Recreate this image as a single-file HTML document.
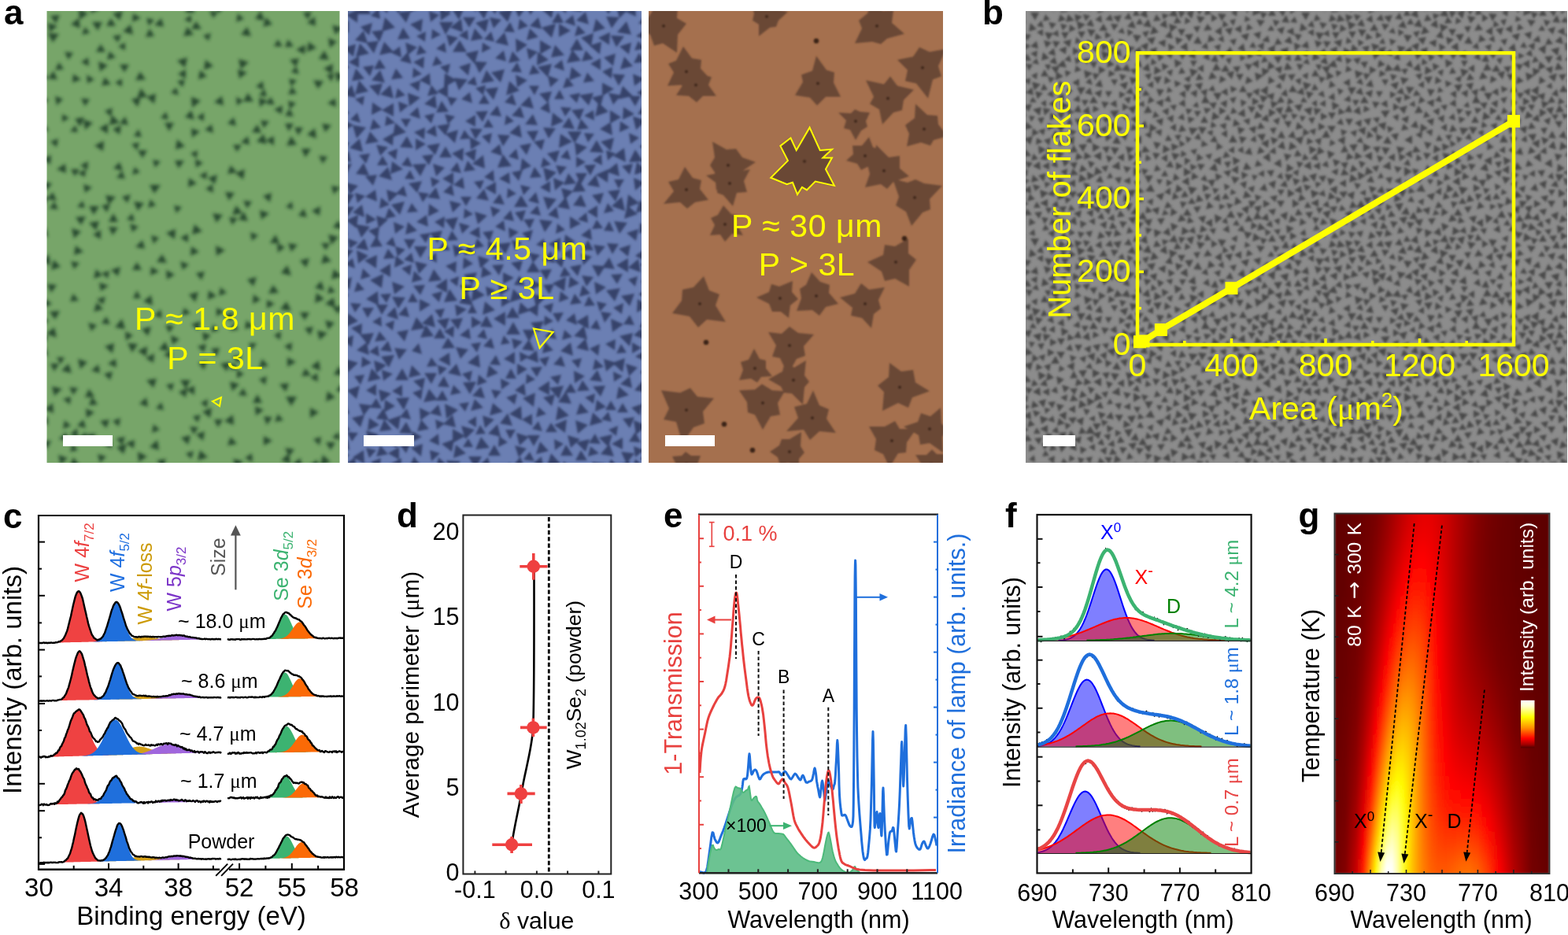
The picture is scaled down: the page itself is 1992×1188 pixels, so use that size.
<!DOCTYPE html>
<html><head><meta charset="utf-8"><title>Figure</title>
<style>html,body{margin:0;padding:0;background:#fff;overflow:hidden}svg{display:block}text{font-family:'Liberation Sans', Arial, Helvetica, sans-serif}</style>
</head><body>
<svg width="1992" height="1188" viewBox="0 0 1992 1188">
<defs><filter id="bl1" x="-5%" y="-5%" width="110%" height="110%"><feGaussianBlur stdDeviation="2.2"/></filter><filter id="bl2" x="-5%" y="-5%" width="110%" height="110%"><feGaussianBlur stdDeviation="1.2"/></filter><filter id="bl4" x="-5%" y="-5%" width="110%" height="110%"><feGaussianBlur stdDeviation="1.7"/></filter><filter id="bl3" x="-5%" y="-5%" width="110%" height="110%"><feGaussianBlur stdDeviation="1.0"/></filter><clipPath id="cg"><rect x="59.5" y="14" width="372.0" height="574"/></clipPath><clipPath id="cb"><rect x="442" y="14" width="373" height="574"/></clipPath><clipPath id="co"><rect x="824" y="14" width="374" height="574"/></clipPath><clipPath id="cy"><rect x="1303" y="14" width="688" height="574"/></clipPath><pattern id="gpat" patternUnits="userSpaceOnUse" x="1303" y="14" width="344" height="287"><path d="M182 123l-1 10l-8 -6zM243 167l8 6l-9 4zM226 78l-8 -5l8 -5zM327 122l-3 10l-7 -8zM143 119l7 -5l1 8zM120 157l10 -2l-3 10zM93 257l-8 -7l11 -3zM294 119l9 0l-4 8zM186 178l-1 -10l10 4zM312 18l4 7l-9 0zM42 172l1 -9l7 5zM115 146l9 3l-7 6zM346 132l-6 6l-3 -8zM2 132l-6 6l-3 -8zM147 158l0 11l-10 -5zM250 263l-9 7l-1 -12zM189 88l9 4l-8 5zM24 74l5 9l-10 0zM201 199l10 6l-10 5zM265 76l-3 11l-7 -8zM232 87l4 -10l7 8zM203 101l0 10l-8 -6zM211 260l-11 0l5 -9zM312 266l2 9l-9 -3zM237 181l-3 8l-6 -6zM129 140l-7 -6l8 -3zM328 90l-8 -7l11 -4zM255 127l-9 5l0 -10zM206 134l9 3l-8 6zM50 75l8 3l-7 6zM40 264l-7 -8l11 -3zM313 -3l5 9l-10 0zM313 284l5 9l-10 0zM276 172l1 9l-8 -4zM261 104l-1 -9l9 4zM240 26l9 -6l0 11zM137 106l-10 -2l7 -7zM98 159l-9 3l2 -10zM170 134l-9 2l3 -9zM161 255l-9 2l2 -9zM61 128l6 -9l4 10zM273 190l-9 6l-1 -11zM303 57l5 7l-9 2zM324 250l-5 -9l10 0zM162 166l10 2l-6 8zM225 59l7 -6l2 10zM28 54l8 -7l2 10zM150 266l11 -2l-4 10zM206 223l12 2l-8 9zM169 27l-11 3l4 -11zM96 51l11 3l-8 8zM203 1l-6 8l-3 -9zM203 288l-6 8l-3 -9zM49 114l-9 -4l8 -6zM42 222l-3 -10l10 2zM279 135l-10 -4l9 -7zM6 85l-1 9l-7 -6zM350 85l-1 9l-7 -6zM141 40l-5 -10l11 1zM281 38l-8 -7l11 -3zM324 235l-4 -8l9 0zM311 160l10 3l-7 7zM37 147l-9 5l0 -10zM-3 185l4 -9l6 8zM341 185l4 -9l6 8zM179 214l8 4l-8 5zM193 23l10 0l-5 9zM169 64l-2 -10l9 4zM250 61l-5 -7l9 0zM202 17l1 -9l7 5zM85 237l11 0l-6 9zM160 55l-7 7l-3 -9zM294 157l11 -1l-4 10zM255 4l-6 9l-5 -10zM255 291l-6 9l-5 -10zM247 242l-9 -3l8 -7zM81 117l5 -9l6 9zM166 99l10 1l-6 9zM241 193l3 11l-11 -3zM298 20l-5 -9l11 1zM294 44l9 -4l-1 10zM19 202l-10 -5l9 -6zM72 61l10 -2l-4 9zM272 89l-5 -9l10 0zM241 102l-9 -1l6 -7zM98 205l-11 4l2 -11zM269 48l8 -7l2 11zM134 199l-6 7l-4 -9zM330 176l-10 -3l7 -8zM290 57l-8 4l0 -8zM217 6l11 2l-7 8zM188 132l-1 10l-8 -6zM60 145l-9 -2l6 -7zM196 213l-9 3l2 -10zM226 241l-10 2l3 -10zM23 92l5 8l-9 1zM131 122l-8 5l0 -10zM261 139l-9 -1l5 -7zM235 149l1 -9l7 6zM321 285l-6 -7l9 -1zM213 20l9 -1l-4 9zM196 242l9 1l-6 8zM236 4l8 5l-8 5zM2 242l3 -10l7 7zM346 242l3 -10l7 7zM141 242l5 -7l4 8zM225 91l-3 10l-7 -8zM278 268l5 -9l6 8zM57 246l6 7l-9 1zM2 38l-5 -9l10 1zM346 38l-5 -9l10 1zM85 262l-8 -6l9 -4zM64 69l7 6l-9 3zM16 171l10 5l-9 6zM177 83l8 6l-9 4zM184 269l10 4l-8 7zM113 95l-5 -8l9 0zM110 102l-5 8l-4 -8zM336 166l9 7l-11 4zM-8 166l9 7l-11 4zM289 231l-7 -6l9 -3zM145 147l7 -8l3 10zM78 169l-5 10l-6 -9zM200 227l-10 4l2 -11zM17 2l-5 10l-6 -10zM17 289l-5 10l-6 -10zM94 280l7 7l-10 3zM94 -7l7 7l-10 3zM154 35l11 -2l-4 10zM166 4l6 8l-10 1zM324 188l1 11l-10 -5zM217 110l-8 -6l9 -4zM23 37l10 3l-7 7zM345 103l-11 0l5 -9zM1 103l-11 0l5 -9zM233 117l10 -1l-4 9zM124 216l9 -5l0 9zM43 70l-4 10l-7 -9zM336 14l6 -7l3 8zM-8 14l6 -7l3 8zM17 155l-9 4l1 -10zM45 155l-6 -9l11 0zM127 172l11 2l-8 8zM224 42l-11 -1l6 -9zM80 267l8 -4l0 9zM109 31l-8 4l0 -9zM33 263l7 7l-10 2zM135 11l-10 -1l6 -8zM308 93l1 -10l8 6zM123 21l3 8l-9 -2zM28 239l0 10l-10 -5zM178 11l2 11l-10 -4zM73 218l9 2l-5 7zM295 209l-5 7l-3 -8zM63 190l2 -10l8 6zM146 216l-4 8l-5 -8zM186 249l-10 2l4 -9zM206 51l-10 -5l9 -6zM221 282l2 -10l8 6zM172 187l8 -5l0 10zM177 46l-9 -6l10 -4zM229 260l-3 10l-7 -8zM202 112l1 10l-9 -4zM271 157l-2 -10l10 3zM58 159l-2 -9l9 3zM63 42l1 -9l7 6zM67 251l4 -10l6 8zM102 277l-8 -6l9 -4zM265 220l-4 -10l11 2zM79 45l-1 -9l8 4zM146 45l1 10l-10 -4zM56 56l2 9l-9 -3zM187 53l-2 8l-7 -6zM323 259l10 -4l-2 11zM164 70l9 6l-10 5zM292 158l1 9l-8 -3zM130 32l-1 -9l8 4zM8 259l-10 1l4 -9zM352 259l-10 1l4 -9zM253 228l-1 -9l8 4zM172 202l-9 2l3 -9zM324 106l7 -7l2 10zM40 241l2 9l-9 -3zM164 288l-1 -11l10 4zM164 1l-1 -11l10 4zM265 247l2 -11l8 7zM158 77l-10 -3l8 -8zM254 61l8 -2l-3 9zM189 61l10 5l-9 6zM156 10l4 11l-11 -2zM56 17l8 6l-9 4zM113 54l7 -6l2 10zM71 195l7 7l-10 3zM89 24l-6 9l-5 -10zM267 10l-3 9l-5 -7zM39 16l-6 7l-4 -9zM256 113l-1 10l-8 -6zM65 97l11 0l-6 10zM39 177l10 4l-8 7zM162 98l-8 -4l8 -5zM84 185l-10 4l1 -10zM306 107l10 -3l-2 10zM182 6l7 -9l4 10zM182 293l7 -9l4 10zM223 173l1 -9l8 6zM20 144l-5 -8l9 -1zM205 182l-8 4l1 -9zM211 162l-6 6l-2 -9zM83 138l-1 10l-8 -6zM78 270l-8 6l-1 -10zM316 43l4 -9l6 8zM233 30l8 7l-10 3zM296 108l-8 -6l9 -4zM112 77l4 -10l7 8zM11 256l10 -1l-4 9zM22 52l8 8l-10 3zM328 75l4 -10l7 9zM297 227l7 -8l3 10zM93 70l9 5l-9 5zM301 186l9 -6l1 12zM306 203l10 -1l-4 9zM21 279l4 -8l5 7zM140 -2l5 8l-9 0zM140 285l5 8l-9 0zM164 153l9 -3l-1 9zM34 38l10 1l-6 8zM213 29l-5 10l-6 -9zM119 80l9 2l-6 7zM275 272l4 9l-10 -2zM283 241l10 1l-7 9zM37 85l-6 7l-3 -9zM328 39l8 -7l3 10zM302 82l-9 7l-2 -11zM329 61l7 -6l1 9zM222 214l6 -6l3 9zM95 173l-10 6l0 -11zM263 157l6 10l-11 0zM51 14l3 -10l8 8zM211 158l-4 -10l12 1zM321 67l-6 -9l11 -1zM325 205l2 9l-8 -3zM75 160l-7 -6l9 -3zM248 42l-2 9l-7 -6zM92 222l10 3l-7 7zM289 22l-9 3l2 -9zM198 157l-4 8l-5 -7zM40 129l10 0l-5 9zM265 137l8 7l-10 3zM229 252l3 -10l7 7zM265 23l9 -5l0 10zM281 216l-2 10l-7 -7zM247 82l8 5l-9 5zM319 148l-4 9l-5 -8zM34 101l2 9l-9 -4zM-1 151l2 -10l8 7zM343 151l2 -10l8 7zM147 200l9 2l-6 7zM349 215l-7 7l-3 -10zM5 215l-7 7l-3 -10zM35 227l2 9l-9 -3zM190 46l-8 5l-1 -10zM280 59l-7 5l-1 -8zM176 114l6 -7l3 9zM127 100l-8 -7l11 -3zM218 135l-4 -8l9 0zM22 32l-8 -5l8 -4zM198 71l5 8l-9 1zM4 76l-4 -9l9 1zM348 76l-4 -9l9 1zM261 2l8 -4l-1 9zM261 289l8 -4l-1 9zM67 146l-5 -9l10 0zM7 63l-10 0l5 -9zM351 63l-10 0l5 -9zM154 284l-2 -9l9 2zM177 33l7 -8l3 10zM214 274l2 9l-9 -3zM341 116l-9 3l2 -9zM202 186l8 4l-8 6zM257 177l8 -5l0 9zM112 258l1 9l-9 -3zM287 67l9 -5l0 11zM63 282l-8 4l1 -9zM63 -5l-8 4l1 -9zM187 74l-2 9l-6 -6zM290 -5l9 7l-11 4zM290 282l9 7l-11 4zM313 124l-2 -10l10 3zM63 214l0 10l-9 -5zM258 211l-7 -7l10 -2zM45 27l10 0l-5 9zM176 230l8 -6l0 10zM106 135l-3 8l-6 -7zM281 161l-7 8l-3 -10zM66 179l-10 1l5 -10zM161 180l10 1l-6 8zM85 79l-9 7l-2 -11zM323 135l-2 10l-7 -6zM9 125l11 -3l-2 11zM119 220l-6 -8l9 -1zM302 250l0 -10l9 5zM60 101l-6 6l-2 -9zM249 268l6 -6l2 9zM339 239l9 6l-9 5zM-5 239l9 6l-9 5zM135 94l-3 -10l11 2zM58 239l-7 6l-1 -9zM76 26l-5 9l-5 -9zM65 13l11 4l-9 7zM260 45l4 9l-10 -1zM276 202l4 -10l7 9zM218 194l10 1l-6 8zM116 123l-9 -5l8 -5zM326 30l-7 -7l10 -3zM175 170l9 6l-10 5zM129 228l11 -1l-5 10zM108 173l11 1l-6 9zM118 17l-6 8l-4 -9zM14 60l3 8l-9 -2zM241 206l9 4l-8 6zM43 88l7 7l-9 3zM6 45l8 -7l2 10zM335 15l-10 -1l6 -9zM309 64l8 7l-10 4zM13 269l-9 4l1 -10zM85 129l1 -9l8 5zM164 114l-9 4l2 -10zM126 261l-10 1l4 -9zM305 277l-11 2l3 -10zM160 188l-8 3l1 -9zM99 16l5 9l-11 0zM65 272l-10 -4l8 -7zM231 16l6 8l-11 1zM51 11l-10 3l3 -10zM207 211l1 11l-10 -5zM224 157l-5 -10l11 1zM182 70l-8 6l-1 -10zM151 81l9 -2l-3 9zM68 96l-9 -5l9 -5zM177 165l4 -8l5 8zM297 115l-9 5l0 -10zM123 276l-4 -9l10 1zM148 72l-9 -3l6 -7zM201 86l9 -4l-2 9zM101 11l7 -7l3 9zM139 46l-8 8l-3 -10zM51 233l-9 -7l10 -4zM49 198l-3 -10l10 3zM101 156l9 4l-8 6zM239 284l-6 -7l9 -1zM218 115l2 8l-8 -2zM17 215l-10 3l2 -10zM11 277l1 9l-8 -3zM11 -10l1 9l-8 -3zM56 209l4 -9l7 8zM88 95l7 -8l3 10zM336 281l9 5l-9 5zM336 -6l9 5l-9 5zM-8 281l9 5l-9 5zM-8 -6l9 5l-9 5zM255 262l6 -9l5 10zM260 185l-10 2l4 -9zM162 209l-6 10l-5 -10zM276 139l9 -3l-1 9zM333 226l9 6l-9 5zM6 15l8 8l-10 3zM58 36l-2 10l-9 -7zM36 288l-8 -6l9 -4zM36 1l-8 -6l9 -4zM103 239l9 4l-8 6zM79 190l9 3l-6 7zM293 47l-9 -1l5 -7zM130 263l11 -2l-4 10zM109 222l3 10l-10 -2zM75 104l7 -7l3 10zM331 191l-3 -10l10 2zM150 97l-7 9l-4 -10zM331 205l1 -11l9 6zM254 151l-8 -6l9 -3zM268 109l-4 9l-5 -7zM172 272l-5 -8l10 -1zM105 84l1 -9l8 5zM3 201l-1 9l-7 -5zM347 201l-1 9l-7 -5zM131 255l-6 -10l11 -1zM173 146l-8 -7l10 -3zM88 250l-12 0l6 -10zM298 1l9 2l-6 7zM298 288l9 2l-6 7zM60 113l8 -6l1 9zM24 217l8 2l-7 6zM218 63l-5 8l-4 -8zM244 167l-10 -1l6 -8zM112 287l2 -10l8 7zM112 0l2 -10l8 7zM281 83l8 6l-10 4zM242 66l6 9l-11 1zM293 146l-2 10l-8 -7zM30 171l-7 -7l9 -3zM238 190l10 -5l0 11zM109 198l10 -7l1 11zM96 198l9 -2l-3 9zM184 27l-2 -11l11 4zM130 181l9 4l-8 6zM193 268l4 -10l7 8zM95 209l4 9l-10 -1zM172 210l5 -8l4 8zM263 71l10 -1l-4 9zM-3 40l9 4l-8 7zM341 40l9 4l-8 7zM246 226l-6 7l-3 -8zM244 114l-6 -10l11 0zM21 197l9 -5l0 10zM157 154l1 -11l9 6zM12 102l10 2l-7 8zM28 172l8 7l-10 4zM289 104l-5 8l-4 -8zM137 131l-7 -8l11 -3zM291 198l3 -9l7 7zM106 277l4 -9l6 8zM39 190l2 9l-9 -3zM113 136l-6 -9l12 -1zM211 10l-7 -8l10 -3zM211 297l-7 -8l10 -3zM133 137l10 -4l-2 10zM64 233l10 -4l-2 11zM183 148l8 -5l0 10zM202 139l-9 -3l7 -6zM120 44l-2 -9l9 3zM300 264l-11 1l5 -10zM295 207l8 -5l0 9zM268 35l-3 9l-6 -7zM277 280l11 2l-7 8zM277 -7l11 2l-7 8zM106 116l-6 8l-4 -9zM81 65l10 -1l-4 9zM228 107l6 10l-11 0zM246 245l8 3l-8 5zM216 61l-10 -4l9 -7zM331 272l10 4l-9 7zM123 60l7 -6l2 9zM125 181l0 10l-9 -5zM308 109l-7 8l-4 -10zM94 150l9 -4l-1 10zM119 111l0 -9l8 4zM146 110l-9 4l0 -9zM38 209l-4 9l-6 -8zM22 13l3 -9l6 7zM184 190l4 9l-10 -1zM131 274l6 7l-9 2zM192 119l-3 8l-6 -7zM287 236l-11 2l3 -10zM229 131l-3 -8l10 1zM160 60l7 6l-8 3zM158 179l-11 1l4 -9zM165 234l11 -3l-3 10zM218 175l-3 8l-6 -6zM60 56l0 -10l9 5zM16 152l9 -3l-2 9zM82 288l-6 -7l9 -2zM82 1l-6 -7l9 -2zM4 133l8 1l-5 7zM114 254l0 -9l8 4zM300 236l-7 6l-2 -9zM225 230l0 -10l9 5zM133 74l9 -1l-4 8zM259 239l-10 0l5 -8zM82 6l-6 7l-3 -9zM294 182l3 -10l7 7zM326 70l-2 10l-8 -7zM124 226l-5 9l-6 -9zM61 170l-9 -6l10 -5zM162 238l-1 9l-7 -5zM136 143l7 7l-10 2zM260 234l1 -8l7 5zM232 142l-10 0l5 -9zM93 44l-3 9l-7 -7zM153 -2l2 11l-10 -4zM153 285l2 11l-10 -4zM48 281l6 7l-10 1zM48 -6l6 7l-10 1zM107 172l-4 9l-6 -8zM321 -1l10 -1l-4 9zM321 286l10 -1l-4 9zM195 54l9 0l-5 8zM288 68l-5 8l-5 -9zM0 104l8 -7l2 10zM344 104l8 -7l2 10zM166 214l8 0l-4 7zM277 257l-5 7l-4 -8zM315 260l-7 -7l10 -2zM290 137l3 -10l8 7zM308 95l-1 12l-9 -6zM250 278l8 -6l1 10zM88 235l-8 -4l8 -4zM89 28l8 6l-9 3zM45 274l-3 -11l10 3zM174 122l-9 -6l10 -4zM37 113l0 9l-8 -4zM97 256l3 9l-9 -2zM79 49l-10 3l2 -10zM37 58l3 10l-10 -3zM185 250l8 6l-9 5zM263 21l-3 10l-7 -8zM164 230l-12 -1l7 -9zM88 11l8 -6l1 10zM317 243l-7 -7l10 -2zM214 268l-9 2l2 -9zM151 157l9 -4l-1 9zM216 88l4 -9l6 8zM0 191l9 2l-6 7zM344 191l9 2l-6 7zM133 258l7 -9l4 10zM14 87l-7 -5l8 -4zM273 112l8 4l-7 6zM42 230l8 7l-10 3zM67 218l2 -11l9 7zM282 258l-8 -7l10 -4zM333 224l-10 -2l7 -7zM256 151l0 10l-8 -5zM263 122l6 7l-9 2zM211 84l-3 -11l11 3zM129 67l4 10l-11 -2zM309 141l-10 -3l8 -7zM248 103l8 -5l1 10zM72 128l8 -7l2 11zM297 36l-8 -7l10 -3zM194 154l4 -10l6 8zM333 160l7 -8l3 10zM-11 160l7 -8l3 10zM110 34l3 8l-8 -1zM22 166l-9 4l1 -9zM226 285l-6 7l-3 -8zM226 -2l-6 7l-3 -8zM318 182l-9 -3l8 -6zM142 188l3 9l-9 -2zM200 197l-9 5l0 -10zM316 55l-9 -7l10 -5zM85 79l9 1l-6 8zM9 220l10 3l-7 6zM42 33l-8 -4l7 -5zM278 181l7 -8l3 10zM85 138l10 -2l-3 10zM122 5l-4 10l-7 -8zM338 140l-4 9l-6 -9zM308 219l10 -4l-2 11zM145 9l4 8l-9 0zM150 130l5 -10l6 9zM167 46l-2 10l-8 -7zM32 125l-8 8l-2 -10zM278 14l1 -8l7 5zM111 186l-6 7l-3 -10zM125 233l9 6l-10 4zM95 41l11 3l-8 7zM5 116l4 -7l5 7zM52 45l-1 10l-9 -6zM110 168l6 -9l5 10zM71 113l9 0l-5 8zM52 209l-8 -5l9 -4zM230 -4l6 8l-9 1zM230 283l6 8l-9 1zM78 204l10 5l-9 6zM298 141l6 8l-10 1zM160 252l10 -3l-2 10zM7 190l3 -9l6 7zM271 103l5 -9l5 9zM323 263l-1 9l-7 -6zM331 26l9 -5l1 10zM-13 26l9 -5l1 10zM230 40l2 9l-9 -3zM64 68l-2 -9l9 3zM19 250l-9 0l4 -8zM261 202l9 -6l0 11zM47 25l-3 -9l9 2zM218 257l-5 -8l10 -1zM317 20l-3 -9l9 2zM31 139l0 -10l9 5zM103 213l4 -8l4 7zM174 282l8 -7l2 11zM174 -5l8 -7l2 11zM308 31l2 9l-10 -2zM137 210l0 -12l10 6zM212 205l8 6l-10 4zM6 54l9 -4l-1 9zM77 18l6 -8l4 10zM144 277l-4 -9l10 1zM197 237l5 -9l5 8zM8 118l-4 10l-7 -8zM352 118l-4 10l-7 -8zM252 40l-8 -4l7 -5zM332 57l-9 -8l11 -3zM69 289l-3 -9l9 2zM69 2l-3 -9l9 2zM309 135l0 -11l9 5zM283 208l-8 6l-1 -10zM6 170l-8 -8l11 -3zM350 170l-8 -8l11 -3zM188 230l7 7l-9 3zM19 93l-8 8l-3 -11zM295 273l-9 5l1 -10zM29 76l-5 -8l8 0zM34 250l-5 8l-4 -8zM112 152l-9 -8l11 -3zM95 110l-8 -6l10 -4zM96 190l-10 -6l10 -5zM20 12l3 9l-9 -2zM192 43l-2 -10l10 3zM214 162l6 -7l3 9zM217 191l1 -10l8 6zM65 229l-5 9l-6 -8zM26 113l0 9l-7 -5zM24 27l11 1l-6 9zM20 238l-2 -11l11 4zM113 68l-10 4l2 -10zM62 129l-9 3l1 -9zM324 108l5 8l-10 1zM152 100l6 7l-10 1zM99 252l9 -2l-2 9zM338 89l-5 -8l10 -1zM-6 89l-5 -8l10 -1zM24 271l-4 -9l9 1zM-3 228l9 -6l1 10zM341 228l9 -6l1 10zM238 128l9 7l-11 4zM206 103l-6 -9l11 -1zM309 163l-1 11l-9 -6zM46 126l-1 -11l10 5zM209 194l9 4l-8 5zM330 162l-10 -1l5 -9zM324 91l1 8l-8 -3zM168 93l-6 -9l11 -1zM76 91l6 -6l3 9zM300 58l-9 -3l7 -6zM345 266l-11 3l3 -10zM1 266l-11 3l3 -10zM146 44l10 -4l-2 11zM179 104l2 -8l6 6zM245 65l-10 -1l6 -9zM173 3l9 2l-7 6zM173 290l9 2l-7 6zM185 180l11 2l-7 8zM16 209l10 -3l-3 11zM71 253l-2 10l-8 -6zM85 168l-9 -2l6 -6zM272 273l-9 -1l5 -7zM192 7l6 8l-10 1zM296 257l-6 -8l10 -2zM307 257l2 10l-10 -3zM88 147l-1 11l-9 -7zM176 252l6 6l-9 2zM257 200l-5 -8l9 -1zM153 34l-5 -7l9 -2zM103 48l11 -3l-4 11zM300 72l10 4l-9 7zM206 132l-3 -8l9 1zM38 151l5 10l-11 0zM28 190l-10 -2l7 -7zM131 118l-6 -7l9 -2zM237 224l-6 -9l10 -1zM62 4l10 3l-8 7zM38 88l1 -11l9 6zM305 286l-1 -9l8 4zM305 -1l-1 -9l8 4zM230 241l-3 -9l9 1zM198 285l1 -11l9 6zM292 122l-5 8l-5 -9zM259 77l-11 0l6 -9zM149 255l5 10l-11 -1zM48 257l-6 -8l10 -1zM237 159l-7 -5l8 -3zM151 230l-9 2l2 -8zM333 217l-4 -10l11 1zM105 235l-7 6l-2 -9zM66 192l-4 9l-6 -8zM324 132l9 -1l-4 8zM222 102l9 -3l-2 10zM136 12l4 10l-11 -2zM258 252l-3 -8l9 2zM329 129l5 -10l6 9zM203 169l-7 4l-1 -9zM206 245l5 -8l5 8zM110 280l-4 8l-6 -8zM110 -7l-4 8l-6 -8zM147 187l-9 -5l8 -5zM237 275l-9 -6l9 -5zM250 21l1 -9l7 6zM52 72l-12 -2l8 -8z" fill="#404040" opacity="0.9"/></pattern><clipPath id="cgm"><rect x="1695.5" y="652.5" width="272.9" height="457.5"/></clipPath><filter id="vbl" x="0" y="-10%" width="100%" height="120%"><feGaussianBlur stdDeviation="0.8 9"/></filter><linearGradient id="gr0"><stop offset="0.000" stop-color="#5f0000"/><stop offset="0.050" stop-color="#620000"/><stop offset="0.100" stop-color="#670000"/><stop offset="0.133" stop-color="#6c0000"/><stop offset="0.167" stop-color="#720000"/><stop offset="0.192" stop-color="#780000"/><stop offset="0.217" stop-color="#840000"/><stop offset="0.242" stop-color="#920000"/><stop offset="0.267" stop-color="#a10000"/><stop offset="0.292" stop-color="#b10000"/><stop offset="0.317" stop-color="#c00000"/><stop offset="0.342" stop-color="#cd0000"/><stop offset="0.367" stop-color="#d90000"/><stop offset="0.392" stop-color="#e00000"/><stop offset="0.417" stop-color="#e40000"/><stop offset="0.450" stop-color="#e30000"/><stop offset="0.483" stop-color="#db0000"/><stop offset="0.517" stop-color="#ce0000"/><stop offset="0.550" stop-color="#be0000"/><stop offset="0.583" stop-color="#ad0000"/><stop offset="0.625" stop-color="#980000"/><stop offset="0.667" stop-color="#850000"/><stop offset="0.717" stop-color="#750000"/><stop offset="0.767" stop-color="#6d0000"/><stop offset="0.833" stop-color="#650000"/><stop offset="0.917" stop-color="#600000"/><stop offset="1.000" stop-color="#5d0000"/></linearGradient><linearGradient id="gr1"><stop offset="0.000" stop-color="#5f0000"/><stop offset="0.050" stop-color="#620000"/><stop offset="0.100" stop-color="#670000"/><stop offset="0.133" stop-color="#6c0000"/><stop offset="0.167" stop-color="#730000"/><stop offset="0.192" stop-color="#790000"/><stop offset="0.217" stop-color="#860000"/><stop offset="0.242" stop-color="#940000"/><stop offset="0.267" stop-color="#a40000"/><stop offset="0.292" stop-color="#b40000"/><stop offset="0.317" stop-color="#c30000"/><stop offset="0.342" stop-color="#d10000"/><stop offset="0.367" stop-color="#dc0000"/><stop offset="0.392" stop-color="#e30000"/><stop offset="0.417" stop-color="#e70000"/><stop offset="0.450" stop-color="#e50000"/><stop offset="0.483" stop-color="#dc0000"/><stop offset="0.517" stop-color="#ce0000"/><stop offset="0.550" stop-color="#be0000"/><stop offset="0.583" stop-color="#ac0000"/><stop offset="0.625" stop-color="#970000"/><stop offset="0.667" stop-color="#840000"/><stop offset="0.717" stop-color="#750000"/><stop offset="0.767" stop-color="#6d0000"/><stop offset="0.833" stop-color="#650000"/><stop offset="0.917" stop-color="#5f0000"/><stop offset="1.000" stop-color="#5c0000"/></linearGradient><linearGradient id="gr2"><stop offset="0.000" stop-color="#600000"/><stop offset="0.050" stop-color="#630000"/><stop offset="0.100" stop-color="#680000"/><stop offset="0.133" stop-color="#6d0000"/><stop offset="0.167" stop-color="#740000"/><stop offset="0.192" stop-color="#7d0000"/><stop offset="0.217" stop-color="#8b0000"/><stop offset="0.242" stop-color="#9a0000"/><stop offset="0.267" stop-color="#ab0000"/><stop offset="0.292" stop-color="#bc0000"/><stop offset="0.317" stop-color="#cc0000"/><stop offset="0.342" stop-color="#da0000"/><stop offset="0.367" stop-color="#e40000"/><stop offset="0.392" stop-color="#eb0000"/><stop offset="0.417" stop-color="#ed0000"/><stop offset="0.450" stop-color="#ea0000"/><stop offset="0.483" stop-color="#df0000"/><stop offset="0.517" stop-color="#cf0000"/><stop offset="0.550" stop-color="#bd0000"/><stop offset="0.583" stop-color="#ab0000"/><stop offset="0.625" stop-color="#950000"/><stop offset="0.667" stop-color="#820000"/><stop offset="0.717" stop-color="#740000"/><stop offset="0.767" stop-color="#6c0000"/><stop offset="0.833" stop-color="#650000"/><stop offset="0.917" stop-color="#5f0000"/><stop offset="1.000" stop-color="#5c0000"/></linearGradient><linearGradient id="gr3"><stop offset="0.000" stop-color="#600000"/><stop offset="0.050" stop-color="#630000"/><stop offset="0.100" stop-color="#690000"/><stop offset="0.133" stop-color="#6f0000"/><stop offset="0.167" stop-color="#760000"/><stop offset="0.192" stop-color="#820000"/><stop offset="0.217" stop-color="#910000"/><stop offset="0.242" stop-color="#a10000"/><stop offset="0.267" stop-color="#b30000"/><stop offset="0.292" stop-color="#c50000"/><stop offset="0.317" stop-color="#d60000"/><stop offset="0.342" stop-color="#e40000"/><stop offset="0.367" stop-color="#ef0000"/><stop offset="0.392" stop-color="#f50000"/><stop offset="0.417" stop-color="#f60000"/><stop offset="0.450" stop-color="#f00000"/><stop offset="0.483" stop-color="#e30000"/><stop offset="0.517" stop-color="#d10000"/><stop offset="0.550" stop-color="#be0000"/><stop offset="0.583" stop-color="#aa0000"/><stop offset="0.625" stop-color="#940000"/><stop offset="0.667" stop-color="#810000"/><stop offset="0.717" stop-color="#730000"/><stop offset="0.767" stop-color="#6c0000"/><stop offset="0.833" stop-color="#650000"/><stop offset="0.917" stop-color="#5f0000"/><stop offset="1.000" stop-color="#5c0000"/></linearGradient><linearGradient id="gr4"><stop offset="0.000" stop-color="#600000"/><stop offset="0.050" stop-color="#640000"/><stop offset="0.100" stop-color="#6a0000"/><stop offset="0.133" stop-color="#700000"/><stop offset="0.167" stop-color="#790000"/><stop offset="0.192" stop-color="#870000"/><stop offset="0.217" stop-color="#970000"/><stop offset="0.242" stop-color="#aa0000"/><stop offset="0.267" stop-color="#bd0000"/><stop offset="0.292" stop-color="#d00000"/><stop offset="0.317" stop-color="#e20000"/><stop offset="0.342" stop-color="#f00000"/><stop offset="0.367" stop-color="#fa0000"/><stop offset="0.392" stop-color="#ff0000"/><stop offset="0.417" stop-color="#ff0000"/><stop offset="0.450" stop-color="#f60000"/><stop offset="0.483" stop-color="#e70000"/><stop offset="0.517" stop-color="#d30000"/><stop offset="0.550" stop-color="#be0000"/><stop offset="0.583" stop-color="#aa0000"/><stop offset="0.625" stop-color="#930000"/><stop offset="0.667" stop-color="#810000"/><stop offset="0.717" stop-color="#730000"/><stop offset="0.767" stop-color="#6c0000"/><stop offset="0.833" stop-color="#650000"/><stop offset="0.917" stop-color="#5f0000"/><stop offset="1.000" stop-color="#5c0000"/></linearGradient><linearGradient id="gr5"><stop offset="0.000" stop-color="#610000"/><stop offset="0.050" stop-color="#650000"/><stop offset="0.100" stop-color="#6b0000"/><stop offset="0.133" stop-color="#720000"/><stop offset="0.167" stop-color="#7d0000"/><stop offset="0.192" stop-color="#8d0000"/><stop offset="0.217" stop-color="#9f0000"/><stop offset="0.242" stop-color="#b30000"/><stop offset="0.267" stop-color="#c70000"/><stop offset="0.292" stop-color="#dc0000"/><stop offset="0.317" stop-color="#ee0000"/><stop offset="0.342" stop-color="#fd0000"/><stop offset="0.367" stop-color="#ff0800"/><stop offset="0.392" stop-color="#ff0c00"/><stop offset="0.417" stop-color="#ff0a00"/><stop offset="0.450" stop-color="#fd0000"/><stop offset="0.483" stop-color="#eb0000"/><stop offset="0.517" stop-color="#d60000"/><stop offset="0.550" stop-color="#bf0000"/><stop offset="0.583" stop-color="#aa0000"/><stop offset="0.625" stop-color="#940000"/><stop offset="0.667" stop-color="#810000"/><stop offset="0.717" stop-color="#740000"/><stop offset="0.767" stop-color="#6c0000"/><stop offset="0.833" stop-color="#650000"/><stop offset="0.917" stop-color="#600000"/><stop offset="1.000" stop-color="#5d0000"/></linearGradient><linearGradient id="gr6"><stop offset="0.000" stop-color="#610000"/><stop offset="0.050" stop-color="#650000"/><stop offset="0.100" stop-color="#6d0000"/><stop offset="0.133" stop-color="#740000"/><stop offset="0.167" stop-color="#820000"/><stop offset="0.192" stop-color="#930000"/><stop offset="0.217" stop-color="#a70000"/><stop offset="0.242" stop-color="#bc0000"/><stop offset="0.267" stop-color="#d30000"/><stop offset="0.292" stop-color="#e90000"/><stop offset="0.317" stop-color="#fc0000"/><stop offset="0.342" stop-color="#ff0d00"/><stop offset="0.367" stop-color="#ff1700"/><stop offset="0.392" stop-color="#ff1900"/><stop offset="0.417" stop-color="#ff1500"/><stop offset="0.450" stop-color="#ff0500"/><stop offset="0.483" stop-color="#ef0000"/><stop offset="0.517" stop-color="#d80000"/><stop offset="0.550" stop-color="#c00000"/><stop offset="0.583" stop-color="#ab0000"/><stop offset="0.625" stop-color="#940000"/><stop offset="0.667" stop-color="#820000"/><stop offset="0.717" stop-color="#740000"/><stop offset="0.767" stop-color="#6d0000"/><stop offset="0.833" stop-color="#660000"/><stop offset="0.917" stop-color="#600000"/><stop offset="1.000" stop-color="#5d0000"/></linearGradient><linearGradient id="gr7"><stop offset="0.000" stop-color="#620000"/><stop offset="0.050" stop-color="#660000"/><stop offset="0.100" stop-color="#6e0000"/><stop offset="0.133" stop-color="#760000"/><stop offset="0.167" stop-color="#880000"/><stop offset="0.192" stop-color="#9a0000"/><stop offset="0.217" stop-color="#b00000"/><stop offset="0.242" stop-color="#c70000"/><stop offset="0.267" stop-color="#e00000"/><stop offset="0.292" stop-color="#f70000"/><stop offset="0.317" stop-color="#ff0d00"/><stop offset="0.342" stop-color="#ff1d00"/><stop offset="0.367" stop-color="#ff2600"/><stop offset="0.392" stop-color="#ff2600"/><stop offset="0.417" stop-color="#ff1f00"/><stop offset="0.450" stop-color="#ff0c00"/><stop offset="0.483" stop-color="#f30000"/><stop offset="0.517" stop-color="#da0000"/><stop offset="0.550" stop-color="#c20000"/><stop offset="0.583" stop-color="#ac0000"/><stop offset="0.625" stop-color="#950000"/><stop offset="0.667" stop-color="#840000"/><stop offset="0.717" stop-color="#750000"/><stop offset="0.767" stop-color="#6e0000"/><stop offset="0.833" stop-color="#670000"/><stop offset="0.917" stop-color="#600000"/><stop offset="1.000" stop-color="#5d0000"/></linearGradient><linearGradient id="gr8"><stop offset="0.000" stop-color="#620000"/><stop offset="0.050" stop-color="#670000"/><stop offset="0.100" stop-color="#6f0000"/><stop offset="0.133" stop-color="#780000"/><stop offset="0.167" stop-color="#8d0000"/><stop offset="0.192" stop-color="#a20000"/><stop offset="0.217" stop-color="#b90000"/><stop offset="0.242" stop-color="#d30000"/><stop offset="0.267" stop-color="#ed0000"/><stop offset="0.292" stop-color="#ff0800"/><stop offset="0.317" stop-color="#ff1e00"/><stop offset="0.342" stop-color="#ff2e00"/><stop offset="0.367" stop-color="#ff3500"/><stop offset="0.392" stop-color="#ff3300"/><stop offset="0.417" stop-color="#ff2a00"/><stop offset="0.450" stop-color="#ff1300"/><stop offset="0.483" stop-color="#f70000"/><stop offset="0.517" stop-color="#dc0000"/><stop offset="0.550" stop-color="#c30000"/><stop offset="0.583" stop-color="#ae0000"/><stop offset="0.625" stop-color="#970000"/><stop offset="0.667" stop-color="#860000"/><stop offset="0.717" stop-color="#770000"/><stop offset="0.767" stop-color="#700000"/><stop offset="0.833" stop-color="#680000"/><stop offset="0.917" stop-color="#610000"/><stop offset="1.000" stop-color="#5d0000"/></linearGradient><linearGradient id="gr9"><stop offset="0.000" stop-color="#630000"/><stop offset="0.050" stop-color="#680000"/><stop offset="0.100" stop-color="#710000"/><stop offset="0.133" stop-color="#7c0000"/><stop offset="0.167" stop-color="#930000"/><stop offset="0.192" stop-color="#aa0000"/><stop offset="0.217" stop-color="#c40000"/><stop offset="0.242" stop-color="#e00000"/><stop offset="0.267" stop-color="#fc0000"/><stop offset="0.292" stop-color="#ff1a00"/><stop offset="0.317" stop-color="#ff3000"/><stop offset="0.342" stop-color="#ff3f00"/><stop offset="0.367" stop-color="#ff4400"/><stop offset="0.392" stop-color="#ff4000"/><stop offset="0.417" stop-color="#ff3400"/><stop offset="0.450" stop-color="#ff1a00"/><stop offset="0.483" stop-color="#fa0000"/><stop offset="0.517" stop-color="#df0000"/><stop offset="0.550" stop-color="#c50000"/><stop offset="0.583" stop-color="#b00000"/><stop offset="0.625" stop-color="#9a0000"/><stop offset="0.667" stop-color="#890000"/><stop offset="0.717" stop-color="#7a0000"/><stop offset="0.767" stop-color="#720000"/><stop offset="0.833" stop-color="#690000"/><stop offset="0.917" stop-color="#610000"/><stop offset="1.000" stop-color="#5d0000"/></linearGradient><linearGradient id="gr10"><stop offset="0.000" stop-color="#630000"/><stop offset="0.050" stop-color="#690000"/><stop offset="0.100" stop-color="#720000"/><stop offset="0.133" stop-color="#800000"/><stop offset="0.167" stop-color="#9a0000"/><stop offset="0.192" stop-color="#b30000"/><stop offset="0.217" stop-color="#cf0000"/><stop offset="0.242" stop-color="#ee0000"/><stop offset="0.267" stop-color="#ff0f00"/><stop offset="0.292" stop-color="#ff2d00"/><stop offset="0.317" stop-color="#ff4300"/><stop offset="0.342" stop-color="#ff5100"/><stop offset="0.367" stop-color="#ff5400"/><stop offset="0.392" stop-color="#ff4d00"/><stop offset="0.417" stop-color="#ff3d00"/><stop offset="0.450" stop-color="#ff2000"/><stop offset="0.483" stop-color="#fe0000"/><stop offset="0.517" stop-color="#e10000"/><stop offset="0.550" stop-color="#c70000"/><stop offset="0.583" stop-color="#b20000"/><stop offset="0.625" stop-color="#9d0000"/><stop offset="0.667" stop-color="#8d0000"/><stop offset="0.717" stop-color="#7e0000"/><stop offset="0.767" stop-color="#740000"/><stop offset="0.833" stop-color="#6b0000"/><stop offset="0.917" stop-color="#620000"/><stop offset="1.000" stop-color="#5d0000"/></linearGradient><linearGradient id="gr11"><stop offset="0.000" stop-color="#640000"/><stop offset="0.050" stop-color="#6a0000"/><stop offset="0.100" stop-color="#740000"/><stop offset="0.133" stop-color="#850000"/><stop offset="0.167" stop-color="#a20000"/><stop offset="0.192" stop-color="#bd0000"/><stop offset="0.217" stop-color="#dc0000"/><stop offset="0.242" stop-color="#fd0000"/><stop offset="0.267" stop-color="#ff2100"/><stop offset="0.292" stop-color="#ff4000"/><stop offset="0.317" stop-color="#ff5700"/><stop offset="0.342" stop-color="#ff6300"/><stop offset="0.367" stop-color="#ff6300"/><stop offset="0.392" stop-color="#ff5800"/><stop offset="0.417" stop-color="#ff4600"/><stop offset="0.450" stop-color="#ff2500"/><stop offset="0.483" stop-color="#ff0200"/><stop offset="0.517" stop-color="#e30000"/><stop offset="0.550" stop-color="#ca0000"/><stop offset="0.583" stop-color="#b60000"/><stop offset="0.625" stop-color="#a20000"/><stop offset="0.667" stop-color="#920000"/><stop offset="0.717" stop-color="#830000"/><stop offset="0.767" stop-color="#760000"/><stop offset="0.833" stop-color="#6d0000"/><stop offset="0.917" stop-color="#630000"/><stop offset="1.000" stop-color="#5e0000"/></linearGradient><linearGradient id="gr12"><stop offset="0.000" stop-color="#640000"/><stop offset="0.050" stop-color="#6a0000"/><stop offset="0.100" stop-color="#760000"/><stop offset="0.133" stop-color="#8a0000"/><stop offset="0.167" stop-color="#aa0000"/><stop offset="0.192" stop-color="#c70000"/><stop offset="0.217" stop-color="#e90000"/><stop offset="0.242" stop-color="#ff1000"/><stop offset="0.267" stop-color="#ff3500"/><stop offset="0.292" stop-color="#ff5500"/><stop offset="0.317" stop-color="#ff6b00"/><stop offset="0.342" stop-color="#ff7400"/><stop offset="0.367" stop-color="#ff7100"/><stop offset="0.392" stop-color="#ff6300"/><stop offset="0.417" stop-color="#ff4d00"/><stop offset="0.450" stop-color="#ff2a00"/><stop offset="0.483" stop-color="#ff0500"/><stop offset="0.517" stop-color="#e60000"/><stop offset="0.550" stop-color="#cd0000"/><stop offset="0.583" stop-color="#b90000"/><stop offset="0.625" stop-color="#a70000"/><stop offset="0.667" stop-color="#980000"/><stop offset="0.717" stop-color="#890000"/><stop offset="0.767" stop-color="#7a0000"/><stop offset="0.833" stop-color="#6f0000"/><stop offset="0.917" stop-color="#640000"/><stop offset="1.000" stop-color="#5e0000"/></linearGradient><linearGradient id="gr13"><stop offset="0.000" stop-color="#650000"/><stop offset="0.050" stop-color="#6b0000"/><stop offset="0.100" stop-color="#780000"/><stop offset="0.133" stop-color="#900000"/><stop offset="0.167" stop-color="#b20000"/><stop offset="0.192" stop-color="#d30000"/><stop offset="0.217" stop-color="#f80000"/><stop offset="0.242" stop-color="#ff2300"/><stop offset="0.267" stop-color="#ff4b00"/><stop offset="0.292" stop-color="#ff6b00"/><stop offset="0.317" stop-color="#ff7f00"/><stop offset="0.342" stop-color="#ff8500"/><stop offset="0.367" stop-color="#ff7f00"/><stop offset="0.392" stop-color="#ff6d00"/><stop offset="0.417" stop-color="#ff5400"/><stop offset="0.450" stop-color="#ff2e00"/><stop offset="0.483" stop-color="#ff0800"/><stop offset="0.517" stop-color="#e90000"/><stop offset="0.550" stop-color="#d10000"/><stop offset="0.583" stop-color="#be0000"/><stop offset="0.625" stop-color="#ad0000"/><stop offset="0.667" stop-color="#9f0000"/><stop offset="0.717" stop-color="#8f0000"/><stop offset="0.767" stop-color="#800000"/><stop offset="0.833" stop-color="#710000"/><stop offset="0.917" stop-color="#650000"/><stop offset="1.000" stop-color="#5e0000"/></linearGradient><linearGradient id="gr14"><stop offset="0.000" stop-color="#660000"/><stop offset="0.050" stop-color="#6d0000"/><stop offset="0.100" stop-color="#7b0000"/><stop offset="0.133" stop-color="#960000"/><stop offset="0.167" stop-color="#bc0000"/><stop offset="0.192" stop-color="#e00000"/><stop offset="0.217" stop-color="#ff0a00"/><stop offset="0.242" stop-color="#ff3700"/><stop offset="0.267" stop-color="#ff6100"/><stop offset="0.292" stop-color="#ff8000"/><stop offset="0.317" stop-color="#ff9300"/><stop offset="0.342" stop-color="#ff9600"/><stop offset="0.367" stop-color="#ff8b00"/><stop offset="0.392" stop-color="#ff7600"/><stop offset="0.417" stop-color="#ff5a00"/><stop offset="0.450" stop-color="#ff3100"/><stop offset="0.483" stop-color="#ff0b00"/><stop offset="0.517" stop-color="#ec0000"/><stop offset="0.550" stop-color="#d50000"/><stop offset="0.583" stop-color="#c40000"/><stop offset="0.625" stop-color="#b30000"/><stop offset="0.667" stop-color="#a60000"/><stop offset="0.717" stop-color="#970000"/><stop offset="0.767" stop-color="#860000"/><stop offset="0.833" stop-color="#730000"/><stop offset="0.917" stop-color="#660000"/><stop offset="1.000" stop-color="#5f0000"/></linearGradient><linearGradient id="gr15"><stop offset="0.000" stop-color="#660000"/><stop offset="0.050" stop-color="#6e0000"/><stop offset="0.100" stop-color="#7f0000"/><stop offset="0.133" stop-color="#9c0000"/><stop offset="0.167" stop-color="#c60000"/><stop offset="0.192" stop-color="#ed0000"/><stop offset="0.217" stop-color="#ff1d00"/><stop offset="0.242" stop-color="#ff4d00"/><stop offset="0.267" stop-color="#ff7800"/><stop offset="0.292" stop-color="#ff9700"/><stop offset="0.317" stop-color="#ffa600"/><stop offset="0.342" stop-color="#ffa500"/><stop offset="0.367" stop-color="#ff9700"/><stop offset="0.392" stop-color="#ff7e00"/><stop offset="0.417" stop-color="#ff5f00"/><stop offset="0.450" stop-color="#ff3400"/><stop offset="0.483" stop-color="#ff0e00"/><stop offset="0.517" stop-color="#ef0000"/><stop offset="0.550" stop-color="#da0000"/><stop offset="0.583" stop-color="#ca0000"/><stop offset="0.625" stop-color="#bb0000"/><stop offset="0.667" stop-color="#af0000"/><stop offset="0.717" stop-color="#9f0000"/><stop offset="0.767" stop-color="#8d0000"/><stop offset="0.833" stop-color="#760000"/><stop offset="0.917" stop-color="#670000"/><stop offset="1.000" stop-color="#5f0000"/></linearGradient><linearGradient id="gr16"><stop offset="0.000" stop-color="#670000"/><stop offset="0.050" stop-color="#6f0000"/><stop offset="0.100" stop-color="#830000"/><stop offset="0.133" stop-color="#a30000"/><stop offset="0.167" stop-color="#d10000"/><stop offset="0.192" stop-color="#fc0000"/><stop offset="0.217" stop-color="#ff3100"/><stop offset="0.242" stop-color="#ff6400"/><stop offset="0.267" stop-color="#ff9000"/><stop offset="0.292" stop-color="#ffad00"/><stop offset="0.317" stop-color="#ffb900"/><stop offset="0.342" stop-color="#ffb400"/><stop offset="0.367" stop-color="#ffa100"/><stop offset="0.392" stop-color="#ff8400"/><stop offset="0.417" stop-color="#ff6300"/><stop offset="0.450" stop-color="#ff3700"/><stop offset="0.483" stop-color="#ff1100"/><stop offset="0.517" stop-color="#f40000"/><stop offset="0.550" stop-color="#e00000"/><stop offset="0.583" stop-color="#d10000"/><stop offset="0.625" stop-color="#c40000"/><stop offset="0.667" stop-color="#b80000"/><stop offset="0.717" stop-color="#a80000"/><stop offset="0.767" stop-color="#950000"/><stop offset="0.833" stop-color="#780000"/><stop offset="0.917" stop-color="#680000"/><stop offset="1.000" stop-color="#5f0000"/></linearGradient><linearGradient id="gr17"><stop offset="0.000" stop-color="#680000"/><stop offset="0.050" stop-color="#700000"/><stop offset="0.100" stop-color="#880000"/><stop offset="0.133" stop-color="#ab0000"/><stop offset="0.167" stop-color="#dd0000"/><stop offset="0.192" stop-color="#ff0f00"/><stop offset="0.217" stop-color="#ff4700"/><stop offset="0.242" stop-color="#ff7d00"/><stop offset="0.267" stop-color="#ffa800"/><stop offset="0.292" stop-color="#ffc300"/><stop offset="0.317" stop-color="#ffcb00"/><stop offset="0.342" stop-color="#ffc100"/><stop offset="0.367" stop-color="#ffa900"/><stop offset="0.392" stop-color="#ff8900"/><stop offset="0.417" stop-color="#ff6600"/><stop offset="0.450" stop-color="#ff3900"/><stop offset="0.483" stop-color="#ff1400"/><stop offset="0.517" stop-color="#f80000"/><stop offset="0.550" stop-color="#e60000"/><stop offset="0.583" stop-color="#da0000"/><stop offset="0.625" stop-color="#ce0000"/><stop offset="0.667" stop-color="#c30000"/><stop offset="0.717" stop-color="#b20000"/><stop offset="0.767" stop-color="#9d0000"/><stop offset="0.833" stop-color="#7e0000"/><stop offset="0.917" stop-color="#690000"/><stop offset="1.000" stop-color="#600000"/></linearGradient><linearGradient id="gr18"><stop offset="0.000" stop-color="#680000"/><stop offset="0.050" stop-color="#710000"/><stop offset="0.100" stop-color="#8c0000"/><stop offset="0.133" stop-color="#b30000"/><stop offset="0.167" stop-color="#eb0000"/><stop offset="0.192" stop-color="#ff2200"/><stop offset="0.217" stop-color="#ff5e00"/><stop offset="0.242" stop-color="#ff9600"/><stop offset="0.267" stop-color="#ffc000"/><stop offset="0.292" stop-color="#ffd800"/><stop offset="0.317" stop-color="#ffdb00"/><stop offset="0.342" stop-color="#ffcc00"/><stop offset="0.367" stop-color="#ffb000"/><stop offset="0.392" stop-color="#ff8d00"/><stop offset="0.417" stop-color="#ff6800"/><stop offset="0.450" stop-color="#ff3c00"/><stop offset="0.483" stop-color="#ff1900"/><stop offset="0.517" stop-color="#fe0000"/><stop offset="0.550" stop-color="#ee0000"/><stop offset="0.583" stop-color="#e30000"/><stop offset="0.625" stop-color="#d90000"/><stop offset="0.667" stop-color="#cf0000"/><stop offset="0.717" stop-color="#bd0000"/><stop offset="0.767" stop-color="#a60000"/><stop offset="0.833" stop-color="#830000"/><stop offset="0.917" stop-color="#6a0000"/><stop offset="1.000" stop-color="#600000"/></linearGradient><linearGradient id="gr19"><stop offset="0.000" stop-color="#690000"/><stop offset="0.050" stop-color="#730000"/><stop offset="0.100" stop-color="#920000"/><stop offset="0.133" stop-color="#bc0000"/><stop offset="0.167" stop-color="#f90000"/><stop offset="0.192" stop-color="#ff3700"/><stop offset="0.217" stop-color="#ff7700"/><stop offset="0.242" stop-color="#ffb000"/><stop offset="0.267" stop-color="#ffd900"/><stop offset="0.292" stop-color="#ffed00"/><stop offset="0.317" stop-color="#ffea00"/><stop offset="0.342" stop-color="#ffd600"/><stop offset="0.367" stop-color="#ffb500"/><stop offset="0.392" stop-color="#ff8f00"/><stop offset="0.417" stop-color="#ff6a00"/><stop offset="0.450" stop-color="#ff3e00"/><stop offset="0.483" stop-color="#ff1d00"/><stop offset="0.517" stop-color="#ff0600"/><stop offset="0.550" stop-color="#f60000"/><stop offset="0.583" stop-color="#ed0000"/><stop offset="0.625" stop-color="#e50000"/><stop offset="0.667" stop-color="#db0000"/><stop offset="0.717" stop-color="#c90000"/><stop offset="0.767" stop-color="#af0000"/><stop offset="0.833" stop-color="#880000"/><stop offset="0.917" stop-color="#6c0000"/><stop offset="1.000" stop-color="#600000"/></linearGradient><linearGradient id="gr20"><stop offset="0.000" stop-color="#6a0000"/><stop offset="0.050" stop-color="#740000"/><stop offset="0.100" stop-color="#970000"/><stop offset="0.133" stop-color="#c60000"/><stop offset="0.167" stop-color="#ff0b00"/><stop offset="0.192" stop-color="#ff4e00"/><stop offset="0.217" stop-color="#ff9100"/><stop offset="0.242" stop-color="#ffca00"/><stop offset="0.267" stop-color="#fff100"/><stop offset="0.292" stop-color="#ffff03"/><stop offset="0.317" stop-color="#fff800"/><stop offset="0.342" stop-color="#ffdd00"/><stop offset="0.367" stop-color="#ffb900"/><stop offset="0.392" stop-color="#ff9100"/><stop offset="0.417" stop-color="#ff6b00"/><stop offset="0.450" stop-color="#ff4100"/><stop offset="0.483" stop-color="#ff2200"/><stop offset="0.517" stop-color="#ff0d00"/><stop offset="0.550" stop-color="#ff0100"/><stop offset="0.583" stop-color="#f90000"/><stop offset="0.625" stop-color="#f30000"/><stop offset="0.667" stop-color="#e90000"/><stop offset="0.717" stop-color="#d50000"/><stop offset="0.767" stop-color="#b90000"/><stop offset="0.833" stop-color="#8e0000"/><stop offset="0.917" stop-color="#6d0000"/><stop offset="1.000" stop-color="#610000"/></linearGradient><linearGradient id="gr21"><stop offset="0.000" stop-color="#6b0000"/><stop offset="0.050" stop-color="#750000"/><stop offset="0.100" stop-color="#9d0000"/><stop offset="0.133" stop-color="#d10000"/><stop offset="0.167" stop-color="#ff1e00"/><stop offset="0.192" stop-color="#ff6600"/><stop offset="0.217" stop-color="#ffac00"/><stop offset="0.242" stop-color="#ffe500"/><stop offset="0.267" stop-color="#ffff18"/><stop offset="0.292" stop-color="#ffff2e"/><stop offset="0.317" stop-color="#ffff0a"/><stop offset="0.342" stop-color="#ffe300"/><stop offset="0.367" stop-color="#ffbb00"/><stop offset="0.392" stop-color="#ff9200"/><stop offset="0.417" stop-color="#ff6d00"/><stop offset="0.450" stop-color="#ff4500"/><stop offset="0.483" stop-color="#ff2900"/><stop offset="0.517" stop-color="#ff1600"/><stop offset="0.550" stop-color="#ff0c00"/><stop offset="0.583" stop-color="#ff0700"/><stop offset="0.625" stop-color="#ff0200"/><stop offset="0.667" stop-color="#f80000"/><stop offset="0.717" stop-color="#e20000"/><stop offset="0.767" stop-color="#c30000"/><stop offset="0.833" stop-color="#940000"/><stop offset="0.917" stop-color="#6e0000"/><stop offset="1.000" stop-color="#610000"/></linearGradient><linearGradient id="gr22"><stop offset="0.000" stop-color="#6c0000"/><stop offset="0.050" stop-color="#770000"/><stop offset="0.100" stop-color="#a40000"/><stop offset="0.133" stop-color="#dc0000"/><stop offset="0.167" stop-color="#ff3300"/><stop offset="0.192" stop-color="#ff8000"/><stop offset="0.217" stop-color="#ffc800"/><stop offset="0.242" stop-color="#ffff04"/><stop offset="0.267" stop-color="#ffff50"/><stop offset="0.292" stop-color="#ffff55"/><stop offset="0.317" stop-color="#ffff1f"/><stop offset="0.342" stop-color="#ffe600"/><stop offset="0.367" stop-color="#ffbc00"/><stop offset="0.392" stop-color="#ff9300"/><stop offset="0.417" stop-color="#ff6f00"/><stop offset="0.450" stop-color="#ff4900"/><stop offset="0.483" stop-color="#ff2f00"/><stop offset="0.517" stop-color="#ff2000"/><stop offset="0.550" stop-color="#ff1900"/><stop offset="0.583" stop-color="#ff1700"/><stop offset="0.625" stop-color="#ff1400"/><stop offset="0.667" stop-color="#ff0a00"/><stop offset="0.717" stop-color="#f00000"/><stop offset="0.767" stop-color="#cd0000"/><stop offset="0.833" stop-color="#9a0000"/><stop offset="0.917" stop-color="#6f0000"/><stop offset="1.000" stop-color="#610000"/></linearGradient><linearGradient id="gr23"><stop offset="0.000" stop-color="#6d0000"/><stop offset="0.050" stop-color="#790000"/><stop offset="0.100" stop-color="#ab0000"/><stop offset="0.133" stop-color="#e90000"/><stop offset="0.167" stop-color="#ff4900"/><stop offset="0.192" stop-color="#ff9b00"/><stop offset="0.217" stop-color="#ffe600"/><stop offset="0.242" stop-color="#ffff47"/><stop offset="0.267" stop-color="#ffff84"/><stop offset="0.292" stop-color="#ffff76"/><stop offset="0.317" stop-color="#ffff2e"/><stop offset="0.342" stop-color="#ffe800"/><stop offset="0.367" stop-color="#ffbc00"/><stop offset="0.392" stop-color="#ff9300"/><stop offset="0.417" stop-color="#ff7000"/><stop offset="0.450" stop-color="#ff4e00"/><stop offset="0.483" stop-color="#ff3700"/><stop offset="0.517" stop-color="#ff2b00"/><stop offset="0.550" stop-color="#ff2800"/><stop offset="0.583" stop-color="#ff2900"/><stop offset="0.625" stop-color="#ff2700"/><stop offset="0.667" stop-color="#ff1d00"/><stop offset="0.717" stop-color="#fe0000"/><stop offset="0.767" stop-color="#d80000"/><stop offset="0.833" stop-color="#a00000"/><stop offset="0.917" stop-color="#710000"/><stop offset="1.000" stop-color="#620000"/></linearGradient><linearGradient id="gr24"><stop offset="0.000" stop-color="#6e0000"/><stop offset="0.050" stop-color="#7c0000"/><stop offset="0.100" stop-color="#b20000"/><stop offset="0.133" stop-color="#f70000"/><stop offset="0.167" stop-color="#ff6200"/><stop offset="0.192" stop-color="#ffb800"/><stop offset="0.217" stop-color="#ffff0b"/><stop offset="0.242" stop-color="#ffff87"/><stop offset="0.267" stop-color="#ffffb2"/><stop offset="0.292" stop-color="#ffff90"/><stop offset="0.317" stop-color="#ffff38"/><stop offset="0.342" stop-color="#ffe800"/><stop offset="0.367" stop-color="#ffbb00"/><stop offset="0.392" stop-color="#ff9300"/><stop offset="0.417" stop-color="#ff7300"/><stop offset="0.450" stop-color="#ff5300"/><stop offset="0.483" stop-color="#ff4000"/><stop offset="0.517" stop-color="#ff3800"/><stop offset="0.550" stop-color="#ff3800"/><stop offset="0.583" stop-color="#ff3b00"/><stop offset="0.625" stop-color="#ff3c00"/><stop offset="0.667" stop-color="#ff3100"/><stop offset="0.717" stop-color="#ff1000"/><stop offset="0.767" stop-color="#e30000"/><stop offset="0.833" stop-color="#a70000"/><stop offset="0.917" stop-color="#720000"/><stop offset="1.000" stop-color="#620000"/></linearGradient><linearGradient id="gr25"><stop offset="0.000" stop-color="#6f0000"/><stop offset="0.050" stop-color="#7f0000"/><stop offset="0.100" stop-color="#bb0000"/><stop offset="0.133" stop-color="#ff0800"/><stop offset="0.167" stop-color="#ff7c00"/><stop offset="0.192" stop-color="#ffd600"/><stop offset="0.217" stop-color="#ffff55"/><stop offset="0.242" stop-color="#ffffc5"/><stop offset="0.267" stop-color="#ffffda"/><stop offset="0.292" stop-color="#ffffa2"/><stop offset="0.317" stop-color="#ffff3b"/><stop offset="0.342" stop-color="#ffe700"/><stop offset="0.367" stop-color="#ffba00"/><stop offset="0.392" stop-color="#ff9400"/><stop offset="0.417" stop-color="#ff7600"/><stop offset="0.450" stop-color="#ff5900"/><stop offset="0.483" stop-color="#ff4900"/><stop offset="0.517" stop-color="#ff4500"/><stop offset="0.550" stop-color="#ff4900"/><stop offset="0.583" stop-color="#ff5000"/><stop offset="0.625" stop-color="#ff5200"/><stop offset="0.667" stop-color="#ff4600"/><stop offset="0.717" stop-color="#ff2200"/><stop offset="0.767" stop-color="#ef0000"/><stop offset="0.833" stop-color="#ad0000"/><stop offset="0.917" stop-color="#730000"/><stop offset="1.000" stop-color="#620000"/></linearGradient><linearGradient id="gr26"><stop offset="0.000" stop-color="#700000"/><stop offset="0.050" stop-color="#820000"/><stop offset="0.100" stop-color="#c40000"/><stop offset="0.133" stop-color="#ff1b00"/><stop offset="0.167" stop-color="#ff9800"/><stop offset="0.192" stop-color="#fff600"/><stop offset="0.217" stop-color="#ffffa0"/><stop offset="0.242" stop-color="#fffffe"/><stop offset="0.267" stop-color="#fffffb"/><stop offset="0.292" stop-color="#ffffad"/><stop offset="0.317" stop-color="#ffff38"/><stop offset="0.342" stop-color="#ffe400"/><stop offset="0.367" stop-color="#ffb900"/><stop offset="0.392" stop-color="#ff9500"/><stop offset="0.417" stop-color="#ff7a00"/><stop offset="0.450" stop-color="#ff6000"/><stop offset="0.483" stop-color="#ff5400"/><stop offset="0.517" stop-color="#ff5400"/><stop offset="0.550" stop-color="#ff5c00"/><stop offset="0.583" stop-color="#ff6600"/><stop offset="0.625" stop-color="#ff6a00"/><stop offset="0.667" stop-color="#ff5c00"/><stop offset="0.717" stop-color="#ff3400"/><stop offset="0.767" stop-color="#fb0000"/><stop offset="0.833" stop-color="#b30000"/><stop offset="0.917" stop-color="#740000"/><stop offset="1.000" stop-color="#630000"/></linearGradient><linearGradient id="gr27"><stop offset="0.000" stop-color="#700000"/><stop offset="0.050" stop-color="#840000"/><stop offset="0.100" stop-color="#c90000"/><stop offset="0.133" stop-color="#ff2600"/><stop offset="0.167" stop-color="#ffa700"/><stop offset="0.192" stop-color="#ffff13"/><stop offset="0.217" stop-color="#ffffc4"/><stop offset="0.242" stop-color="#ffffff"/><stop offset="0.267" stop-color="#ffffff"/><stop offset="0.292" stop-color="#ffffaf"/><stop offset="0.317" stop-color="#ffff35"/><stop offset="0.342" stop-color="#ffe300"/><stop offset="0.367" stop-color="#ffb900"/><stop offset="0.392" stop-color="#ff9600"/><stop offset="0.417" stop-color="#ff7c00"/><stop offset="0.450" stop-color="#ff6400"/><stop offset="0.483" stop-color="#ff5900"/><stop offset="0.517" stop-color="#ff5c00"/><stop offset="0.550" stop-color="#ff6700"/><stop offset="0.583" stop-color="#ff7200"/><stop offset="0.625" stop-color="#ff7600"/><stop offset="0.667" stop-color="#ff6800"/><stop offset="0.717" stop-color="#ff3e00"/><stop offset="0.767" stop-color="#ff0200"/><stop offset="0.833" stop-color="#b70000"/><stop offset="0.917" stop-color="#750000"/><stop offset="1.000" stop-color="#630000"/></linearGradient><linearGradient id="cbar" x1="0" y1="0" x2="0" y2="1"><stop offset="0" stop-color="#ffffff"/><stop offset="0.12" stop-color="#ffffd0"/><stop offset="0.35" stop-color="#ffff00"/><stop offset="0.58" stop-color="#ff9000"/><stop offset="0.8" stop-color="#ff0000"/><stop offset="0.93" stop-color="#a00000"/><stop offset="1" stop-color="#500000"/></linearGradient></defs>
<text x="5" y="30.5" font-size="44" fill="#000" text-anchor="start" font-weight="bold">a</text>
<text x="1248" y="31" font-size="44" fill="#000" text-anchor="start" font-weight="bold">b</text>
<text x="4" y="670.5" font-size="44" fill="#000" text-anchor="start" font-weight="bold">c</text>
<text x="504" y="670.4" font-size="44" fill="#000" text-anchor="start" font-weight="bold">d</text>
<text x="843" y="670.4" font-size="44" fill="#000" text-anchor="start" font-weight="bold">e</text>
<text x="1277" y="670.4" font-size="44" fill="#000" text-anchor="start" font-weight="bold">f</text>
<text x="1649.5" y="670.4" font-size="44" fill="#000" text-anchor="start" font-weight="bold">g</text>
<rect x="59.5" y="14" width="372" height="574" fill="#77a569" stroke="none" stroke-width="0"/>
<g clip-path="url(#cg)" filter="url(#bl1)"><path d="M185 101l-13 1l6 -11zM253 223l10 -5l-1 10zM74 266l-11 -1l6 -9zM218 497l-7 -8l10 -2zM289 566l4 -11l8 9zM426 44l-4 -12l13 3zM112 73l1 11l-10 -5zM119 354l3 -12l8 8zM265 52l-7 -7l10 -3zM309 255l11 1l-6 9zM225 177l10 9l-12 4zM153 339l-3 12l-9 -8zM339 183l-13 -3l9 -10zM208 451l9 -6l1 11zM63 396l13 -1l-6 11zM383 189l12 0l-7 11zM283 273l-8 10l-5 -12zM234 391l8 7l-11 3zM300 595l-4 -12l13 3zM196 401l8 -8l2 11zM77 463l-5 -9l10 0zM198 519l7 -8l3 10zM269 518l-2 13l-10 -8zM166 247l-4 11l-7 -8zM421 104l-6 -9l10 -1zM143 299l-5 -11l12 1zM50 251l11 -1l-4 10zM413 407l12 3l-8 9zM314 34l5 12l-13 -2zM383 478l5 -10l7 9zM100 382l-11 1l4 -10zM141 107l-12 2l4 -11zM51 103l2 -11l8 7zM68 525l-11 -5l10 -8zM156 217l-12 -3l8 -8zM372 589l10 -7l1 12zM87 76l-5 -10l11 1zM377 102l-7 8l-3 -10zM263 97l-11 4l2 -12zM254 572l10 9l-13 4zM155 217l4 10l-11 -1zM259 470l-7 -9l11 -2zM367 576l2 13l-12 -4zM361 440l10 -5l-1 11zM189 33l-3 -10l10 2zM146 416l9 -11l4 13zM407 591l3 -13l10 9zM141 148l-8 -7l10 -4zM285 535l11 -8l1 13zM301 470l9 5l-9 6zM395 466l10 -8l2 13zM125 463l2 11l-11 -3zM432 238l-8 9l-3 -11zM335 114l-10 -4l9 -7zM403 474l1 11l-10 -5zM423 391l11 -3l-4 11zM100 12l12 5l-11 8zM260 548l-2 12l-9 -8zM368 139l-2 -11l10 3zM98 541l8 -8l3 11zM283 533l-6 10l-5 -10zM253 320l-11 5l1 -12zM224 111l3 10l-10 -3zM113 283l13 -2l-4 12zM181 305l3 11l-12 -2zM94 342l-4 -10l11 2zM350 298l5 11l-12 0zM396 268l11 -6l-1 12zM243 412l12 -4l-3 12zM242 553l-3 12l-9 -9zM421 159l-8 9l-4 -11zM370 92l6 -8l4 10zM79 145l9 5l-9 5zM353 526l7 8l-11 2zM314 92l-10 8l-2 -12zM132 565l9 -7l1 12zM427 497l6 -9l5 10zM249 213l-1 -11l10 5zM324 24l7 -10l5 12zM54 202l11 -5l-1 12zM86 582l-9 8l-3 -12zM96 159l3 9l-10 -1zM164 82l-6 10l-6 -10zM373 157l-6 10l-5 -10zM278 420l-10 2l3 -10zM84 549l3 12l-12 -3zM90 504l-1 10l-9 -7zM234 204l-7 10l-5 -10zM259 154l-9 -5l9 -6zM72 134l-2 -12l10 4zM348 185l-10 -7l10 -5zM143 17l13 -3l-4 12zM405 75l7 -11l6 12zM237 495l10 -5l0 12zM320 576l1 11l-10 -5zM321 386l1 -12l9 7zM75 79l6 9l-11 1zM155 100l0 10l-9 -5zM387 407l-6 -10l12 0zM161 279l7 -8l3 10zM148 568l13 -4l-4 13zM168 222l3 -10l7 7zM229 302l10 -5l0 11zM51 167l5 -9l6 8zM71 30l-7 -10l12 -1zM274 312l12 6l-11 7zM325 528l-1 -12l11 5zM426 91l12 5l-10 8zM66 491l13 3l-10 9zM329 482l10 -4l-2 11zM367 487l-4 11l-8 -10zM322 415l-11 3l2 -11zM109 215l-1 10l-9 -5zM265 369l10 7l-11 5zM241 4l7 12l-13 0zM335 163l-4 -10l11 1zM340 128l-10 8l-1 -12zM240 226l10 7l-11 5zM354 372l-13 1l6 -11zM108 165l-2 -13l12 4zM271 23l-5 -9l11 1zM306 181l9 -8l2 11zM235 86l-10 -9l13 -4zM422 556l8 -7l2 10zM367 580l-5 -11l12 2zM129 347l10 -3l-2 10zM411 87l12 -6l-1 13zM398 415l-4 11l-7 -9zM234 25l9 -6l0 10zM112 205l-1 11l-9 -6zM61 452l-13 -3l9 -9zM406 432l-3 -12l13 3zM190 235l14 0l-8 11zM198 261l-10 3l3 -11zM99 493l-6 9l-5 -10zM152 171l-9 -7l11 -5zM200 559l2 13l-12 -4zM421 332l-13 3l4 -12zM330 267l12 4l-10 8zM169 44l-13 -4l10 -9zM168 448l-6 -12l13 1zM271 245l-10 -5l9 -6zM135 544l-8 -9l12 -2zM405 595l-11 -4l9 -7zM134 66l-12 0l6 -10zM334 249l11 -4l-2 12zM197 213l-3 -10l10 2zM248 384l-8 -10l12 -3zM152 157l7 -9l4 11zM426 505l-12 5l2 -13zM59 424l10 -8l3 13zM285 7l-7 10l-5 -11zM370 516l-7 -12l14 0zM93 94l10 7l-11 4zM295 453l12 -2l-4 11zM75 462l-6 10l-5 -10zM301 193l-5 -9l11 0zM303 419l-11 1l5 -10zM256 356l-7 -9l11 -2zM413 386l11 -8l2 13zM142 146l10 10l-13 3zM169 17l10 6l-11 5zM221 156l-6 11l-6 -11zM135 33l6 -10l6 10zM315 118l7 11l-13 0zM244 137l-1 -14l12 5zM368 138l5 10l-11 -1zM170 570l-10 -7l11 -4zM147 250l-9 10l-4 -12zM117 238l-9 7l-2 -11zM104 44l4 -10l6 8zM405 524l-11 7l0 -13zM416 199l-6 9l-5 -10zM334 34l4 -12l8 9zM115 17l2 -11l9 6zM426 125l1 11l-11 -5zM363 263l8 -7l1 10zM193 550l2 -11l8 7zM400 21l1 12l-11 -4zM67 54l-6 -12l14 1zM339 540l-4 -11l11 1zM419 363l7 8l-10 2zM176 164l4 10l-10 -1zM412 380l-12 5l2 -13zM420 572l-6 -10l12 0zM222 304l-11 -8l12 -5zM365 466l0 -12l11 6zM353 50l6 9l-11 0zM143 46l11 -2l-4 10zM187 580l-11 7l-1 -13zM150 59l9 -5l0 10zM296 396l-1 13l-11 -7zM306 88l-3 -13l13 4zM273 234l-9 -8l12 -4zM110 531l-1 -12l11 5zM207 594l-8 -9l12 -2zM370 395l-14 -2l8 -10zM242 483l-6 11l-7 -11zM72 187l-8 -7l10 -4zM421 355l3 -13l10 9zM386 265l4 11l-11 -2zM278 376l2 -11l8 7zM103 125l11 1l-6 9zM301 134l-1 -11l9 5zM167 126l12 -3l-4 13zM212 334l-13 -1l7 -10zM116 421l-4 -11l11 3zM168 343l6 -10l6 10zM196 132l-10 -9l12 -4zM60 529l1 11l-11 -5zM225 103l10 -2l-3 10zM195 310l-3 -11l10 3zM103 294l-9 9l-3 -13zM137 83l-10 8l-2 -13zM233 46l5 -12l8 10zM359 134l-1 11l-10 -6zM366 120l5 -10l6 9zM107 149l-5 12l-7 -10zM77 339l-12 4l3 -13zM368 76l12 -2l-4 11zM211 343l11 6l-10 6zM221 261l10 2l-7 8zM243 140l4 12l-12 -3zM98 263l7 -8l3 9zM256 37l-13 0l6 -10zM341 465l-12 2l4 -11zM135 580l-8 8l-3 -11zM411 103l-7 10l-6 -11zM84 220l-12 -5l11 -7zM402 176l-12 -5l10 -8zM246 552l-5 -10l11 1zM250 201l-8 -6l9 -4zM122 551l-5 11l-8 -10zM94 324l2 -12l10 8zM393 328l-4 12l-8 -9zM89 592l4 -11l8 10zM195 461l-10 -6l11 -6zM285 396l-10 6l0 -11zM61 100l7 -10l5 11zM251 537l-6 -8l10 -2zM300 28l2 -11l8 7zM90 215l11 0l-6 9zM272 130l10 -8l2 12zM110 560l-10 -4l9 -7zM55 391l1 -12l10 7zM300 261l8 10l-13 2zM143 535l10 -4l-2 11zM211 142l3 10l-10 -2zM64 337l-12 -5l10 -9zM126 359l12 4l-10 7zM177 181l-3 10l-7 -8zM357 421l-1 11l-8 -6zM147 73l-11 3l3 -11zM187 440l-1 13l-11 -7zM320 168l7 -10l5 11zM352 309l10 5l-9 7zM391 25l-6 -9l11 -1zM335 566l0 -12l11 6zM238 493l-2 12l-9 -7zM219 438l-2 -12l11 5zM90 541l-10 4l2 -11zM99 556l-10 -4l9 -8zM61 29l12 4l-10 8zM316 436l10 0l-6 9zM199 481l-4 12l-9 -10zM406 566l-8 -8l10 -3zM100 23l2 13l-12 -5zM295 497l-3 -12l12 3zM338 132l6 -9l5 10zM160 433l-1 -12l10 5zM417 298l13 3l-9 10zM67 244l5 11l-12 -2zM188 427l-8 -9l12 -3zM387 69l-11 -6l12 -6zM62 127l-10 7l-2 -12zM58 289l3 12l-12 -4zM128 292l0 12l-10 -6zM155 566l-7 -9l11 -2zM318 295l10 4l-8 7zM87 462l4 12l-13 -3zM289 221l4 -11l8 9zM402 61l-12 5l2 -13zM126 163l11 -6l0 13zM144 271l6 11l-12 0zM339 392l0 -11l10 5zM113 494l7 10l-12 1zM113 262l13 0l-7 11zM103 286l-7 -10l13 -1zM132 179l-1 13l-11 -7zM111 106l-1 -11l10 6zM179 112l8 11l-13 2zM89 574l3 -10l7 8zM424 476l7 -11l5 12zM131 387l-8 -7l11 -3zM205 23l3 11l-12 -2zM291 276l11 1l-7 9zM202 444l8 -10l5 12zM275 453l-7 -10l11 -1zM169 379l5 -10l5 10zM289 157l8 -8l3 11zM298 245l-7 10l-5 -11zM119 396l4 -12l8 9zM236 576l10 -3l-3 10zM408 309l11 0l-5 9zM257 422l11 4l-9 8zM378 311l-8 9l-4 -11zM135 402l5 10l-11 -1zM185 47l5 -11l6 10zM215 423l-5 -10l11 1zM133 440l12 -4l-2 13zM140 483l-8 -8l11 -3zM99 456l12 4l-9 9zM240 336l-8 7l-3 -11zM192 375l2 13l-12 -5zM259 89l2 -13l10 8zM379 172l-5 -10l11 0zM56 437l-6 -10l11 0zM165 284l11 4l-8 7zM311 215l-2 13l-10 -8zM59 571l-6 -11l12 0zM148 467l-11 -5l10 -6zM293 460l-5 12l-8 -10zM262 437l-3 11l-8 -8zM271 169l-11 -4l9 -7zM226 94l10 -6l0 12zM264 507l-1 11l-8 -6zM303 502l6 -9l5 10zM417 48l11 5l-9 8zM72 362l-7 10l-5 -11zM257 294l-13 4l3 -13zM177 513l9 -8l2 12zM129 261l11 -2l-4 11zM364 185l6 -12l7 11zM254 167l-10 8l-1 -12zM175 191l12 0l-6 10zM296 460l7 9l-11 1zM408 357l4 12l-12 -3zM322 364l-8 -9l12 -3zM315 281l-12 -2l7 -10zM130 28l-6 11l-7 -11zM183 258l-8 10l-5 -12zM357 347l8 -10l5 13zM66 233l-7 9l-5 -11zM435 291l-12 -2l7 -9zM62 407l-8 7l-2 -11zM336 113l3 10l-10 -2zM333 512l-12 0l6 -11zM366 50l7 9l-11 1zM124 514l-11 1l4 -11zM192 339l10 6l-11 5z" fill="#24452a" opacity="0.95"/></g>
<rect x="442" y="14" width="373" height="574" fill="#6b7fb3" stroke="none" stroke-width="0"/>
<g clip-path="url(#cb)" filter="url(#bl4)"><path d="M485 470l14 5l-12 9zM681 244l4 15l-14 -4zM799 478l-4 -16l15 5zM462 572l1 17l-15 -8zM568 354l0 18l-15 -8zM675 182l-6 15l-9 -12zM588 404l-6 15l-10 -13zM747 181l-5 -12l13 1zM606 346l-6 16l-11 -13zM457 490l-4 17l-12 -11zM660 158l3 17l-16 -6zM708 549l-15 0l7 -12zM649 468l7 13l-14 0zM792 136l14 9l-15 7zM615 120l7 12l-14 0zM745 270l2 13l-13 -4zM742 138l-6 15l-10 -13zM771 309l15 1l-8 13zM505 112l10 9l-13 4zM566 338l14 -6l-1 15zM485 40l4 -18l13 13zM481 388l-16 -8l15 -10zM675 211l-14 6l2 -16zM437 591l14 -10l2 18zM738 247l7 16l-17 -2zM761 576l-14 4l3 -13zM473 29l-4 16l-11 -11zM622 569l-18 2l7 -16zM674 238l-9 10l-4 -13zM543 336l-11 12l-5 -16zM699 245l-13 -7l13 -8zM818 593l-14 4l3 -14zM542 208l-8 16l-10 -15zM757 24l12 12l-16 5zM690 593l-12 -5l10 -8zM725 569l-4 -16l16 5zM661 460l-1 -13l12 6zM538 87l-13 -8l14 -7zM701 23l-13 -11l16 -6zM455 550l-8 11l-6 -12zM764 533l9 -10l4 13zM465 547l16 5l-12 12zM600 208l14 -11l2 17zM686 93l-14 2l5 -13zM717 327l-3 13l-10 -9zM537 257l-6 -13l14 2zM753 204l11 -8l1 14zM565 538l-10 8l-2 -13zM458 543l-11 -12l16 -4zM622 183l-10 -10l13 -4zM585 586l-10 15l-8 -16zM481 180l-17 3l6 -16zM727 180l-17 8l2 -18zM479 5l16 -6l-3 18zM508 273l-11 -13l17 -4zM657 79l6 13l-14 -1zM717 126l-13 0l7 -12zM673 306l-10 -10l14 -4zM664 419l17 0l-9 15zM505 50l7 -15l9 14zM710 47l0 -17l15 9zM770 517l-14 6l2 -15zM787 297l-7 -16l17 2zM511 504l-13 -7l13 -8zM571 356l12 -5l-2 13zM606 303l9 10l-13 3zM559 417l7 13l-15 0zM796 296l15 -5l-3 15zM645 28l-12 -13l18 -3zM508 59l2 14l-13 -6zM449 72l-13 -11l16 -5zM432 358l15 -6l-3 16zM705 57l12 13l-17 3zM443 79l13 -8l0 15zM598 80l-3 16l-12 -11zM496 352l-14 -8l14 -9zM748 563l8 -12l7 13zM769 313l-10 12l-5 -14zM732 213l0 -14l12 7zM612 580l-8 15l-9 -15zM743 505l13 -5l-2 13zM799 561l8 -12l7 13zM688 225l-15 1l6 -14zM806 373l-6 16l-11 -13zM777 36l-7 -15l17 1zM706 163l-9 13l-7 -14zM667 158l10 -13l6 14zM799 169l13 6l-11 8zM470 356l17 -8l-2 18zM544 288l-15 -6l13 -9zM475 88l7 -13l8 12zM539 147l13 -3l-4 13zM755 358l15 7l-13 9zM504 422l15 -3l-5 15zM673 291l-8 -12l14 -1zM513 304l15 0l-8 13zM439 224l-9 -14l17 -2zM659 295l-12 8l-1 -14zM556 465l-14 1l6 -12zM767 271l5 -13l8 10zM606 448l-8 -11l13 -2zM803 449l0 -14l12 7zM664 506l16 -7l-2 18zM712 446l13 -11l3 17zM746 431l-17 -4l13 -13zM764 4l17 0l-8 14zM620 579l8 -14l8 14zM732 527l5 -15l11 12zM607 285l-4 -16l16 5zM589 188l-1 17l-14 -10zM626 276l-3 -14l13 5zM656 67l-1 -18l15 8zM814 122l-7 13l-8 -13zM429 34l14 -8l0 16zM634 594l15 -6l-2 15zM561 564l16 -6l-3 16zM464 224l15 -2l-5 14zM647 526l15 -10l1 18zM599 383l2 -18l15 10zM637 495l-1 -14l12 6zM822 499l-16 -3l10 -12zM792 412l-14 10l-2 -17zM486 177l14 -8l-1 16zM688 362l-13 7l0 -14zM684 22l4 15l-15 -4zM427 180l17 1l-9 15zM685 119l16 -3l-5 15zM547 387l-14 9l0 -16zM489 105l-17 -3l11 -13zM680 482l-12 6l1 -13zM711 223l-5 -13l14 2zM467 547l2 -16l13 9zM615 229l-5 12l-8 -10zM654 566l15 4l-10 11zM537 24l-2 17l-14 -10zM530 245l-11 -12l17 -3zM557 514l4 15l-15 -4zM532 116l-12 -9l14 -5zM646 80l5 -15l10 12zM594 38l1 13l-12 -6zM569 158l-4 -13l13 3zM690 200l10 9l-13 4zM763 74l0 15l-13 -8zM746 92l9 11l-14 2zM516 576l-9 -12l15 -3zM609 93l-7 -15l17 1zM784 361l-8 -12l15 -1zM678 138l-17 -4l12 -12zM635 318l5 13l-14 -2zM580 402l-2 -15l15 6zM552 394l13 -2l-5 13zM582 305l-14 1l6 -13zM476 434l6 -13l9 11zM794 455l-3 18l-13 -12zM440 415l2 -17l13 10zM700 161l2 -18l14 11zM685 109l-6 12l-7 -12zM727 428l-13 4l3 -13zM549 238l-2 -13l12 5zM760 352l-8 -15l17 1zM612 410l-13 7l0 -15zM767 466l-14 4l3 -14zM454 143l4 13l-13 -4zM524 551l-17 -1l9 -14zM732 499l-15 0l8 -12zM798 247l14 11l-16 6zM446 417l14 -6l-1 15zM804 84l-16 4l5 -16zM699 479l14 -3l-4 13zM641 159l2 -13l10 8zM600 131l-14 -5l11 -9zM709 410l-7 -12l14 -1zM804 208l-4 14l-10 -11zM564 478l7 14l-15 -1zM491 401l11 -11l4 16zM573 135l-5 -12l13 2zM564 290l-12 -8l13 -7zM462 2l9 16l-18 0zM457 425l18 -2l-7 16zM480 303l-12 -10l14 -5zM678 567l-8 -14l16 0zM442 473l-4 -17l17 5zM515 378l-9 14l-8 -15zM760 452l-11 -9l13 -6zM586 499l-14 3l4 -13zM652 367l12 12l-16 5zM777 564l14 -8l0 15zM710 101l-11 10l-3 -15zM721 0l-2 17l-14 -11zM626 258l9 -12l6 14zM698 502l-15 -8l15 -10zM544 275l1 -16l13 9zM822 541l-14 11l-3 -18zM690 362l14 -1l-6 13zM692 177l-4 14l-10 -11zM436 121l11 -13l5 16zM460 391l15 0l-8 13zM589 324l6 -14l9 12zM469 109l17 -3l-5 16zM485 519l-15 -1l8 -12zM486 313l-16 1l8 -14zM603 507l11 11l-16 4zM727 63l11 14l-18 3zM478 503l-13 -7l13 -8zM814 346l-16 -6l13 -11zM730 46l4 -14l10 10zM508 187l9 -14l8 15zM770 369l18 -3l-7 17zM791 512l7 12l-14 0zM571 448l1 17l-15 -8zM481 11l2 13l-12 -4zM503 325l11 9l-13 6zM808 21l-13 -6l12 -9zM639 523l-17 5l4 -16zM611 106l7 -17l10 14zM470 195l-5 13l-9 -11zM658 38l2 -14l11 9zM611 353l2 -15l12 10zM573 17l-13 9l-1 -15zM533 298l14 -2l-6 13zM821 17l6 15l-16 -2zM767 456l16 5l-13 11zM582 165l-4 17l-12 -12zM800 400l6 13l-14 -1zM716 314l2 -16l13 9zM644 252l1 -13l11 7zM554 596l3 -15l11 10zM534 151l-14 -5l11 -10zM428 523l10 -12l6 15zM542 185l17 -3l-6 15zM661 580l5 14l-14 -2zM459 302l-7 -17l18 3zM728 579l-16 0l7 -14zM559 85l13 -4l-3 13zM451 245l13 4l-10 9zM605 10l17 -2l-7 16zM567 67l-13 -5l11 -8zM724 64l9 -15l8 15zM639 346l14 7l-14 8zM723 149l7 15l-16 -2zM746 187l-14 11l-2 -17zM645 562l-12 6l1 -14zM613 400l3 -17l13 11zM827 146l-17 -1l9 -14zM643 121l4 -18l13 12zM583 513l13 -2l-5 12zM586 541l17 5l-12 12zM518 118l16 6l-14 11zM523 336l-2 14l-11 -9zM776 155l2 17l-16 -8zM551 196l-6 14l-9 -12zM517 519l5 14l-14 -3zM780 113l-15 9l0 -17zM558 19l-11 9l-2 -14zM437 536l8 11l-14 1zM723 528l-17 6l3 -18zM535 476l-16 4l4 -16zM637 148l-15 -2l10 -12zM484 251l11 9l-13 5zM498 447l-15 -2l10 -12zM781 445l-12 -8l13 -6zM529 46l12 -6l-1 13zM601 335l-13 7l1 -15zM700 576l12 13l-17 3zM590 240l-14 -5l12 -10zM831 5l-9 13l-7 -14zM534 375l-9 -12l15 -1zM695 195l16 -4l-5 16zM424 446l16 -8l-1 17zM716 235l6 -15l10 13zM635 376l-2 -16l15 7zM672 321l14 3l-9 10zM535 533l10 12l-15 3zM642 294l-13 -6l11 -8zM786 316l15 -5l-3 15zM754 140l1 13l-13 -6zM766 536l-17 5l4 -17zM489 160l2 -13l11 9zM754 318l-15 0l8 -13zM707 263l3 15l-14 -5zM723 102l3 -17l13 11zM575 13l14 -1l-6 13zM764 53l-2 16l-13 -11zM750 373l-14 4l4 -15zM742 210l15 -1l-7 14zM791 109l13 13l-18 4zM767 245l-5 15l-10 -12zM609 288l1 15l-14 -7zM703 445l-14 4l3 -15zM735 468l-9 -10l13 -3zM465 54l16 -2l-6 16zM708 284l10 8l-12 5zM765 91l13 -6l-1 15zM457 176l4 17l-17 -5zM634 227l13 -8l1 15zM736 121l18 -3l-6 16zM656 189l3 14l-13 -4zM754 352l-9 12l-6 -14zM774 57l-14 -9l15 -7zM783 337l15 -9l0 18zM555 138l-16 -6l14 -11zM795 206l-16 -8l14 -10zM513 330l10 -9l3 13zM724 266l-16 -3l11 -13zM783 592l17 -6l-3 17zM802 54l-3 15l-12 -10zM475 83l-5 14l-9 -12zM773 142l-17 6l4 -18zM532 436l4 14l-13 -4zM442 303l13 5l-11 8zM576 235l-14 -8l14 -8zM505 554l-1 15l-12 -8zM780 294l-13 -1l7 -12zM767 73l15 -5l-3 16zM517 250l-14 -4l10 -10zM621 464l12 10l-15 6zM444 247l-4 -15l15 4zM661 135l5 15l-16 -3zM519 134l-11 9l-2 -14zM813 473l13 -8l1 16zM731 534l16 6l-13 11zM565 93l15 9l-16 9zM749 483l10 -13l6 15zM763 180l17 -5l-4 17zM535 508l-11 -9l13 -5zM620 141l-7 14l-9 -13zM702 417l5 14l-15 -3zM747 400l1 18l-16 -9zM442 299l-13 -2l8 -10zM484 402l1 13l-12 -6zM499 174l3 -18l14 12zM663 533l13 -7l0 15zM824 126l-15 -8l14 -9zM606 490l2 -14l11 9zM463 331l16 -7l-1 17zM575 545l16 9l-16 9zM627 405l15 -9l0 18zM731 33l-14 -5l11 -9zM585 456l-6 -15l16 3zM810 380l14 9l-15 8zM579 565l13 11l-16 6zM546 93l1 16l-14 -7zM729 109l-14 3l5 -14zM807 581l-2 -14l13 5zM470 165l4 -14l10 11zM611 491l5 15l-16 -3zM724 275l14 9l-14 7zM639 186l-7 -15l16 1zM730 398l3 15l-14 -6zM735 228l9 15l-17 1zM649 308l-7 15l-10 -13zM479 210l7 -12l7 12zM686 343l15 -1l-7 14zM684 517l10 9l-13 4zM530 60l-12 10l-3 -16zM434 385l-5 -13l14 2zM460 260l3 16l-15 -6zM472 146l1 -16l13 9zM817 205l-18 1l8 -16zM590 165l8 11l-14 1zM652 409l9 16l-18 0zM463 122l-2 12l-10 -8zM710 384l2 -14l11 9zM823 193l-11 -7l12 -6zM563 539l12 -12l4 16zM620 581l4 17l-17 -5zM522 151l-6 11l-7 -11zM808 270l5 -16l12 13zM604 29l17 -5l-4 17zM780 228l13 0l-7 12zM614 49l-16 3l5 -16zM498 546l-16 2l6 -15zM520 593l6 -13l8 11zM740 483l9 13l-16 1zM524 548l12 7l-13 7zM800 162l-13 6l1 -14zM815 417l3 14l-13 -5zM499 301l4 13l-13 -4zM785 541l-2 13l-10 -8zM591 68l17 -4l-5 17zM726 513l-17 -2l10 -14zM739 15l-13 -2l9 -10zM601 362l-9 14l-8 -14zM799 502l-16 5l3 -16zM705 501l-4 15l-11 -11zM528 191l0 -15l13 7zM758 602l-6 -15l17 2zM548 374l14 -4l-4 14zM804 94l15 6l-13 9zM449 159l-14 9l-1 -17zM661 384l12 11l-15 5zM560 44l-12 6l1 -13zM543 251l11 -13l5 15zM778 94l16 1l-8 14zM482 70l6 -17l12 13zM483 566l10 11l-15 3zM640 64l3 14l-14 -4zM619 431l-13 -3l9 -10zM531 269l-14 1l6 -12zM565 279l17 -3l-6 17zM780 580l-17 -3l11 -13zM520 403l-14 -3l10 -11zM825 291l-13 6l1 -14zM681 311l10 -8l2 12zM714 323l12 -7l0 14zM772 232l-15 -10l16 -7zM517 444l-10 13l-6 -15zM431 567l11 -9l2 14zM668 267l-5 15l-9 -12zM802 518l14 -5l-3 15zM453 445l13 -10l3 16zM693 466l-8 -10l13 -3zM585 250l14 0l-7 12zM576 429l-12 -8l13 -7zM693 378l-12 12l-4 -17zM438 331l-6 -15l17 2zM434 134l10 10l-14 3zM557 318l7 -12l8 12zM627 162l-13 0l6 -11zM616 113l17 -2l-6 16zM447 103l5 -16l11 13zM640 426l8 10l-12 2zM691 408l-7 15l-10 -13zM500 131l0 17l-15 -8zM463 368l-13 3l4 -13zM641 88l-5 17l-12 -13zM686 138l11 -9l2 15zM703 463l10 -11l5 14zM669 61l14 5l-11 10zM481 290l-3 -16l15 5zM469 582l-4 -13l13 3zM812 67l7 12l-14 1zM588 486l17 -1l-8 16zM586 220l-14 -3l9 -11zM703 385l-3 13l-10 -9zM649 267l4 14l-14 -3zM524 212l-14 -2l8 -11zM654 496l12 -9l2 16zM771 598l5 -15l10 11zM827 346l-14 -10l16 -7zM522 14l-6 15l-10 -13zM526 168l14 -6l-1 15zM612 67l1 -13l11 7zM784 41l12 -14l6 17zM494 257l-3 -16l15 5zM514 288l-12 9l-2 -15zM502 516l-14 8l1 -16zM564 384l7 -17l10 15zM597 174l14 8l-13 8zM493 212l5 17l-17 -5zM780 485l-1 -13l12 6zM627 293l-5 14l-9 -12zM733 165l5 -14l10 12zM499 420l-10 -8l12 -5zM458 489l-8 -11l13 -2zM655 546l-7 12l-6 -12zM584 51l9 15l-18 0zM514 364l-13 10l-3 -16zM503 87l9 12l-15 2zM426 478l15 -7l-1 17zM664 434l-11 10l-3 -14zM820 403l7 13l-15 0zM671 263l-18 0l9 -15zM688 35l18 -5l-5 18zM654 463l-14 -7l14 -9zM807 242l-2 -16l14 6zM763 396l14 2l-9 12zM559 576l-11 10l-2 -14zM656 134l-15 -4l10 -11zM534 534l-1 -16l14 7zM482 453l-13 -6l11 -8zM826 382l-15 -8l14 -9zM649 334l15 -3l-4 14zM606 109l-13 -3l10 -9zM758 383l13 3l-9 10zM701 60l-15 9l0 -18zM566 172l-11 -12l17 -3zM803 493l-15 -5l12 -10zM754 75l-15 3l5 -14zM567 532l-2 -19l17 8zM614 440l10 -11l4 14zM615 225l12 -9l1 15zM513 521l-10 -15l17 -1zM484 582l-2 14l-11 -9zM537 355l-14 4l3 -15zM478 279l-13 6l0 -14zM575 270l-4 -15l15 4zM712 320l-15 -10l15 -8zM554 509l8 -13l7 13zM638 198l-15 -5l12 -10zM619 377l-2 -13l13 5zM700 319l5 15l-16 -3zM796 589l-7 -15l17 2zM467 55l-16 -4l11 -12zM726 137l-8 11l-6 -12zM561 443l8 -14l9 13zM479 256l-15 -6l13 -9zM637 497l-8 10l-5 -12zM734 351l-10 -12l15 -3zM586 478l-17 -4l11 -12zM594 461l14 -11l2 17zM772 243l16 -2l-6 15zM436 262l14 1l-8 12zM447 441l-12 -9l14 -6zM791 532l15 -2l-6 14zM604 22l-8 13l-8 -13zM561 356l-17 2l7 -16zM537 495l-12 -11l15 -4zM663 308l-9 10l-4 -13zM487 329l6 -13l9 12zM616 239l14 -8l0 16zM659 22l-6 -13l15 1zM669 51l4 -15l11 11zM622 330l-12 11l-3 -16zM705 572l-1 -14l12 6zM744 15l4 16l-16 -5zM775 140l14 9l-14 8zM478 474l-3 -16l16 6zM589 278l1 -13l11 7zM622 463l8 -12l6 13zM519 483l-17 0l9 -15zM452 315l11 -12l5 15zM591 154l13 -8l0 15zM678 180l-9 -13l15 -1zM637 390l0 -14l12 7zM730 373l9 12l-15 2zM717 339l8 11l-14 2zM605 529l0 14l-11 -7zM523 81l-15 -4l10 -11zM494 534l-16 -2l9 -13zM789 121l-10 12l-6 -15zM544 328l10 -7l1 13zM707 253l-11 14l-6 -17zM588 568l7 -11l6 11zM446 206l-14 -4l11 -10zM811 52l8 10l-13 2zM702 281l-10 14l-7 -16zM526 313l17 0l-9 15zM566 44l-8 -16l18 0zM683 402l-13 -9l14 -7zM566 186l8 14l-16 0zM597 287l-10 10l-4 -14zM453 290l-13 -10l15 -7zM507 568l0 16l-14 -8zM468 325l-13 10l-2 -17zM441 262l-9 -16l18 1zM657 500l-3 14l-11 -9zM714 76l3 14l-14 -5zM736 360l-14 6l2 -15zM610 540l7 11l-13 1zM610 415l8 -14l8 15zM561 128l9 14l-16 1zM522 420l7 -17l11 14zM808 46l12 -9l2 14zM428 51l7 -10l6 11zM622 22l15 3l-10 11zM763 504l-10 -13l16 -1zM743 478l-13 9l-1 -16zM554 71l8 10l-13 3zM670 469l-13 8l0 -15zM459 467l1 -14l12 8zM524 99l1 -13l11 8zM632 213l7 -17l11 15zM615 50l9 -10l4 13zM431 90l3 -13l10 9zM770 218l14 -11l3 17zM810 351l-3 13l-9 -9zM822 217l-16 5l3 -16zM763 419l-13 -2l8 -11zM823 367l-9 -10l13 -3zM437 22l-8 -16l18 1zM752 326l-11 11l-3 -15zM472 515l-10 13l-6 -15zM807 325l14 -10l1 18zM792 385l-2 14l-11 -8zM582 48l-11 11l-4 -15zM732 562l17 -4l-5 16zM451 397l-6 -12l14 1zM694 231l-4 -18l17 6zM531 384l-13 0l6 -12zM752 291l6 -12l8 11zM461 341l10 10l-13 4zM621 255l-16 -3l10 -12zM776 509l7 12l-14 0zM515 298l3 -16l12 11zM774 327l7 15l-16 -2zM503 203l-11 -9l13 -5zM535 580l-13 -11l15 -5zM641 41l5 17l-17 -4zM495 590l15 -8l-1 17zM484 481l-17 4l5 -17zM554 224l-4 -16l15 5zM819 431l12 10l-15 5zM594 204l10 12l-15 2zM485 400l-7 -13l15 0zM640 40l8 -12l6 13zM733 131l-10 -10l14 -3zM577 99l17 2l-11 14zM667 363l-14 -1l7 -12zM684 535l5 13l-13 -3zM594 398l6 -12l6 12zM512 215l-16 6l2 -16zM810 272l-17 6l4 -17zM821 153l-13 12l-4 -17zM451 120l5 -18l12 14zM824 80l4 14l-14 -4zM578 327l-3 -16l15 5zM746 269l13 -8l0 16zM453 176l-5 -17l17 3zM713 602l3 -16l12 11zM569 16l-3 -18l17 7zM738 299l12 -9l2 15zM498 4l15 0l-7 13zM782 195l-10 9l-2 -13zM720 533l-2 17l-14 -10zM776 45l17 1l-10 14zM545 560l12 -9l1 15zM682 83l1 -17l14 10zM606 1l-1 14l-11 -8zM814 241l16 1l-9 13zM484 453l17 -2l-7 16zM731 220l15 0l-8 14zM548 108l9 11l-14 3zM452 221l10 -14l7 16zM817 210l3 -15l11 10zM651 541l-16 -3l10 -13zM683 85l18 -4l-5 17zM584 426l12 -9l2 14zM767 194l-18 -1l9 -15zM438 336l10 -8l3 13zM746 585l-15 0l7 -13zM745 12l7 -13l7 12zM663 444l9 -13l7 15zM534 429l7 -16l10 14zM804 423l-4 17l-13 -13zM497 373l-6 12l-8 -11zM790 250l4 18l-17 -6zM748 376l8 12l-14 1zM483 120l13 -12l4 17zM705 242l-2 -16l14 6zM682 479l-8 -12l15 -1zM748 446l-16 -4l12 -12zM754 42l-3 17l-13 -11zM548 488l-9 -14l16 0zM497 500l-13 11l-3 -16zM712 200l9 -10l4 13zM455 12l-1 17l-14 -10zM717 370l-15 -10l17 -8zM789 437l7 11l-13 1zM529 70l4 -13l9 10zM697 573l-16 4l5 -16zM536 411l13 -12l4 17zM820 445l1 15l-14 -7zM505 326l-3 -13l13 4zM613 528l15 5l-12 11zM482 53l-10 -13l16 -2zM506 546l-14 -12l17 -6zM651 390l9 14l-17 0zM674 19l-7 -13l14 1zM684 461l-15 -6l13 -10zM553 159l2 15l-14 -6zM683 261l4 13l-14 -3zM521 216l6 12l-13 -1zM762 238l-16 -3l11 -13zM523 0l12 10l-15 6zM761 556l17 -4l-5 16zM677 332l9 14l-17 0zM698 493l18 -3l-6 17zM546 296l16 -3l-6 16zM587 475l13 -4l-3 14zM783 9l14 4l-10 10zM625 337l15 -1l-6 14zM716 29l-15 0l8 -13zM635 4l-6 14l-10 -12zM493 187l-10 11l-5 -14zM489 278l5 -14l9 11zM614 121l-10 -9l13 -4zM577 249l-14 -5l11 -10zM721 167l18 0l-9 15zM558 477l-2 -13l12 4zM428 572l16 6l-13 11zM659 230l-9 -11l14 -3zM633 313l-13 8l0 -15zM457 55l12 13l-17 4zM670 102l-13 9l-2 -16zM691 414l1 -13l11 7zM825 574l2 16l-14 -7zM672 555l-12 11l-4 -16zM636 555l-16 -4l12 -12zM818 503l14 10l-15 7zM545 494l11 14l-18 3zM717 254l-4 -15l15 4zM588 41l-16 -6l14 -11zM665 584l8 -10l6 12zM767 120l-4 15l-11 -11zM605 189l-2 16l-13 -10zM583 385l11 -14l7 17zM571 404l-5 15l-11 -12zM597 163l16 1l-9 13zM569 124l-14 -8l14 -8z" fill="#313f66" opacity="0.95"/></g>
<rect x="824" y="14" width="374" height="574" fill="#a5704e" stroke="none" stroke-width="0"/>
<g clip-path="url(#co)" filter="url(#bl3)"><path d="M860 67L842 55L831 58L826 44L806 33L823 23L830 12L842 12L862 -3L860 23L872 30L861 44ZM1001 15L989 26L986 34L978 35L964 46L964 31L956 26L958 17L953 1L970 6L980 2L984 11ZM1086 55L1095 36L1091 26L1102 17L1109 0L1121 14L1135 13L1133 29L1149 43L1127 49L1119 56L1108 53ZM848 109L856 92L849 81L859 77L868 59L879 74L891 76L890 87L901 99L885 105L877 114L865 108ZM885 83L891 94L904 98L900 108L910 122L893 122L885 130L875 122L859 121L868 107L867 97L877 95ZM1068 123L1049 123L1038 134L1029 124L1010 121L1020 104L1018 95L1032 90L1037 71L1050 89L1060 92L1059 105ZM1202 62L1192 84L1196 97L1185 101L1179 125L1164 106L1150 103L1153 89L1140 76L1160 72L1168 60L1181 66ZM1121 158L1117 139L1105 132L1110 123L1100 102L1123 107L1131 97L1140 109L1161 114L1148 127L1146 140L1135 143ZM1087 178L1080 165L1072 163L1075 153L1065 143L1081 144L1086 139L1093 142L1105 143L1100 154L1102 161L1094 166ZM1152 186L1155 170L1150 159L1162 150L1163 132L1178 146L1191 147L1192 158L1204 173L1186 178L1182 185L1170 181ZM910 242L908 219L902 210L908 200L905 180L923 190L935 189L943 200L960 206L942 218L939 233L927 229ZM897 223L917 219L924 212L934 219L953 215L945 230L949 244L936 245L931 262L919 248L911 245L912 234ZM900 254L883 257L873 265L864 257L843 259L856 243L849 231L862 228L870 212L880 226L891 229L889 240ZM1099 238L1105 221L1102 209L1110 205L1113 184L1129 200L1143 198L1143 214L1155 224L1135 231L1127 240L1119 234ZM1075 204L1084 196L1083 185L1095 185L1104 174L1109 187L1119 191L1113 202L1118 217L1104 211L1094 216L1089 208ZM1158 287L1151 269L1138 261L1142 250L1134 227L1153 232L1163 228L1174 233L1197 236L1181 253L1182 266L1172 270ZM919 261L929 272L937 274L935 284L944 299L930 297L921 307L915 298L902 299L908 286L903 277L912 273ZM1155 364L1137 354L1124 357L1120 345L1102 333L1122 324L1124 311L1137 313L1154 303L1154 322L1164 330L1155 343ZM922 409L898 406L887 416L876 402L854 398L866 382L867 368L881 365L894 351L901 369L914 374L909 388ZM1002 404L992 396L981 396L977 386L961 378L977 371L980 361L990 364L1007 357L1006 371L1014 380L1004 388ZM1012 395L1018 379L1016 367L1024 362L1031 346L1042 358L1054 362L1053 372L1065 386L1049 390L1041 401L1032 394ZM1107 417L1095 404L1081 401L1083 391L1067 378L1086 373L1094 360L1104 368L1124 365L1116 381L1119 392L1110 399ZM1034 425L1021 440L1023 452L1012 456L1001 476L991 455L981 453L986 439L976 422L993 424L1003 415L1014 423ZM939 483L944 470L941 460L951 457L958 443L965 456L973 458L973 468L981 478L967 479L962 486L954 481ZM1121 522L1123 498L1115 490L1129 479L1130 461L1145 472L1160 470L1163 486L1181 497L1159 505L1154 518L1141 512ZM840 496L864 499L877 493L886 504L907 506L893 523L895 538L881 543L867 563L859 536L843 533L850 519ZM969 546L959 527L950 524L949 511L939 496L959 495L968 488L981 496L997 497L988 512L991 527L979 529ZM1020 514L1006 500L996 499L992 491L976 482L994 472L997 460L1009 467L1024 458L1022 477L1028 485L1022 492ZM1033 496L1041 515L1053 520L1050 532L1062 550L1041 548L1029 559L1021 546L999 548L1014 531L1009 517L1025 513ZM1164 545L1152 562L1151 575L1141 576L1130 594L1122 577L1111 572L1113 558L1104 542L1124 542L1137 535L1143 545ZM1198 575L1181 563L1169 565L1167 553L1148 542L1166 536L1170 525L1182 529L1195 518L1196 538L1204 545L1197 555ZM1018 549L1017 567L1022 575L1015 583L1015 599L1002 588L991 591L988 581L978 574L990 566L993 558L1003 558ZM890 579L886 590L889 598L878 601L873 611L867 601L857 598L859 590L854 580L866 579L871 574L878 579ZM1163 578L1177 578L1184 571L1190 577L1205 577L1197 590L1198 600L1191 602L1181 616L1176 601L1168 598L1170 589ZM1029 162L1042 191L1057 190L1045 200L1057 200L1049 215L1060 236L1036 231L1025 241L1019 238L1013 247L1007 232L1000 234L979 226L1001 204L991 185L1004 175L1012 191Z" fill="#654634" opacity="0.93"/>
<circle cx="1037" cy="52" r="3.2" fill="#3a2216"/>
<circle cx="897" cy="435" r="3.2" fill="#3a2216"/>
<circle cx="920" cy="539" r="3.2" fill="#3a2216"/>
<circle cx="956" cy="572" r="3.2" fill="#3a2216"/>
<circle cx="1149" cy="303" r="3.2" fill="#3a2216"/>
<circle cx="843" cy="33" r="2" fill="#3e2619"/>
<circle cx="974" cy="21" r="2" fill="#3e2619"/>
<circle cx="1114" cy="33" r="2" fill="#3e2619"/>
<circle cx="872" cy="91" r="2" fill="#3e2619"/>
<circle cx="884" cy="108" r="2" fill="#3e2619"/>
<circle cx="1039" cy="106" r="2" fill="#3e2619"/>
<circle cx="1172" cy="86" r="2" fill="#3e2619"/>
<circle cx="1128" cy="125" r="2" fill="#3e2619"/>
<circle cx="1087" cy="154" r="2" fill="#3e2619"/>
<circle cx="1174" cy="164" r="2" fill="#3e2619"/>
<circle cx="1022" cy="205" r="2" fill="#3e2619"/>
<circle cx="925" cy="210" r="2" fill="#3e2619"/>
<circle cx="927" cy="233" r="2" fill="#3e2619"/>
<circle cx="872" cy="241" r="2" fill="#3e2619"/>
<circle cx="1123" cy="217" r="2" fill="#3e2619"/>
<circle cx="1099" cy="198" r="2" fill="#3e2619"/>
<circle cx="1162" cy="251" r="2" fill="#3e2619"/>
<circle cx="921" cy="285" r="2" fill="#3e2619"/>
<circle cx="1138" cy="333" r="2" fill="#3e2619"/>
<circle cx="889" cy="386" r="2" fill="#3e2619"/>
<circle cx="991" cy="379" r="2" fill="#3e2619"/>
<circle cx="1037" cy="376" r="2" fill="#3e2619"/>
<circle cx="1099" cy="386" r="2" fill="#3e2619"/>
<circle cx="1003" cy="439" r="2" fill="#3e2619"/>
<circle cx="959" cy="468" r="2" fill="#3e2619"/>
<circle cx="1143" cy="492" r="2" fill="#3e2619"/>
<circle cx="872" cy="521" r="2" fill="#3e2619"/>
<circle cx="969" cy="512" r="2" fill="#3e2619"/>
<circle cx="1008" cy="483" r="2" fill="#3e2619"/>
<circle cx="1032" cy="531" r="2" fill="#3e2619"/>
<circle cx="1133" cy="560" r="2" fill="#3e2619"/>
<circle cx="1181" cy="545" r="2" fill="#3e2619"/>
<circle cx="1003" cy="574" r="2" fill="#3e2619"/>
<circle cx="872" cy="590" r="2" fill="#3e2619"/>
<circle cx="1183" cy="590" r="2" fill="#3e2619"/>
</g>
<rect x="1303" y="14" width="688" height="574" fill="#8c8c8c" stroke="none" stroke-width="0"/>
<g clip-path="url(#cy)" filter="url(#bl4)"><rect x="1303" y="14" width="688" height="574" fill="url(#gpat)"/></g>
<rect x="80" y="553" width="63" height="14" fill="#fff" stroke="none" stroke-width="0"/>
<rect x="462" y="553" width="64" height="14" fill="#fff" stroke="none" stroke-width="0"/>
<rect x="845" y="553" width="63" height="14" fill="#fff" stroke="none" stroke-width="0"/>
<rect x="1325" y="553" width="41" height="14" fill="#fff" stroke="none" stroke-width="0"/>
<text x="273" y="418.5" font-size="41" fill="#ffff00" text-anchor="middle" letter-spacing="0.6">P ≈ 1.8 μm</text>
<text x="273.5" y="468.5" font-size="41" fill="#ffff00" text-anchor="middle" letter-spacing="0.6">P = 3L</text>
<text x="644.5" y="330" font-size="41" fill="#ffff00" text-anchor="middle" letter-spacing="0.6">P ≈ 4.5 μm</text>
<text x="644" y="380" font-size="41" fill="#ffff00" text-anchor="middle" letter-spacing="0.6">P ≥ 3L</text>
<text x="1025" y="301" font-size="41" fill="#ffff00" text-anchor="middle" letter-spacing="0.6">P ≈ 30 μm</text>
<text x="1025" y="350" font-size="41" fill="#ffff00" text-anchor="middle" letter-spacing="0.6">P &gt; 3L</text>
<path d="M270 510 L281 505 L279 516 Z" fill="none" stroke="#ffff00" stroke-width="2"/>
<path d="M678 417.5 L702.5 422 L685.6 442 Z" fill="none" stroke="#ffff00" stroke-width="2.2"/>
<path d="M1028.6 162 L1041.8 190.9 L1057 189.7 L1045.4 200.5 L1057 200.5 L1049 215 L1059.9 235.9 L1035.8 230.6 L1025 241.4 L1019 237.8 L1013 247 L1006.9 231.8 L999.7 234.2 L979.2 225.8 L1000.9 204.1 L991.3 185.4 L1004.5 175.3 L1011.7 190.9 Z" fill="none" stroke="#ffff00" stroke-width="2"/>
<rect x="1445" y="67.3" width="478" height="370.7" fill="none" stroke="#ffff00" stroke-width="4.5"/>
<line x1="1445" y1="438" x2="1445" y2="430" stroke="#ffff00" stroke-width="3.5"/>
<line x1="1504.8" y1="438" x2="1504.8" y2="433" stroke="#ffff00" stroke-width="3.5"/>
<line x1="1564.5" y1="438" x2="1564.5" y2="430" stroke="#ffff00" stroke-width="3.5"/>
<line x1="1624.2" y1="438" x2="1624.2" y2="433" stroke="#ffff00" stroke-width="3.5"/>
<line x1="1684" y1="438" x2="1684" y2="430" stroke="#ffff00" stroke-width="3.5"/>
<line x1="1743.8" y1="438" x2="1743.8" y2="433" stroke="#ffff00" stroke-width="3.5"/>
<line x1="1803.5" y1="438" x2="1803.5" y2="430" stroke="#ffff00" stroke-width="3.5"/>
<line x1="1863.2" y1="438" x2="1863.2" y2="433" stroke="#ffff00" stroke-width="3.5"/>
<line x1="1923" y1="438" x2="1923" y2="430" stroke="#ffff00" stroke-width="3.5"/>
<line x1="1445" y1="438" x2="1453" y2="438" stroke="#ffff00" stroke-width="3.5"/>
<line x1="1445" y1="391.7" x2="1450" y2="391.7" stroke="#ffff00" stroke-width="3.5"/>
<line x1="1445" y1="345.3" x2="1453" y2="345.3" stroke="#ffff00" stroke-width="3.5"/>
<line x1="1445" y1="299" x2="1450" y2="299" stroke="#ffff00" stroke-width="3.5"/>
<line x1="1445" y1="252.7" x2="1453" y2="252.7" stroke="#ffff00" stroke-width="3.5"/>
<line x1="1445" y1="206.3" x2="1450" y2="206.3" stroke="#ffff00" stroke-width="3.5"/>
<line x1="1445" y1="160" x2="1453" y2="160" stroke="#ffff00" stroke-width="3.5"/>
<line x1="1445" y1="113.6" x2="1450" y2="113.6" stroke="#ffff00" stroke-width="3.5"/>
<line x1="1445" y1="67.3" x2="1453" y2="67.3" stroke="#ffff00" stroke-width="3.5"/>
<text x="1436.5" y="450.5" font-size="41" fill="#ffff00" text-anchor="end">0</text>
<text x="1436.5" y="357.8" font-size="41" fill="#ffff00" text-anchor="end">200</text>
<text x="1436.5" y="265.1" font-size="41" fill="#ffff00" text-anchor="end">400</text>
<text x="1436.5" y="172.5" font-size="41" fill="#ffff00" text-anchor="end">600</text>
<text x="1436.5" y="79.8" font-size="41" fill="#ffff00" text-anchor="end">800</text>
<text x="1445" y="477.5" font-size="41" fill="#ffff00" text-anchor="middle">0</text>
<text x="1564.5" y="477.5" font-size="41" fill="#ffff00" text-anchor="middle">400</text>
<text x="1684" y="477.5" font-size="41" fill="#ffff00" text-anchor="middle">800</text>
<text x="1803.5" y="477.5" font-size="41" fill="#ffff00" text-anchor="middle">1200</text>
<text x="1923" y="477.5" font-size="41" fill="#ffff00" text-anchor="middle">1600</text>
<text x="1360" y="253.7" font-size="40" fill="#ffff00" text-anchor="middle" transform="rotate(-90 1360 253.7)">Number of flakes</text>
<text x="1685" y="533" font-size="41" fill="#ffff00" text-anchor="middle">Area (<tspan font-family="Liberation Serif">μ</tspan>m<tspan font-size="26" dy="-16">2</tspan><tspan dy="16">)</tspan></text>
<path d="M1448 434.3 L1452.5 433.4 L1474.9 419 L1564.5 366.2 L1923 154" fill="none" stroke="#ffff00" stroke-width="8" stroke-linejoin="round"/>
<rect x="1440" y="426.3" width="16" height="16" fill="#ffff00" stroke="none" stroke-width="0"/>
<rect x="1444.5" y="425.4" width="16" height="16" fill="#ffff00" stroke="none" stroke-width="0"/>
<rect x="1466.9" y="411" width="16" height="16" fill="#ffff00" stroke="none" stroke-width="0"/>
<rect x="1556.5" y="358.2" width="16" height="16" fill="#ffff00" stroke="none" stroke-width="0"/>
<rect x="1915" y="146" width="16" height="16" fill="#ffff00" stroke="none" stroke-width="0"/>
<path d="M125 815.4 L126 815.3 L127 815.3 L128 815.3 L129 815.3 L130 815.2 L131 815.2 L132 815.2 L133 815.2 L134 815.1 L135 815.1 L136 815.1 L137 815 L138 815 L139 814.9 L140 814.9 L141 814.8 L142 814.8 L143 814.7 L144 814.7 L145 814.6 L146 814.5 L147 814.4 L148 814.4 L149 814.3 L150 814.2 L151 814 L152 813.9 L153 813.8 L154 813.7 L155 813.5 L156 813.4 L157 813.2 L158 813 L159 812.9 L160 812.7 L161 812.5 L162 812.3 L163 812.1 L164 811.9 L165 811.7 L166 811.5 L167 811.2 L168 811 L169 810.8 L170 810.6 L171 810.4 L172 810.2 L173 810.1 L174 809.9 L175 809.8 L176 809.6 L177 809.5 L178 809.4 L179 809.3 L180 809.2 L181 809.2 L182 809.1 L183 809.1 L184 809.1 L185 809.2 L186 809.2 L187 809.3 L188 809.4 L189 809.4 L190 809.6 L191 809.7 L192 809.8 L193 810 L194 810.1 L195 810.3 L196 810.4 L197 810.6 L198 810.8 L199 810.9 L200 811.1 L201 811.3 L202 811.4 L203 811.6 L204 811.7 L205 811.9 L206 812 L207 812.1 L208 812.2 L209 812.4 L210 812.5 L211 812.5 L212 812.6 L213 812.7 L214 812.8 L215 812.8 L216 812.9 L217 812.9 L218 813 L219 813 L220 813 L221 813 L222 813.1 L223 813.1 L224 813.1 L225 813.1 L226 813.1 L227 813.1 L228 813.1 L229 813.1 L230 813 L231 813 L232 813 L233 813 L234 813 L235 813 L236 813 L237 812.9 L238 812.9 L239 812.9 L239 812.9 L238 812.9 L237 813 L236 813 L235 813 L234 813 L233 813 L232 813.1 L231 813.1 L230 813.1 L229 813.1 L228 813.1 L227 813.2 L226 813.2 L225 813.2 L224 813.2 L223 813.3 L222 813.3 L221 813.3 L220 813.3 L219 813.3 L218 813.4 L217 813.4 L216 813.4 L215 813.4 L214 813.5 L213 813.5 L212 813.5 L211 813.5 L210 813.5 L209 813.6 L208 813.6 L207 813.6 L206 813.6 L205 813.6 L204 813.7 L203 813.7 L202 813.7 L201 813.7 L200 813.8 L199 813.8 L198 813.8 L197 813.8 L196 813.8 L195 813.9 L194 813.9 L193 813.9 L192 813.9 L191 813.9 L190 814 L189 814 L188 814 L187 814 L186 814.1 L185 814.1 L184 814.1 L183 814.1 L182 814.1 L181 814.2 L180 814.2 L179 814.2 L178 814.2 L177 814.3 L176 814.3 L175 814.3 L174 814.3 L173 814.3 L172 814.4 L171 814.4 L170 814.4 L169 814.4 L168 814.4 L167 814.5 L166 814.5 L165 814.5 L164 814.5 L163 814.6 L162 814.6 L161 814.6 L160 814.6 L159 814.6 L158 814.7 L157 814.7 L156 814.7 L155 814.7 L154 814.7 L153 814.8 L152 814.8 L151 814.8 L150 814.8 L149 814.9 L148 814.9 L147 814.9 L146 814.9 L145 814.9 L144 815 L143 815 L142 815 L141 815 L140 815.1 L139 815.1 L138 815.1 L137 815.1 L136 815.1 L135 815.2 L134 815.2 L133 815.2 L132 815.2 L131 815.2 L130 815.3 L129 815.3 L128 815.3 L127 815.3 L126 815.4 L125 815.4 Z" fill="#d4a017" stroke="none" stroke-width="0"/>
<path d="M168 814.4 L169 814.4 L170 814.4 L171 814.4 L172 814.3 L173 814.3 L174 814.3 L175 814.2 L176 814.2 L177 814.2 L178 814.1 L179 814.1 L180 814.1 L181 814 L182 814 L183 813.9 L184 813.9 L185 813.8 L186 813.7 L187 813.7 L188 813.6 L189 813.5 L190 813.4 L191 813.3 L192 813.2 L193 813.1 L194 813 L195 812.8 L196 812.7 L197 812.5 L198 812.4 L199 812.2 L200 812 L201 811.8 L202 811.6 L203 811.4 L204 811.1 L205 810.9 L206 810.7 L207 810.4 L208 810.2 L209 809.9 L210 809.7 L211 809.4 L212 809.2 L213 808.9 L214 808.7 L215 808.5 L216 808.3 L217 808.1 L218 807.9 L219 807.7 L220 807.6 L221 807.5 L222 807.4 L223 807.3 L224 807.2 L225 807.2 L226 807.2 L227 807.2 L228 807.3 L229 807.3 L230 807.4 L231 807.5 L232 807.6 L233 807.7 L234 807.9 L235 808.1 L236 808.2 L237 808.4 L238 808.6 L239 808.8 L240 809 L241 809.2 L242 809.4 L243 809.6 L244 809.8 L245 810 L246 810.2 L247 810.4 L248 810.6 L249 810.7 L250 810.9 L251 811 L252 811.2 L253 811.3 L254 811.4 L255 811.5 L256 811.6 L257 811.7 L258 811.8 L259 811.8 L260 811.9 L261 812 L262 812 L263 812 L264 812.1 L265 812.1 L266 812.1 L267 812.1 L268 812.1 L269 812.1 L270 812.1 L271 812.1 L272 812.1 L273 812.1 L274 812.1 L275 812.1 L276 812.1 L277 812.1 L278 812 L279 812 L280 812 L281 812 L281 812 L280 812 L279 812 L278 812.1 L277 812.1 L276 812.1 L275 812.1 L274 812.2 L273 812.2 L272 812.2 L271 812.2 L270 812.2 L269 812.3 L268 812.3 L267 812.3 L266 812.3 L265 812.3 L264 812.4 L263 812.4 L262 812.4 L261 812.4 L260 812.5 L259 812.5 L258 812.5 L257 812.5 L256 812.5 L255 812.6 L254 812.6 L253 812.6 L252 812.6 L251 812.6 L250 812.7 L249 812.7 L248 812.7 L247 812.7 L246 812.8 L245 812.8 L244 812.8 L243 812.8 L242 812.8 L241 812.9 L240 812.9 L239 812.9 L238 812.9 L237 813 L236 813 L235 813 L234 813 L233 813 L232 813.1 L231 813.1 L230 813.1 L229 813.1 L228 813.1 L227 813.2 L226 813.2 L225 813.2 L224 813.2 L223 813.3 L222 813.3 L221 813.3 L220 813.3 L219 813.3 L218 813.4 L217 813.4 L216 813.4 L215 813.4 L214 813.5 L213 813.5 L212 813.5 L211 813.5 L210 813.5 L209 813.6 L208 813.6 L207 813.6 L206 813.6 L205 813.6 L204 813.7 L203 813.7 L202 813.7 L201 813.7 L200 813.8 L199 813.8 L198 813.8 L197 813.8 L196 813.8 L195 813.9 L194 813.9 L193 813.9 L192 813.9 L191 813.9 L190 814 L189 814 L188 814 L187 814 L186 814.1 L185 814.1 L184 814.1 L183 814.1 L182 814.1 L181 814.2 L180 814.2 L179 814.2 L178 814.2 L177 814.3 L176 814.3 L175 814.3 L174 814.3 L173 814.3 L172 814.4 L171 814.4 L170 814.4 L169 814.4 L168 814.4 Z" fill="#a066dd" stroke="none" stroke-width="0"/>
<path d="M69 816.5 L70 816.4 L71 816.3 L72 816.2 L73 816 L74 815.8 L75 815.5 L76 815.1 L77 814.5 L78 813.9 L79 813 L80 811.9 L81 810.5 L82 808.9 L83 806.9 L84 804.5 L85 801.8 L86 798.6 L87 795.1 L88 791.2 L89 787 L90 782.6 L91 778.1 L92 773.5 L93 769 L94 764.7 L95 760.8 L96 757.4 L97 754.6 L98 752.5 L99 751.3 L100 750.9 L101 751.4 L102 752.8 L103 754.9 L104 757.8 L105 761.3 L106 765.2 L107 769.5 L108 774 L109 778.6 L110 783.1 L111 787.4 L112 791.5 L113 795.3 L114 798.7 L115 801.7 L116 804.3 L117 806.5 L118 808.4 L119 810 L120 811.3 L121 812.3 L122 813 L123 813.7 L124 814.1 L125 814.5 L126 814.7 L127 814.9 L128 815 L129 815.1 L130 815.1 L130 815.3 L129 815.3 L128 815.3 L127 815.3 L126 815.4 L125 815.4 L124 815.4 L123 815.4 L122 815.4 L121 815.5 L120 815.5 L119 815.5 L118 815.5 L117 815.5 L116 815.6 L115 815.6 L114 815.6 L113 815.6 L112 815.7 L111 815.7 L110 815.7 L109 815.7 L108 815.7 L107 815.8 L106 815.8 L105 815.8 L104 815.8 L103 815.9 L102 815.9 L101 815.9 L100 815.9 L99 815.9 L98 816 L97 816 L96 816 L95 816 L94 816 L93 816.1 L92 816.1 L91 816.1 L90 816.1 L89 816.2 L88 816.2 L87 816.2 L86 816.2 L85 816.2 L84 816.3 L83 816.3 L82 816.3 L81 816.3 L80 816.4 L79 816.4 L78 816.4 L77 816.4 L76 816.4 L75 816.5 L74 816.5 L73 816.5 L72 816.5 L71 816.5 L70 816.6 L69 816.6 Z" fill="#ef4242" stroke="none" stroke-width="0"/>
<path d="M117 815.5 L118 815.4 L119 815.3 L120 815.2 L121 815.1 L122 814.9 L123 814.6 L124 814.3 L125 813.9 L126 813.4 L127 812.7 L128 811.8 L129 810.8 L130 809.5 L131 807.9 L132 806.1 L133 803.9 L134 801.5 L135 798.8 L136 795.8 L137 792.6 L138 789.2 L139 785.7 L140 782.2 L141 778.8 L142 775.6 L143 772.6 L144 770.1 L145 768 L146 766.5 L147 765.6 L148 765.4 L149 765.8 L150 766.9 L151 768.6 L152 770.9 L153 773.5 L154 776.6 L155 779.9 L156 783.3 L157 786.8 L158 790.2 L159 793.4 L160 796.5 L161 799.4 L162 801.9 L163 804.2 L164 806.1 L165 807.8 L166 809.2 L167 810.4 L168 811.3 L169 812.1 L170 812.6 L171 813.1 L172 813.4 L173 813.7 L174 813.8 L175 814 L176 814 L177 814.1 L178 814.1 L178 814.2 L177 814.3 L176 814.3 L175 814.3 L174 814.3 L173 814.3 L172 814.4 L171 814.4 L170 814.4 L169 814.4 L168 814.4 L167 814.5 L166 814.5 L165 814.5 L164 814.5 L163 814.6 L162 814.6 L161 814.6 L160 814.6 L159 814.6 L158 814.7 L157 814.7 L156 814.7 L155 814.7 L154 814.7 L153 814.8 L152 814.8 L151 814.8 L150 814.8 L149 814.9 L148 814.9 L147 814.9 L146 814.9 L145 814.9 L144 815 L143 815 L142 815 L141 815 L140 815.1 L139 815.1 L138 815.1 L137 815.1 L136 815.1 L135 815.2 L134 815.2 L133 815.2 L132 815.2 L131 815.2 L130 815.3 L129 815.3 L128 815.3 L127 815.3 L126 815.4 L125 815.4 L124 815.4 L123 815.4 L122 815.4 L121 815.5 L120 815.5 L119 815.5 L118 815.5 L117 815.5 Z" fill="#1f6fdc" stroke="none" stroke-width="0"/>
<path d="M50 816.8 L51 817 L52 816.9 L53 817 L54 817 L55 816.5 L56 816.5 L57 817.1 L58 816.6 L59 816.6 L60 817.2 L61 816.7 L62 817 L63 816.7 L64 816.8 L65 816.4 L66 816.7 L67 816.9 L68 816.6 L69 816.7 L70 816.6 L71 816 L72 816.4 L73 816.1 L74 815.6 L75 815.1 L76 815.4 L77 814.5 L78 814 L79 813.3 L80 812.1 L81 810.9 L82 808.8 L83 807.1 L84 804.5 L85 802.1 L86 798.9 L87 794.8 L88 790.9 L89 786.8 L90 783 L91 778 L92 773.6 L93 768.8 L94 764.7 L95 760.7 L96 757.2 L97 754.6 L98 752.6 L99 751.6 L100 751.1 L101 751.8 L102 753.1 L103 755.3 L104 758 L105 761 L106 765.5 L107 769.9 L108 774.4 L109 778.6 L110 783.3 L111 787.2 L112 791.8 L113 795.3 L114 798.5 L115 801.3 L116 804.5 L117 806.9 L118 808 L119 810 L120 810.9 L121 811.6 L122 812.3 L123 813.1 L124 813.3 L125 812.6 L126 812.8 L127 811.8 L128 811.7 L129 810.4 L130 809.6 L131 808.2 L132 806 L133 804.3 L134 801.3 L135 798.4 L136 795.8 L137 792.1 L138 788.9 L139 785.5 L140 782.2 L141 778.4 L142 775 L143 772.7 L144 769.6 L145 768 L146 766.4 L147 765.1 L148 764.8 L149 765.3 L150 766.4 L151 767.9 L152 770 L153 772.7 L154 775.8 L155 778.7 L156 781.9 L157 785.5 L158 788.3 L159 791.5 L160 795 L161 797.3 L162 799.7 L163 801.3 L164 803.4 L165 805 L166 805.8 L167 807.2 L168 808 L169 808.1 L170 808.9 L171 809.1 L172 809.4 L173 809.2 L174 809.6 L175 809.6 L176 808.9 L177 808.9 L178 809.3 L179 809.5 L180 808.9 L181 809 L182 809 L183 808.8 L184 808.8 L185 808.7 L186 808.8 L187 809 L188 808.8 L189 808.9 L190 809.2 L191 808.7 L192 809.2 L193 809.3 L194 809 L195 809 L196 809.5 L197 809.1 L198 809.1 L199 809.3 L200 809.5 L201 809 L202 809.1 L203 809.1 L204 809.5 L205 809.1 L206 809.3 L207 808.7 L208 808.7 L209 808.8 L210 808.9 L211 808.4 L212 808.1 L213 807.9 L214 808.1 L215 807.6 L216 808 L217 807.9 L218 807.3 L219 807.2 L220 807.6 L221 807.3 L222 807.4 L223 807 L224 806.8 L225 806.9 L226 807.3 L227 806.9 L228 807 L229 807.2 L230 807.3 L231 807.4 L232 807.9 L233 807.4 L234 807.5 L235 808.4 L236 808.5 L237 808.8 L238 808.6 L239 809.2 L240 809.4 L241 809 L242 809.6 L243 809.9 L244 810 L245 810 L246 810.1 L247 810.3 L248 810.4 L249 810.4 L250 811 L251 810.9 L252 811.4 L253 810.9 L254 811.7 L255 811.7 L256 812 L257 812 L258 812.1 L259 811.9 L260 811.5 L261 812.2 L262 811.7 L263 811.9 L264 812.2 L265 812.1 L266 812 L267 812.5 L268 812.2 L269 812 L270 811.9 L271 812.4 L272 812.1 L273 812.3 L274 812 L275 811.8 L276 812.1 L277 812.3 L278 811.8 L279 812.3 L280 812.3 L281 812.2" fill="none" stroke="#000" stroke-width="2.4" stroke-linejoin="round"/>
<path d="M333 812 L334 811.9 L335 811.9 L336 811.8 L337 811.7 L338 811.5 L339 811.3 L340 811.1 L341 810.7 L342 810.3 L343 809.7 L344 809 L345 808.1 L346 807.1 L347 805.8 L348 804.4 L349 802.8 L350 801 L351 799 L352 796.8 L353 794.6 L354 792.3 L355 790.1 L356 787.9 L357 785.9 L358 784.2 L359 782.7 L360 781.6 L361 780.9 L362 780.7 L363 780.9 L364 781.6 L365 782.6 L366 784.1 L367 785.8 L368 787.8 L369 789.9 L370 792.1 L371 794.4 L372 796.6 L373 798.7 L374 800.7 L375 802.5 L376 804.1 L377 805.5 L378 806.7 L379 807.7 L380 808.5 L381 809.2 L382 809.8 L383 810.2 L384 810.5 L385 810.8 L386 810.9 L387 811.1 L388 811.2 L389 811.2 L390 811.3 L391 811.3 L391 811.4 L390 811.4 L389 811.4 L388 811.4 L387 811.4 L386 811.4 L385 811.4 L384 811.4 L383 811.4 L382 811.5 L381 811.5 L380 811.5 L379 811.5 L378 811.5 L377 811.5 L376 811.5 L375 811.5 L374 811.6 L373 811.6 L372 811.6 L371 811.6 L370 811.6 L369 811.6 L368 811.6 L367 811.6 L366 811.7 L365 811.7 L364 811.7 L363 811.7 L362 811.7 L361 811.7 L360 811.7 L359 811.7 L358 811.8 L357 811.8 L356 811.8 L355 811.8 L354 811.8 L353 811.8 L352 811.8 L351 811.8 L350 811.9 L349 811.9 L348 811.9 L347 811.9 L346 811.9 L345 811.9 L344 811.9 L343 811.9 L342 812 L341 812 L340 812 L339 812 L338 812 L337 812 L336 812 L335 812 L334 812 L333 812.1 Z" fill="#3cb371" stroke="none" stroke-width="0"/>
<path d="M350 811.8 L351 811.8 L352 811.7 L353 811.7 L354 811.6 L355 811.5 L356 811.4 L357 811.3 L358 811.1 L359 810.8 L360 810.5 L361 810.1 L362 809.6 L363 809 L364 808.3 L365 807.5 L366 806.6 L367 805.5 L368 804.3 L369 803 L370 801.6 L371 800.2 L372 798.7 L373 797.2 L374 795.8 L375 794.4 L376 793.2 L377 792.2 L378 791.4 L379 790.8 L380 790.5 L381 790.5 L382 790.8 L383 791.3 L384 792.1 L385 793.1 L386 794.3 L387 795.6 L388 797 L389 798.5 L390 800 L391 801.4 L392 802.7 L393 804 L394 805.2 L395 806.2 L396 807.2 L397 807.9 L398 808.6 L399 809.2 L400 809.6 L401 810 L402 810.3 L403 810.5 L404 810.7 L405 810.8 L406 810.9 L407 811 L408 811 L409 811 L410 811.1 L411 811.1 L411 811.1 L410 811.1 L409 811.1 L408 811.1 L407 811.2 L406 811.2 L405 811.2 L404 811.2 L403 811.2 L402 811.2 L401 811.2 L400 811.2 L399 811.3 L398 811.3 L397 811.3 L396 811.3 L395 811.3 L394 811.3 L393 811.3 L392 811.3 L391 811.4 L390 811.4 L389 811.4 L388 811.4 L387 811.4 L386 811.4 L385 811.4 L384 811.4 L383 811.4 L382 811.5 L381 811.5 L380 811.5 L379 811.5 L378 811.5 L377 811.5 L376 811.5 L375 811.5 L374 811.6 L373 811.6 L372 811.6 L371 811.6 L370 811.6 L369 811.6 L368 811.6 L367 811.6 L366 811.7 L365 811.7 L364 811.7 L363 811.7 L362 811.7 L361 811.7 L360 811.7 L359 811.7 L358 811.8 L357 811.8 L356 811.8 L355 811.8 L354 811.8 L353 811.8 L352 811.8 L351 811.8 L350 811.9 Z" fill="#fb6a06" stroke="none" stroke-width="0"/>
<path d="M289 812.9 L290 812.2 L291 812.7 L292 812.9 L293 812.2 L294 812.4 L295 812.3 L296 812.5 L297 812.4 L298 812.5 L299 812.7 L300 812.1 L301 812.1 L302 812.1 L303 812.1 L304 812.1 L305 812.8 L306 812.7 L307 812 L308 812.4 L309 812.2 L310 812.2 L311 812.2 L312 812.4 L313 812.4 L314 812.2 L315 812 L316 812.1 L317 812 L318 812.3 L319 812.4 L320 812.1 L321 811.9 L322 811.9 L323 812.1 L324 812.3 L325 812.4 L326 812 L327 812.4 L328 812.2 L329 812 L330 812 L331 812.1 L332 812.2 L333 811.9 L334 812.1 L335 811.8 L336 811.6 L337 811.7 L338 811.7 L339 811 L340 811 L341 810.6 L342 810.6 L343 810 L344 808.9 L345 808.4 L346 807.3 L347 805.6 L348 804.4 L349 802.4 L350 801.2 L351 799 L352 797 L353 794.7 L354 792.3 L355 790 L356 787.6 L357 785.1 L358 783.5 L359 781.4 L360 780.1 L361 779.6 L362 778.3 L363 777.9 L364 777.9 L365 778.8 L366 778.7 L367 779.3 L368 780.7 L369 781 L370 782.4 L371 783.1 L372 784 L373 784.7 L374 784.9 L375 785.6 L376 785.4 L377 786.4 L378 786.6 L379 787.2 L380 787.3 L381 788.5 L382 789.4 L383 789.7 L384 791 L385 792.5 L386 794.1 L387 795.1 L388 796.5 L389 798.1 L390 799.9 L391 801.5 L392 802.6 L393 803.9 L394 805.1 L395 806.1 L396 807.1 L397 807.6 L398 808.6 L399 809.6 L400 809.6 L401 810.2 L402 810 L403 810.7 L404 810.9 L405 811 L406 810.9 L407 811 L408 811.1 L409 811.4 L410 810.8 L411 810.7 L412 811.3 L413 811.4 L414 811.1 L415 811 L416 811.2 L417 810.8 L418 810.8 L419 810.8 L420 811.1 L421 810.8 L422 810.8 L423 811.1 L424 811.3 L425 810.8 L426 811.1 L427 810.8 L428 811.2 L429 811 L430 810.7 L431 810.6 L432 810.5 L433 810.8 L434 810.7 L435 810.6 L436 810.7" fill="none" stroke="#000" stroke-width="2.4" stroke-linejoin="round"/>
<path d="M127 889.1 L128 889.1 L129 889.1 L130 889 L131 889 L132 889 L133 889 L134 888.9 L135 888.9 L136 888.9 L137 888.9 L138 888.8 L139 888.8 L140 888.7 L141 888.7 L142 888.7 L143 888.6 L144 888.6 L145 888.5 L146 888.4 L147 888.4 L148 888.3 L149 888.2 L150 888.1 L151 888 L152 887.9 L153 887.8 L154 887.7 L155 887.6 L156 887.5 L157 887.3 L158 887.2 L159 887 L160 886.9 L161 886.7 L162 886.5 L163 886.3 L164 886.2 L165 886 L166 885.8 L167 885.6 L168 885.4 L169 885.3 L170 885.1 L171 885 L172 884.8 L173 884.7 L174 884.6 L175 884.4 L176 884.3 L177 884.3 L178 884.2 L179 884.2 L180 884.1 L181 884.1 L182 884.1 L183 884.2 L184 884.2 L185 884.3 L186 884.3 L187 884.4 L188 884.5 L189 884.6 L190 884.8 L191 884.9 L192 885 L193 885.2 L194 885.3 L195 885.4 L196 885.6 L197 885.7 L198 885.9 L199 886 L200 886.1 L201 886.3 L202 886.4 L203 886.5 L204 886.6 L205 886.7 L206 886.8 L207 886.9 L208 886.9 L209 887 L210 887 L211 887.1 L212 887.1 L213 887.2 L214 887.2 L215 887.2 L216 887.3 L217 887.3 L218 887.3 L219 887.3 L220 887.3 L221 887.3 L222 887.3 L223 887.3 L224 887.3 L225 887.3 L226 887.3 L227 887.3 L228 887.2 L229 887.2 L230 887.2 L231 887.2 L232 887.2 L233 887.2 L233 887.2 L232 887.2 L231 887.2 L230 887.2 L229 887.2 L228 887.3 L227 887.3 L226 887.3 L225 887.3 L224 887.3 L223 887.4 L222 887.4 L221 887.4 L220 887.4 L219 887.4 L218 887.4 L217 887.5 L216 887.5 L215 887.5 L214 887.5 L213 887.5 L212 887.6 L211 887.6 L210 887.6 L209 887.6 L208 887.6 L207 887.6 L206 887.7 L205 887.7 L204 887.7 L203 887.7 L202 887.7 L201 887.8 L200 887.8 L199 887.8 L198 887.8 L197 887.8 L196 887.8 L195 887.9 L194 887.9 L193 887.9 L192 887.9 L191 887.9 L190 888 L189 888 L188 888 L187 888 L186 888 L185 888 L184 888.1 L183 888.1 L182 888.1 L181 888.1 L180 888.1 L179 888.2 L178 888.2 L177 888.2 L176 888.2 L175 888.2 L174 888.2 L173 888.3 L172 888.3 L171 888.3 L170 888.3 L169 888.3 L168 888.4 L167 888.4 L166 888.4 L165 888.4 L164 888.4 L163 888.4 L162 888.5 L161 888.5 L160 888.5 L159 888.5 L158 888.5 L157 888.6 L156 888.6 L155 888.6 L154 888.6 L153 888.6 L152 888.6 L151 888.7 L150 888.7 L149 888.7 L148 888.7 L147 888.7 L146 888.8 L145 888.8 L144 888.8 L143 888.8 L142 888.8 L141 888.8 L140 888.9 L139 888.9 L138 888.9 L137 888.9 L136 888.9 L135 889 L134 889 L133 889 L132 889 L131 889 L130 889 L129 889.1 L128 889.1 L127 889.1 Z" fill="#d4a017" stroke="none" stroke-width="0"/>
<path d="M178 888.2 L179 888.1 L180 888.1 L181 888.1 L182 888.1 L183 888 L184 888 L185 888 L186 888 L187 887.9 L188 887.9 L189 887.8 L190 887.8 L191 887.8 L192 887.7 L193 887.6 L194 887.6 L195 887.5 L196 887.4 L197 887.3 L198 887.2 L199 887.1 L200 887 L201 886.8 L202 886.7 L203 886.5 L204 886.3 L205 886.1 L206 885.9 L207 885.7 L208 885.5 L209 885.2 L210 885 L211 884.7 L212 884.4 L213 884.2 L214 883.9 L215 883.6 L216 883.3 L217 883.1 L218 882.8 L219 882.5 L220 882.3 L221 882.1 L222 881.9 L223 881.7 L224 881.6 L225 881.5 L226 881.4 L227 881.3 L228 881.3 L229 881.3 L230 881.3 L231 881.3 L232 881.4 L233 881.5 L234 881.7 L235 881.8 L236 882 L237 882.2 L238 882.4 L239 882.7 L240 882.9 L241 883.1 L242 883.4 L243 883.6 L244 883.9 L245 884.1 L246 884.3 L247 884.5 L248 884.7 L249 884.9 L250 885.1 L251 885.3 L252 885.4 L253 885.6 L254 885.7 L255 885.8 L256 885.9 L257 886 L258 886.1 L259 886.2 L260 886.2 L261 886.3 L262 886.3 L263 886.4 L264 886.4 L265 886.4 L266 886.4 L267 886.4 L268 886.4 L269 886.4 L270 886.4 L271 886.4 L272 886.4 L273 886.4 L274 886.4 L275 886.4 L276 886.4 L277 886.4 L278 886.3 L278 886.4 L277 886.4 L276 886.4 L275 886.4 L274 886.4 L273 886.4 L272 886.5 L271 886.5 L270 886.5 L269 886.5 L268 886.5 L267 886.6 L266 886.6 L265 886.6 L264 886.6 L263 886.6 L262 886.6 L261 886.7 L260 886.7 L259 886.7 L258 886.7 L257 886.7 L256 886.8 L255 886.8 L254 886.8 L253 886.8 L252 886.8 L251 886.8 L250 886.9 L249 886.9 L248 886.9 L247 886.9 L246 886.9 L245 887 L244 887 L243 887 L242 887 L241 887 L240 887 L239 887.1 L238 887.1 L237 887.1 L236 887.1 L235 887.1 L234 887.2 L233 887.2 L232 887.2 L231 887.2 L230 887.2 L229 887.2 L228 887.3 L227 887.3 L226 887.3 L225 887.3 L224 887.3 L223 887.4 L222 887.4 L221 887.4 L220 887.4 L219 887.4 L218 887.4 L217 887.5 L216 887.5 L215 887.5 L214 887.5 L213 887.5 L212 887.6 L211 887.6 L210 887.6 L209 887.6 L208 887.6 L207 887.6 L206 887.7 L205 887.7 L204 887.7 L203 887.7 L202 887.7 L201 887.8 L200 887.8 L199 887.8 L198 887.8 L197 887.8 L196 887.8 L195 887.9 L194 887.9 L193 887.9 L192 887.9 L191 887.9 L190 888 L189 888 L188 888 L187 888 L186 888 L185 888 L184 888.1 L183 888.1 L182 888.1 L181 888.1 L180 888.1 L179 888.2 L178 888.2 Z" fill="#a066dd" stroke="none" stroke-width="0"/>
<path d="M71 890 L72 889.9 L73 889.8 L74 889.6 L75 889.4 L76 889.1 L77 888.7 L78 888.3 L79 887.6 L80 886.8 L81 885.8 L82 884.5 L83 883 L84 881.1 L85 878.9 L86 876.3 L87 873.3 L88 870 L89 866.4 L90 862.4 L91 858.2 L92 853.9 L93 849.5 L94 845.2 L95 841.1 L96 837.3 L97 834 L98 831.3 L99 829.3 L100 828 L101 827.6 L102 828 L103 829.2 L104 831.2 L105 833.9 L106 837.1 L107 840.9 L108 844.9 L109 849.2 L110 853.6 L111 857.9 L112 862 L113 865.9 L114 869.6 L115 872.8 L116 875.8 L117 878.3 L118 880.5 L119 882.3 L120 883.8 L121 885.1 L122 886 L123 886.8 L124 887.4 L125 887.9 L126 888.2 L127 888.5 L128 888.6 L129 888.8 L130 888.8 L131 888.9 L131 889 L130 889 L129 889.1 L128 889.1 L127 889.1 L126 889.1 L125 889.1 L124 889.2 L123 889.2 L122 889.2 L121 889.2 L120 889.2 L119 889.2 L118 889.3 L117 889.3 L116 889.3 L115 889.3 L114 889.3 L113 889.4 L112 889.4 L111 889.4 L110 889.4 L109 889.4 L108 889.4 L107 889.5 L106 889.5 L105 889.5 L104 889.5 L103 889.5 L102 889.6 L101 889.6 L100 889.6 L99 889.6 L98 889.6 L97 889.6 L96 889.7 L95 889.7 L94 889.7 L93 889.7 L92 889.7 L91 889.8 L90 889.8 L89 889.8 L88 889.8 L87 889.8 L86 889.8 L85 889.9 L84 889.9 L83 889.9 L82 889.9 L81 889.9 L80 890 L79 890 L78 890 L77 890 L76 890 L75 890 L74 890.1 L73 890.1 L72 890.1 L71 890.1 Z" fill="#ef4242" stroke="none" stroke-width="0"/>
<path d="M119 889.2 L120 889.1 L121 889 L122 888.9 L123 888.8 L124 888.6 L125 888.3 L126 888 L127 887.6 L128 887 L129 886.3 L130 885.4 L131 884.4 L132 883.1 L133 881.5 L134 879.7 L135 877.6 L136 875.3 L137 872.7 L138 869.8 L139 866.7 L140 863.6 L141 860.3 L142 857.1 L143 853.9 L144 851 L145 848.4 L146 846.2 L147 844.5 L148 843.3 L149 842.7 L150 842.8 L151 843.5 L152 844.7 L153 846.5 L154 848.7 L155 851.4 L156 854.3 L157 857.4 L158 860.6 L159 863.8 L160 867 L161 870 L162 872.7 L163 875.3 L164 877.5 L165 879.5 L166 881.3 L167 882.7 L168 883.9 L169 884.9 L170 885.7 L171 886.3 L172 886.8 L173 887.2 L174 887.5 L175 887.7 L176 887.8 L177 887.9 L178 888 L179 888 L180 888.1 L180 888.1 L179 888.2 L178 888.2 L177 888.2 L176 888.2 L175 888.2 L174 888.2 L173 888.3 L172 888.3 L171 888.3 L170 888.3 L169 888.3 L168 888.4 L167 888.4 L166 888.4 L165 888.4 L164 888.4 L163 888.4 L162 888.5 L161 888.5 L160 888.5 L159 888.5 L158 888.5 L157 888.6 L156 888.6 L155 888.6 L154 888.6 L153 888.6 L152 888.6 L151 888.7 L150 888.7 L149 888.7 L148 888.7 L147 888.7 L146 888.8 L145 888.8 L144 888.8 L143 888.8 L142 888.8 L141 888.8 L140 888.9 L139 888.9 L138 888.9 L137 888.9 L136 888.9 L135 889 L134 889 L133 889 L132 889 L131 889 L130 889 L129 889.1 L128 889.1 L127 889.1 L126 889.1 L125 889.1 L124 889.2 L123 889.2 L122 889.2 L121 889.2 L120 889.2 L119 889.2 Z" fill="#1f6fdc" stroke="none" stroke-width="0"/>
<path d="M50 890.4 L51 890.7 L52 890.2 L53 890.8 L54 890.4 L55 890.5 L56 890.4 L57 890.6 L58 890.6 L59 890.4 L60 890.3 L61 890.5 L62 890.6 L63 890.2 L64 890.4 L65 890.6 L66 890.2 L67 889.9 L68 889.9 L69 890.3 L70 890.2 L71 890.3 L72 890.2 L73 889.6 L74 889.4 L75 889.2 L76 888.9 L77 888.9 L78 888.5 L79 887.9 L80 886.6 L81 886.1 L82 884.4 L83 882.9 L84 881.3 L85 878.5 L86 876 L87 873.6 L88 869.9 L89 866.3 L90 862.5 L91 858.4 L92 853.5 L93 849.4 L94 845.1 L95 841.1 L96 837.1 L97 834.1 L98 831.7 L99 829.2 L100 828 L101 827.3 L102 827.8 L103 829.3 L104 830.9 L105 834.2 L106 837.4 L107 840.5 L108 845.3 L109 849.1 L110 853.8 L111 858.1 L112 861.8 L113 866.1 L114 869.7 L115 873.1 L116 875.5 L117 878.5 L118 880.8 L119 882.4 L120 883.7 L121 884.6 L122 885.8 L123 886.3 L124 887 L125 887.2 L126 887.1 L127 886.6 L128 886.7 L129 886.1 L130 885 L131 884.5 L132 883.1 L133 881.1 L134 880 L135 877.3 L136 875.1 L137 872.8 L138 869.8 L139 866.7 L140 863.6 L141 860.1 L142 856.7 L143 853.5 L144 850.5 L145 848.3 L146 846.1 L147 844.2 L148 843.1 L149 842.2 L150 842.1 L151 842.7 L152 844.3 L153 845.3 L154 847.9 L155 850.2 L156 853.4 L157 856.1 L158 859.1 L159 862.3 L160 865.4 L161 868.4 L162 870.7 L163 873.4 L164 875 L165 876.9 L166 878.3 L167 879.6 L168 881.2 L169 882 L170 882.3 L171 882.7 L172 883.3 L173 883.8 L174 884 L175 884.1 L176 884 L177 883.7 L178 883.9 L179 883.8 L180 884.1 L181 884.1 L182 883.8 L183 883.9 L184 884.4 L185 883.8 L186 884.5 L187 884.6 L188 884.8 L189 884.4 L190 884.6 L191 884.8 L192 884.9 L193 885.3 L194 885.1 L195 884.9 L196 885.4 L197 885.2 L198 885.3 L199 885.5 L200 884.9 L201 885.5 L202 885.4 L203 885.3 L204 885.2 L205 885.1 L206 884.8 L207 884.9 L208 884.4 L209 884.6 L210 884.5 L211 884.2 L212 884.1 L213 884.2 L214 883.9 L215 883 L216 883.3 L217 883 L218 882.3 L219 882.3 L220 882 L221 881.7 L222 881.9 L223 882 L224 881.4 L225 881.7 L226 881.5 L227 881 L228 881.5 L229 881.3 L230 881.6 L231 881.5 L232 881.6 L233 881.4 L234 881.9 L235 882.2 L236 882.3 L237 882.2 L238 882.6 L239 882.6 L240 882.6 L241 882.8 L242 883 L243 883.4 L244 883.6 L245 884.1 L246 884.5 L247 884.6 L248 884.7 L249 885.1 L250 885 L251 885.3 L252 885.7 L253 885.5 L254 885.5 L255 886.2 L256 886.1 L257 885.9 L258 886 L259 886.2 L260 886.3 L261 886.1 L262 885.9 L263 886.1 L264 886.6 L265 886.1 L266 886.4 L267 886.2 L268 886.2 L269 886.2 L270 886.4 L271 886.2 L272 886 L273 886.1 L274 886.1 L275 886.4 L276 886 L277 886 L278 886.3 L279 886.3 L280 886.5 L281 885.9" fill="none" stroke="#000" stroke-width="2.4" stroke-linejoin="round"/>
<path d="M332 885.7 L333 885.7 L334 885.6 L335 885.6 L336 885.5 L337 885.4 L338 885.2 L339 885 L340 884.7 L341 884.3 L342 883.8 L343 883.3 L344 882.5 L345 881.6 L346 880.5 L347 879.3 L348 877.8 L349 876.1 L350 874.3 L351 872.2 L352 870.1 L353 867.8 L354 865.6 L355 863.3 L356 861.2 L357 859.2 L358 857.5 L359 856.2 L360 855.2 L361 854.6 L362 854.4 L363 854.7 L364 855.5 L365 856.6 L366 858.1 L367 859.9 L368 861.9 L369 864 L370 866.3 L371 868.5 L372 870.7 L373 872.8 L374 874.7 L375 876.5 L376 878.1 L377 879.4 L378 880.6 L379 881.6 L380 882.4 L381 883 L382 883.6 L383 884 L384 884.3 L385 884.5 L386 884.7 L387 884.8 L388 884.9 L389 884.9 L390 885 L391 885 L391 885.1 L390 885.1 L389 885.1 L388 885.1 L387 885.1 L386 885.1 L385 885.1 L384 885.1 L383 885.1 L382 885.2 L381 885.2 L380 885.2 L379 885.2 L378 885.2 L377 885.2 L376 885.2 L375 885.2 L374 885.3 L373 885.3 L372 885.3 L371 885.3 L370 885.3 L369 885.3 L368 885.3 L367 885.3 L366 885.4 L365 885.4 L364 885.4 L363 885.4 L362 885.4 L361 885.4 L360 885.4 L359 885.4 L358 885.5 L357 885.5 L356 885.5 L355 885.5 L354 885.5 L353 885.5 L352 885.5 L351 885.5 L350 885.6 L349 885.6 L348 885.6 L347 885.6 L346 885.6 L345 885.6 L344 885.6 L343 885.6 L342 885.7 L341 885.7 L340 885.7 L339 885.7 L338 885.7 L337 885.7 L336 885.7 L335 885.7 L334 885.7 L333 885.8 L332 885.8 Z" fill="#3cb371" stroke="none" stroke-width="0"/>
<path d="M350 885.5 L351 885.5 L352 885.4 L353 885.4 L354 885.3 L355 885.2 L356 885.1 L357 884.9 L358 884.7 L359 884.5 L360 884.1 L361 883.7 L362 883.2 L363 882.6 L364 881.8 L365 880.9 L366 879.9 L367 878.8 L368 877.5 L369 876.1 L370 874.5 L371 873 L372 871.3 L373 869.7 L374 868.1 L375 866.6 L376 865.3 L377 864.2 L378 863.2 L379 862.6 L380 862.2 L381 862.2 L382 862.5 L383 863 L384 863.9 L385 864.9 L386 866.2 L387 867.7 L388 869.2 L389 870.8 L390 872.4 L391 874 L392 875.5 L393 876.9 L394 878.2 L395 879.3 L396 880.4 L397 881.2 L398 882 L399 882.6 L400 883.1 L401 883.5 L402 883.9 L403 884.1 L404 884.3 L405 884.5 L406 884.6 L407 884.6 L408 884.7 L409 884.7 L410 884.8 L411 884.8 L411 884.8 L410 884.8 L409 884.8 L408 884.8 L407 884.9 L406 884.9 L405 884.9 L404 884.9 L403 884.9 L402 884.9 L401 884.9 L400 884.9 L399 885 L398 885 L397 885 L396 885 L395 885 L394 885 L393 885 L392 885 L391 885.1 L390 885.1 L389 885.1 L388 885.1 L387 885.1 L386 885.1 L385 885.1 L384 885.1 L383 885.1 L382 885.2 L381 885.2 L380 885.2 L379 885.2 L378 885.2 L377 885.2 L376 885.2 L375 885.2 L374 885.3 L373 885.3 L372 885.3 L371 885.3 L370 885.3 L369 885.3 L368 885.3 L367 885.3 L366 885.4 L365 885.4 L364 885.4 L363 885.4 L362 885.4 L361 885.4 L360 885.4 L359 885.4 L358 885.5 L357 885.5 L356 885.5 L355 885.5 L354 885.5 L353 885.5 L352 885.5 L351 885.5 L350 885.6 Z" fill="#fb6a06" stroke="none" stroke-width="0"/>
<path d="M289 886.2 L290 886.2 L291 885.9 L292 886.6 L293 886 L294 885.9 L295 886.2 L296 885.9 L297 886.3 L298 886.1 L299 885.9 L300 885.8 L301 886.3 L302 886 L303 886.4 L304 886.1 L305 886.5 L306 885.9 L307 885.9 L308 885.9 L309 886.3 L310 886.1 L311 885.9 L312 885.7 L313 886.2 L314 886.4 L315 886.1 L316 885.6 L317 885.6 L318 885.6 L319 885.7 L320 885.5 L321 885.6 L322 886 L323 886.2 L324 885.6 L325 886.2 L326 885.8 L327 886.1 L328 886.1 L329 886.1 L330 885.4 L331 885.6 L332 885.8 L333 886 L334 885.3 L335 885.4 L336 885.8 L337 885 L338 885.1 L339 884.8 L340 884.8 L341 884.7 L342 883.6 L343 883.4 L344 882.7 L345 881.9 L346 880.6 L347 879.6 L348 877.7 L349 876 L350 874 L351 872.4 L352 870 L353 867.5 L354 865.1 L355 863.2 L356 860.9 L357 858.9 L358 856.7 L359 855.2 L360 853.6 L361 853 L362 851.8 L363 851.9 L364 852.1 L365 852.3 L366 852.3 L367 853.1 L368 854.3 L369 854.9 L370 855.8 L371 856.5 L372 856.7 L373 857.6 L374 857.8 L375 857.8 L376 858 L377 858 L378 858.5 L379 859.3 L380 859.1 L381 860.1 L382 860.5 L383 861.5 L384 863.1 L385 864.1 L386 865.4 L387 867.1 L388 869.1 L389 870.7 L390 871.9 L391 873.7 L392 875.8 L393 876.6 L394 878.2 L395 879.3 L396 880.6 L397 881.3 L398 882.2 L399 882.6 L400 882.9 L401 883.3 L402 883.5 L403 884.4 L404 884 L405 884.1 L406 884.9 L407 884.4 L408 885 L409 884.4 L410 884.7 L411 884.5 L412 885 L413 884.9 L414 884.9 L415 885 L416 885 L417 884.6 L418 884.8 L419 884.7 L420 884.4 L421 885 L422 884.7 L423 884.9 L424 884.4 L425 884.7 L426 884.6 L427 884.8 L428 884.3 L429 884.5 L430 884.6 L431 884.2 L432 884.6 L433 884.7 L434 884.5 L435 884.6 L436 884.6" fill="none" stroke="#000" stroke-width="2.4" stroke-linejoin="round"/>
<path d="M119 960.1 L120 960.1 L121 960.1 L122 960 L123 960 L124 960 L125 959.9 L126 959.9 L127 959.8 L128 959.8 L129 959.7 L130 959.7 L131 959.6 L132 959.6 L133 959.5 L134 959.4 L135 959.3 L136 959.3 L137 959.2 L138 959 L139 958.9 L140 958.8 L141 958.6 L142 958.5 L143 958.3 L144 958.1 L145 957.9 L146 957.7 L147 957.5 L148 957.2 L149 956.9 L150 956.6 L151 956.3 L152 956 L153 955.7 L154 955.3 L155 955 L156 954.6 L157 954.2 L158 953.8 L159 953.4 L160 953 L161 952.6 L162 952.2 L163 951.8 L164 951.4 L165 951 L166 950.7 L167 950.3 L168 950 L169 949.7 L170 949.5 L171 949.2 L172 949 L173 948.9 L174 948.7 L175 948.7 L176 948.6 L177 948.6 L178 948.6 L179 948.7 L180 948.8 L181 949 L182 949.1 L183 949.3 L184 949.6 L185 949.8 L186 950.1 L187 950.4 L188 950.7 L189 951.1 L190 951.4 L191 951.8 L192 952.1 L193 952.5 L194 952.8 L195 953.2 L196 953.5 L197 953.8 L198 954.1 L199 954.4 L200 954.7 L201 955 L202 955.2 L203 955.5 L204 955.7 L205 955.9 L206 956.1 L207 956.3 L208 956.4 L209 956.5 L210 956.7 L211 956.8 L212 956.9 L213 956.9 L214 957 L215 957.1 L216 957.1 L217 957.1 L218 957.2 L219 957.2 L220 957.2 L221 957.2 L222 957.2 L223 957.2 L224 957.2 L225 957.2 L226 957.2 L227 957.2 L228 957.2 L229 957.2 L230 957.1 L231 957.1 L232 957.1 L233 957.1 L233 957.1 L232 957.1 L231 957.1 L230 957.2 L229 957.2 L228 957.2 L227 957.2 L226 957.3 L225 957.3 L224 957.3 L223 957.4 L222 957.4 L221 957.4 L220 957.4 L219 957.5 L218 957.5 L217 957.5 L216 957.5 L215 957.6 L214 957.6 L213 957.6 L212 957.7 L211 957.7 L210 957.7 L209 957.7 L208 957.8 L207 957.8 L206 957.8 L205 957.8 L204 957.9 L203 957.9 L202 957.9 L201 957.9 L200 958 L199 958 L198 958 L197 958.1 L196 958.1 L195 958.1 L194 958.1 L193 958.2 L192 958.2 L191 958.2 L190 958.2 L189 958.3 L188 958.3 L187 958.3 L186 958.3 L185 958.4 L184 958.4 L183 958.4 L182 958.5 L181 958.5 L180 958.5 L179 958.5 L178 958.6 L177 958.6 L176 958.6 L175 958.6 L174 958.7 L173 958.7 L172 958.7 L171 958.8 L170 958.8 L169 958.8 L168 958.8 L167 958.9 L166 958.9 L165 958.9 L164 958.9 L163 959 L162 959 L161 959 L160 959 L159 959.1 L158 959.1 L157 959.1 L156 959.2 L155 959.2 L154 959.2 L153 959.2 L152 959.3 L151 959.3 L150 959.3 L149 959.3 L148 959.4 L147 959.4 L146 959.4 L145 959.5 L144 959.5 L143 959.5 L142 959.5 L141 959.6 L140 959.6 L139 959.6 L138 959.6 L137 959.7 L136 959.7 L135 959.7 L134 959.7 L133 959.8 L132 959.8 L131 959.8 L130 959.9 L129 959.9 L128 959.9 L127 959.9 L126 960 L125 960 L124 960 L123 960 L122 960.1 L121 960.1 L120 960.1 L119 960.1 Z" fill="#d4a017" stroke="none" stroke-width="0"/>
<path d="M153 959.2 L154 959.2 L155 959.2 L156 959.1 L157 959.1 L158 959 L159 959 L160 959 L161 958.9 L162 958.9 L163 958.8 L164 958.8 L165 958.7 L166 958.7 L167 958.6 L168 958.5 L169 958.4 L170 958.4 L171 958.3 L172 958.2 L173 958 L174 957.9 L175 957.8 L176 957.6 L177 957.5 L178 957.3 L179 957.1 L180 956.9 L181 956.7 L182 956.4 L183 956.2 L184 955.9 L185 955.6 L186 955.3 L187 954.9 L188 954.6 L189 954.2 L190 953.8 L191 953.4 L192 953 L193 952.6 L194 952.1 L195 951.7 L196 951.2 L197 950.8 L198 950.3 L199 949.9 L200 949.4 L201 949 L202 948.6 L203 948.2 L204 947.8 L205 947.4 L206 947.1 L207 946.8 L208 946.5 L209 946.2 L210 946 L211 945.9 L212 945.7 L213 945.6 L214 945.6 L215 945.6 L216 945.6 L217 945.7 L218 945.8 L219 946 L220 946.2 L221 946.4 L222 946.6 L223 946.9 L224 947.2 L225 947.6 L226 947.9 L227 948.3 L228 948.7 L229 949.1 L230 949.5 L231 949.9 L232 950.3 L233 950.7 L234 951.1 L235 951.4 L236 951.8 L237 952.2 L238 952.5 L239 952.9 L240 953.2 L241 953.5 L242 953.8 L243 954 L244 954.3 L245 954.5 L246 954.7 L247 954.9 L248 955.1 L249 955.2 L250 955.4 L251 955.5 L252 955.6 L253 955.7 L254 955.8 L255 955.8 L256 955.9 L257 956 L258 956 L259 956 L260 956.1 L261 956.1 L262 956.1 L263 956.1 L264 956.1 L265 956.1 L266 956.1 L267 956.1 L268 956.1 L269 956.1 L270 956 L271 956 L272 956 L273 956 L274 956 L275 955.9 L275 956 L274 956 L273 956 L272 956 L271 956.1 L270 956.1 L269 956.1 L268 956.1 L267 956.2 L266 956.2 L265 956.2 L264 956.3 L263 956.3 L262 956.3 L261 956.3 L260 956.4 L259 956.4 L258 956.4 L257 956.4 L256 956.5 L255 956.5 L254 956.5 L253 956.6 L252 956.6 L251 956.6 L250 956.6 L249 956.7 L248 956.7 L247 956.7 L246 956.7 L245 956.8 L244 956.8 L243 956.8 L242 956.8 L241 956.9 L240 956.9 L239 956.9 L238 957 L237 957 L236 957 L235 957 L234 957.1 L233 957.1 L232 957.1 L231 957.1 L230 957.2 L229 957.2 L228 957.2 L227 957.2 L226 957.3 L225 957.3 L224 957.3 L223 957.4 L222 957.4 L221 957.4 L220 957.4 L219 957.5 L218 957.5 L217 957.5 L216 957.5 L215 957.6 L214 957.6 L213 957.6 L212 957.7 L211 957.7 L210 957.7 L209 957.7 L208 957.8 L207 957.8 L206 957.8 L205 957.8 L204 957.9 L203 957.9 L202 957.9 L201 957.9 L200 958 L199 958 L198 958 L197 958.1 L196 958.1 L195 958.1 L194 958.1 L193 958.2 L192 958.2 L191 958.2 L190 958.2 L189 958.3 L188 958.3 L187 958.3 L186 958.3 L185 958.4 L184 958.4 L183 958.4 L182 958.5 L181 958.5 L180 958.5 L179 958.5 L178 958.6 L177 958.6 L176 958.6 L175 958.6 L174 958.7 L173 958.7 L172 958.7 L171 958.8 L170 958.8 L169 958.8 L168 958.8 L167 958.9 L166 958.9 L165 958.9 L164 958.9 L163 959 L162 959 L161 959 L160 959 L159 959.1 L158 959.1 L157 959.1 L156 959.2 L155 959.2 L154 959.2 L153 959.2 Z" fill="#a066dd" stroke="none" stroke-width="0"/>
<path d="M55 961.8 L56 961.7 L57 961.6 L58 961.5 L59 961.4 L60 961.3 L61 961.2 L62 961 L63 960.8 L64 960.6 L65 960.3 L66 959.9 L67 959.5 L68 959 L69 958.4 L70 957.8 L71 957 L72 956.1 L73 955 L74 953.9 L75 952.5 L76 951.1 L77 949.4 L78 947.6 L79 945.6 L80 943.5 L81 941.2 L82 938.7 L83 936.2 L84 933.5 L85 930.7 L86 927.8 L87 924.9 L88 922.1 L89 919.2 L90 916.5 L91 913.8 L92 911.4 L93 909.1 L94 907.1 L95 905.3 L96 903.9 L97 902.8 L98 902.1 L99 901.7 L100 901.7 L101 902.1 L102 902.9 L103 904 L104 905.4 L105 907.2 L106 909.2 L107 911.4 L108 913.9 L109 916.5 L110 919.2 L111 922 L112 924.8 L113 927.7 L114 930.5 L115 933.2 L116 935.8 L117 938.3 L118 940.7 L119 942.9 L120 944.9 L121 946.8 L122 948.6 L123 950.1 L124 951.5 L125 952.7 L126 953.8 L127 954.8 L128 955.6 L129 956.3 L130 956.9 L131 957.4 L132 957.8 L133 958.2 L134 958.5 L135 958.7 L136 958.9 L137 959 L138 959.1 L139 959.2 L140 959.3 L141 959.3 L142 959.4 L143 959.4 L144 959.4 L144 959.5 L143 959.5 L142 959.5 L141 959.6 L140 959.6 L139 959.6 L138 959.6 L137 959.7 L136 959.7 L135 959.7 L134 959.7 L133 959.8 L132 959.8 L131 959.8 L130 959.9 L129 959.9 L128 959.9 L127 959.9 L126 960 L125 960 L124 960 L123 960 L122 960.1 L121 960.1 L120 960.1 L119 960.1 L118 960.2 L117 960.2 L116 960.2 L115 960.3 L114 960.3 L113 960.3 L112 960.3 L111 960.4 L110 960.4 L109 960.4 L108 960.4 L107 960.5 L106 960.5 L105 960.5 L104 960.6 L103 960.6 L102 960.6 L101 960.6 L100 960.7 L99 960.7 L98 960.7 L97 960.7 L96 960.8 L95 960.8 L94 960.8 L93 960.8 L92 960.9 L91 960.9 L90 960.9 L89 961 L88 961 L87 961 L86 961 L85 961.1 L84 961.1 L83 961.1 L82 961.1 L81 961.2 L80 961.2 L79 961.2 L78 961.2 L77 961.3 L76 961.3 L75 961.3 L74 961.4 L73 961.4 L72 961.4 L71 961.4 L70 961.5 L69 961.5 L68 961.5 L67 961.5 L66 961.6 L65 961.6 L64 961.6 L63 961.7 L62 961.7 L61 961.7 L60 961.7 L59 961.8 L58 961.8 L57 961.8 L56 961.8 L55 961.9 Z" fill="#ef4242" stroke="none" stroke-width="0"/>
<path d="M102 960.5 L103 960.5 L104 960.4 L105 960.3 L106 960.2 L107 960.1 L108 960 L109 959.9 L110 959.7 L111 959.5 L112 959.3 L113 959 L114 958.7 L115 958.3 L116 957.8 L117 957.3 L118 956.6 L119 955.9 L120 955.1 L121 954.2 L122 953.2 L123 952 L124 950.7 L125 949.3 L126 947.8 L127 946.1 L128 944.3 L129 942.4 L130 940.4 L131 938.3 L132 936.2 L133 934 L134 931.8 L135 929.6 L136 927.4 L137 925.3 L138 923.3 L139 921.5 L140 919.8 L141 918.3 L142 917 L143 916 L144 915.2 L145 914.7 L146 914.4 L147 914.5 L148 914.8 L149 915.5 L150 916.3 L151 917.5 L152 918.9 L153 920.4 L154 922.2 L155 924.1 L156 926.1 L157 928.1 L158 930.3 L159 932.4 L160 934.6 L161 936.7 L162 938.8 L163 940.7 L164 942.6 L165 944.4 L166 946.1 L167 947.6 L168 949 L169 950.3 L170 951.4 L171 952.5 L172 953.4 L173 954.2 L174 954.9 L175 955.5 L176 956 L177 956.4 L178 956.8 L179 957.1 L180 957.3 L181 957.6 L182 957.7 L183 957.8 L184 957.9 L185 958 L186 958.1 L187 958.1 L188 958.1 L189 958.1 L190 958.1 L191 958.1 L191 958.2 L190 958.2 L189 958.3 L188 958.3 L187 958.3 L186 958.3 L185 958.4 L184 958.4 L183 958.4 L182 958.5 L181 958.5 L180 958.5 L179 958.5 L178 958.6 L177 958.6 L176 958.6 L175 958.6 L174 958.7 L173 958.7 L172 958.7 L171 958.8 L170 958.8 L169 958.8 L168 958.8 L167 958.9 L166 958.9 L165 958.9 L164 958.9 L163 959 L162 959 L161 959 L160 959 L159 959.1 L158 959.1 L157 959.1 L156 959.2 L155 959.2 L154 959.2 L153 959.2 L152 959.3 L151 959.3 L150 959.3 L149 959.3 L148 959.4 L147 959.4 L146 959.4 L145 959.5 L144 959.5 L143 959.5 L142 959.5 L141 959.6 L140 959.6 L139 959.6 L138 959.6 L137 959.7 L136 959.7 L135 959.7 L134 959.7 L133 959.8 L132 959.8 L131 959.8 L130 959.9 L129 959.9 L128 959.9 L127 959.9 L126 960 L125 960 L124 960 L123 960 L122 960.1 L121 960.1 L120 960.1 L119 960.1 L118 960.2 L117 960.2 L116 960.2 L115 960.3 L114 960.3 L113 960.3 L112 960.3 L111 960.4 L110 960.4 L109 960.4 L108 960.4 L107 960.5 L106 960.5 L105 960.5 L104 960.6 L103 960.6 L102 960.6 Z" fill="#1f6fdc" stroke="none" stroke-width="0"/>
<path d="M50 961.5 L51 961.7 L52 962.8 L53 961.6 L54 961.7 L55 961 L56 961.2 L57 961 L58 962.3 L59 961.8 L60 962 L61 962.1 L62 961.2 L63 961.6 L64 960.6 L65 960.1 L66 960.7 L67 960.2 L68 959.8 L69 958.4 L70 958.2 L71 956.8 L72 957 L73 955.8 L74 953.5 L75 953.3 L76 950.5 L77 948.7 L78 948 L79 945.3 L80 943.5 L81 941.5 L82 937.9 L83 936.6 L84 933.1 L85 930.6 L86 927.5 L87 925.4 L88 922.5 L89 918.8 L90 915.7 L91 913.5 L92 911.2 L93 908.3 L94 906.4 L95 905.8 L96 904.3 L97 903.7 L98 902.9 L99 902.4 L100 901.4 L101 901.4 L102 902.4 L103 903.8 L104 905.3 L105 907 L106 908.7 L107 911.7 L108 913.1 L109 915.9 L110 919.2 L111 921.7 L112 923.4 L113 925.9 L114 929.4 L115 930.3 L116 932.7 L117 935.4 L118 937.2 L119 938.1 L120 939.1 L121 940.4 L122 942.1 L123 942 L124 943 L125 942.5 L126 942.4 L127 940 L128 939.3 L129 937.8 L130 937.2 L131 935.4 L132 933.2 L133 932.2 L134 929.5 L135 927.9 L136 925.7 L137 924.7 L138 922.1 L139 920 L140 917.9 L141 917 L142 916 L143 914.9 L144 914.5 L145 913.6 L146 912.2 L147 911.9 L148 913.1 L149 913.5 L150 913.7 L151 915.1 L152 915.7 L153 916.4 L154 917.7 L155 918.9 L156 921.7 L157 923.9 L158 925.6 L159 926.6 L160 928.7 L161 930.9 L162 932.4 L163 933.6 L164 934.8 L165 936.3 L166 937 L167 938.2 L168 940.2 L169 941.7 L170 941.8 L171 942.3 L172 942.9 L173 943.6 L174 944.7 L175 944.5 L176 945.8 L177 944.7 L178 945.3 L179 945.9 L180 945.9 L181 946.8 L182 946.9 L183 947.3 L184 946.8 L185 945.8 L186 946.9 L187 946.9 L188 946.8 L189 946.5 L190 947.3 L191 947.6 L192 946.2 L193 947.1 L194 946.6 L195 946.7 L196 947.3 L197 947.4 L198 946.7 L199 945.8 L200 946.9 L201 945.5 L202 945.7 L203 946.3 L204 945.3 L205 945.1 L206 946.2 L207 946 L208 944.8 L209 944.9 L210 944.6 L211 944.3 L212 944.5 L213 945.8 L214 944.2 L215 944.6 L216 944.6 L217 944.6 L218 945.5 L219 946.1 L220 946.5 L221 946.4 L222 947.1 L223 945.9 L224 946.7 L225 948.3 L226 947.1 L227 947.8 L228 948.6 L229 948.6 L230 949.5 L231 949 L232 949.8 L233 951.5 L234 950.4 L235 952.2 L236 951.2 L237 953.1 L238 952.8 L239 953.1 L240 952.5 L241 952.7 L242 954.2 L243 953.4 L244 953.7 L245 955.1 L246 955.4 L247 954.1 L248 955.9 L249 955.3 L250 955.1 L251 954.8 L252 955.4 L253 956.6 L254 955.4 L255 955.2 L256 955.3 L257 955.3 L258 955.7 L259 956.8 L260 955.3 L261 955.5 L262 956.9 L263 957 L264 957 L265 955.6 L266 955.8 L267 956.9 L268 956 L269 956.4 L270 955.7 L271 955.2 L272 955.7 L273 956.4 L274 956.5 L275 956.1 L276 955.9 L277 956 L278 955.8 L279 955.9 L280 956.4 L281 955.3" fill="none" stroke="#000" stroke-width="2.4" stroke-linejoin="round"/>
<path d="M330 956.4 L331 956.3 L332 956.3 L333 956.2 L334 956.2 L335 956.1 L336 955.9 L337 955.8 L338 955.6 L339 955.3 L340 954.9 L341 954.5 L342 954 L343 953.4 L344 952.7 L345 951.8 L346 950.7 L347 949.6 L348 948.2 L349 946.7 L350 945 L351 943.2 L352 941.3 L353 939.2 L354 937.2 L355 935 L356 932.9 L357 930.9 L358 929 L359 927.3 L360 925.8 L361 924.6 L362 923.7 L363 923.2 L364 923 L365 923.1 L366 923.7 L367 924.5 L368 925.7 L369 927.2 L370 928.9 L371 930.7 L372 932.7 L373 934.8 L374 936.9 L375 938.9 L376 941 L377 942.9 L378 944.6 L379 946.3 L380 947.8 L381 949.1 L382 950.3 L383 951.3 L384 952.1 L385 952.8 L386 953.4 L387 953.9 L388 954.3 L389 954.6 L390 954.8 L391 955 L392 955.2 L393 955.3 L394 955.3 L395 955.4 L396 955.4 L397 955.5 L398 955.5 L398 955.5 L397 955.5 L396 955.5 L395 955.6 L394 955.6 L393 955.6 L392 955.6 L391 955.6 L390 955.6 L389 955.6 L388 955.7 L387 955.7 L386 955.7 L385 955.7 L384 955.7 L383 955.7 L382 955.7 L381 955.7 L380 955.8 L379 955.8 L378 955.8 L377 955.8 L376 955.8 L375 955.8 L374 955.8 L373 955.9 L372 955.9 L371 955.9 L370 955.9 L369 955.9 L368 955.9 L367 955.9 L366 956 L365 956 L364 956 L363 956 L362 956 L361 956 L360 956 L359 956 L358 956.1 L357 956.1 L356 956.1 L355 956.1 L354 956.1 L353 956.1 L352 956.1 L351 956.2 L350 956.2 L349 956.2 L348 956.2 L347 956.2 L346 956.2 L345 956.2 L344 956.3 L343 956.3 L342 956.3 L341 956.3 L340 956.3 L339 956.3 L338 956.3 L337 956.3 L336 956.4 L335 956.4 L334 956.4 L333 956.4 L332 956.4 L331 956.4 L330 956.4 Z" fill="#3cb371" stroke="none" stroke-width="0"/>
<path d="M350 956.1 L351 956.1 L352 956.1 L353 956 L354 956 L355 955.9 L356 955.8 L357 955.7 L358 955.5 L359 955.4 L360 955.1 L361 954.8 L362 954.5 L363 954.1 L364 953.6 L365 953 L366 952.3 L367 951.5 L368 950.6 L369 949.6 L370 948.5 L371 947.3 L372 946 L373 944.6 L374 943.2 L375 941.8 L376 940.4 L377 939 L378 937.8 L379 936.6 L380 935.6 L381 934.8 L382 934.2 L383 933.8 L384 933.7 L385 933.8 L386 934.2 L387 934.7 L388 935.5 L389 936.5 L390 937.6 L391 938.8 L392 940.2 L393 941.5 L394 942.9 L395 944.3 L396 945.6 L397 946.9 L398 948.1 L399 949.2 L400 950.2 L401 951 L402 951.8 L403 952.5 L404 953 L405 953.5 L406 953.9 L407 954.2 L408 954.5 L409 954.7 L410 954.8 L411 955 L412 955 L413 955.1 L414 955.1 L415 955.2 L416 955.2 L417 955.2 L418 955.2 L418 955.2 L417 955.3 L416 955.3 L415 955.3 L414 955.3 L413 955.3 L412 955.3 L411 955.3 L410 955.4 L409 955.4 L408 955.4 L407 955.4 L406 955.4 L405 955.4 L404 955.4 L403 955.4 L402 955.5 L401 955.5 L400 955.5 L399 955.5 L398 955.5 L397 955.5 L396 955.5 L395 955.6 L394 955.6 L393 955.6 L392 955.6 L391 955.6 L390 955.6 L389 955.6 L388 955.7 L387 955.7 L386 955.7 L385 955.7 L384 955.7 L383 955.7 L382 955.7 L381 955.7 L380 955.8 L379 955.8 L378 955.8 L377 955.8 L376 955.8 L375 955.8 L374 955.8 L373 955.9 L372 955.9 L371 955.9 L370 955.9 L369 955.9 L368 955.9 L367 955.9 L366 956 L365 956 L364 956 L363 956 L362 956 L361 956 L360 956 L359 956 L358 956.1 L357 956.1 L356 956.1 L355 956.1 L354 956.1 L353 956.1 L352 956.1 L351 956.2 L350 956.2 Z" fill="#fb6a06" stroke="none" stroke-width="0"/>
<path d="M289 957.2 L290 957.8 L291 957.6 L292 956.4 L293 957.8 L294 957.5 L295 956.3 L296 956.5 L297 956.4 L298 956.1 L299 957.7 L300 956.7 L301 957.5 L302 956.1 L303 955.9 L304 957.5 L305 957.3 L306 957.7 L307 957.1 L308 956.8 L309 957.2 L310 956 L311 956.8 L312 956.6 L313 956 L314 956.8 L315 956.3 L316 956.6 L317 956.4 L318 956.3 L319 956.3 L320 956.8 L321 957.4 L322 957.3 L323 957.2 L324 957.1 L325 956.1 L326 957.3 L327 956.1 L328 955.8 L329 956.4 L330 956.8 L331 956.1 L332 956.6 L333 955.8 L334 957 L335 956 L336 955.9 L337 955.8 L338 956.2 L339 956.2 L340 955 L341 954.4 L342 954.2 L343 952.6 L344 952.5 L345 952.4 L346 951.2 L347 948.8 L348 948.8 L349 946.5 L350 945.9 L351 942.9 L352 940.7 L353 939.2 L354 937.7 L355 934.7 L356 933.3 L357 930.9 L358 928.3 L359 926.3 L360 924.9 L361 923.3 L362 922 L363 921.5 L364 921.3 L365 920.3 L366 919.4 L367 919.6 L368 920.2 L369 921.1 L370 920.8 L371 921.4 L372 922.5 L373 923.1 L374 923.4 L375 925 L376 926.3 L377 926.2 L378 927.1 L379 927.7 L380 928.2 L381 928.9 L382 928.6 L383 929.7 L384 929.4 L385 931.6 L386 931.7 L387 932.9 L388 934.9 L389 935.1 L390 936.3 L391 938.8 L392 939.9 L393 940.5 L394 941.9 L395 943.9 L396 944.6 L397 947.4 L398 947.5 L399 948.7 L400 949.9 L401 951 L402 951.7 L403 952.7 L404 953.3 L405 953.4 L406 953.2 L407 955.1 L408 954.8 L409 953.9 L410 954.7 L411 955.4 L412 955.9 L413 954.3 L414 954.3 L415 955.1 L416 955.1 L417 955.9 L418 955.8 L419 954.9 L420 955.1 L421 955.3 L422 955.9 L423 954.6 L424 955 L425 954.4 L426 955.4 L427 954.3 L428 955.9 L429 955.1 L430 955.2 L431 954.3 L432 954.6 L433 955 L434 955.7 L435 955.1 L436 954.6" fill="none" stroke="#000" stroke-width="2.4" stroke-linejoin="round"/>
<path d="M156 1020.6 L157 1020.6 L158 1020.6 L159 1020.6 L160 1020.5 L161 1020.5 L162 1020.5 L163 1020.5 L164 1020.5 L165 1020.4 L166 1020.4 L167 1020.4 L168 1020.4 L169 1020.3 L170 1020.3 L171 1020.3 L172 1020.2 L173 1020.2 L174 1020.2 L175 1020.1 L176 1020.1 L177 1020.1 L178 1020 L179 1020 L180 1019.9 L181 1019.9 L182 1019.8 L183 1019.8 L184 1019.7 L185 1019.7 L186 1019.6 L187 1019.5 L188 1019.4 L189 1019.4 L190 1019.3 L191 1019.2 L192 1019.1 L193 1019 L194 1018.9 L195 1018.8 L196 1018.7 L197 1018.6 L198 1018.5 L199 1018.3 L200 1018.2 L201 1018.1 L202 1018 L203 1017.9 L204 1017.7 L205 1017.6 L206 1017.5 L207 1017.4 L208 1017.3 L209 1017.2 L210 1017.1 L211 1017 L212 1016.9 L213 1016.8 L214 1016.8 L215 1016.7 L216 1016.6 L217 1016.6 L218 1016.5 L219 1016.5 L220 1016.5 L221 1016.5 L222 1016.5 L223 1016.5 L224 1016.5 L225 1016.5 L226 1016.5 L227 1016.6 L228 1016.6 L229 1016.7 L230 1016.7 L231 1016.8 L232 1016.9 L233 1016.9 L234 1017 L235 1017.1 L236 1017.2 L237 1017.3 L238 1017.3 L239 1017.4 L240 1017.5 L241 1017.6 L242 1017.7 L243 1017.7 L244 1017.8 L245 1017.9 L246 1018 L247 1018 L248 1018.1 L249 1018.1 L250 1018.2 L251 1018.3 L252 1018.3 L253 1018.3 L254 1018.4 L255 1018.4 L256 1018.4 L257 1018.5 L258 1018.5 L259 1018.5 L260 1018.5 L261 1018.5 L262 1018.5 L263 1018.5 L264 1018.6 L265 1018.6 L266 1018.6 L267 1018.5 L268 1018.5 L269 1018.5 L270 1018.5 L271 1018.5 L272 1018.5 L273 1018.5 L274 1018.5 L275 1018.5 L276 1018.5 L277 1018.5 L278 1018.4 L279 1018.4 L280 1018.4 L281 1018.4 L281 1018.4 L280 1018.4 L279 1018.4 L278 1018.5 L277 1018.5 L276 1018.5 L275 1018.5 L274 1018.5 L273 1018.5 L272 1018.6 L271 1018.6 L270 1018.6 L269 1018.6 L268 1018.6 L267 1018.6 L266 1018.7 L265 1018.7 L264 1018.7 L263 1018.7 L262 1018.7 L261 1018.8 L260 1018.8 L259 1018.8 L258 1018.8 L257 1018.8 L256 1018.8 L255 1018.9 L254 1018.9 L253 1018.9 L252 1018.9 L251 1018.9 L250 1019 L249 1019 L248 1019 L247 1019 L246 1019 L245 1019 L244 1019.1 L243 1019.1 L242 1019.1 L241 1019.1 L240 1019.1 L239 1019.1 L238 1019.2 L237 1019.2 L236 1019.2 L235 1019.2 L234 1019.2 L233 1019.3 L232 1019.3 L231 1019.3 L230 1019.3 L229 1019.3 L228 1019.3 L227 1019.4 L226 1019.4 L225 1019.4 L224 1019.4 L223 1019.4 L222 1019.4 L221 1019.5 L220 1019.5 L219 1019.5 L218 1019.5 L217 1019.5 L216 1019.6 L215 1019.6 L214 1019.6 L213 1019.6 L212 1019.6 L211 1019.6 L210 1019.7 L209 1019.7 L208 1019.7 L207 1019.7 L206 1019.7 L205 1019.7 L204 1019.8 L203 1019.8 L202 1019.8 L201 1019.8 L200 1019.8 L199 1019.9 L198 1019.9 L197 1019.9 L196 1019.9 L195 1019.9 L194 1019.9 L193 1020 L192 1020 L191 1020 L190 1020 L189 1020 L188 1020.1 L187 1020.1 L186 1020.1 L185 1020.1 L184 1020.1 L183 1020.1 L182 1020.2 L181 1020.2 L180 1020.2 L179 1020.2 L178 1020.2 L177 1020.2 L176 1020.3 L175 1020.3 L174 1020.3 L173 1020.3 L172 1020.3 L171 1020.4 L170 1020.4 L169 1020.4 L168 1020.4 L167 1020.4 L166 1020.4 L165 1020.5 L164 1020.5 L163 1020.5 L162 1020.5 L161 1020.5 L160 1020.5 L159 1020.6 L158 1020.6 L157 1020.6 L156 1020.6 Z" fill="#a066dd" stroke="none" stroke-width="0"/>
<path d="M60 1022.3 L61 1022.2 L62 1022.1 L63 1022.1 L64 1022 L65 1021.9 L66 1021.7 L67 1021.6 L68 1021.4 L69 1021.1 L70 1020.8 L71 1020.4 L72 1019.9 L73 1019.3 L74 1018.6 L75 1017.7 L76 1016.7 L77 1015.6 L78 1014.3 L79 1012.8 L80 1011.1 L81 1009.2 L82 1007.2 L83 1005 L84 1002.7 L85 1000.2 L86 997.7 L87 995.1 L88 992.5 L89 989.9 L90 987.4 L91 985.1 L92 982.9 L93 981 L94 979.4 L95 978.2 L96 977.3 L97 976.8 L98 976.7 L99 977 L100 977.7 L101 978.8 L102 980.2 L103 981.9 L104 984 L105 986.2 L106 988.6 L107 991.1 L108 993.7 L109 996.2 L110 998.8 L111 1001.2 L112 1003.6 L113 1005.8 L114 1007.9 L115 1009.8 L116 1011.5 L117 1013 L118 1014.3 L119 1015.5 L120 1016.5 L121 1017.4 L122 1018.1 L123 1018.7 L124 1019.2 L125 1019.6 L126 1020 L127 1020.2 L128 1020.4 L129 1020.6 L130 1020.7 L131 1020.8 L132 1020.8 L133 1020.9 L134 1020.9 L135 1020.9 L135 1021 L134 1021 L133 1021 L132 1021 L131 1021.1 L130 1021.1 L129 1021.1 L128 1021.1 L127 1021.1 L126 1021.2 L125 1021.2 L124 1021.2 L123 1021.2 L122 1021.2 L121 1021.2 L120 1021.3 L119 1021.3 L118 1021.3 L117 1021.3 L116 1021.3 L115 1021.3 L114 1021.4 L113 1021.4 L112 1021.4 L111 1021.4 L110 1021.4 L109 1021.5 L108 1021.5 L107 1021.5 L106 1021.5 L105 1021.5 L104 1021.5 L103 1021.6 L102 1021.6 L101 1021.6 L100 1021.6 L99 1021.6 L98 1021.6 L97 1021.7 L96 1021.7 L95 1021.7 L94 1021.7 L93 1021.7 L92 1021.8 L91 1021.8 L90 1021.8 L89 1021.8 L88 1021.8 L87 1021.8 L86 1021.9 L85 1021.9 L84 1021.9 L83 1021.9 L82 1021.9 L81 1021.9 L80 1022 L79 1022 L78 1022 L77 1022 L76 1022 L75 1022.1 L74 1022.1 L73 1022.1 L72 1022.1 L71 1022.1 L70 1022.1 L69 1022.2 L68 1022.2 L67 1022.2 L66 1022.2 L65 1022.2 L64 1022.3 L63 1022.3 L62 1022.3 L61 1022.3 L60 1022.3 Z" fill="#ef4242" stroke="none" stroke-width="0"/>
<path d="M111 1021.4 L112 1021.3 L113 1021.3 L114 1021.2 L115 1021.1 L116 1021 L117 1020.9 L118 1020.7 L119 1020.5 L120 1020.2 L121 1019.9 L122 1019.5 L123 1019 L124 1018.4 L125 1017.7 L126 1016.9 L127 1016 L128 1014.9 L129 1013.6 L130 1012.2 L131 1010.7 L132 1009 L133 1007.2 L134 1005.2 L135 1003.2 L136 1001.1 L137 999 L138 996.9 L139 994.9 L140 993 L141 991.2 L142 989.7 L143 988.4 L144 987.4 L145 986.7 L146 986.3 L147 986.3 L148 986.6 L149 987.3 L150 988.3 L151 989.5 L152 991 L153 992.7 L154 994.6 L155 996.6 L156 998.6 L157 1000.7 L158 1002.8 L159 1004.8 L160 1006.7 L161 1008.5 L162 1010.1 L163 1011.7 L164 1013 L165 1014.2 L166 1015.3 L167 1016.2 L168 1017 L169 1017.6 L170 1018.2 L171 1018.6 L172 1019 L173 1019.3 L174 1019.5 L175 1019.7 L176 1019.8 L177 1019.9 L178 1020 L179 1020 L180 1020.1 L181 1020.1 L182 1020.1 L182 1020.2 L181 1020.2 L180 1020.2 L179 1020.2 L178 1020.2 L177 1020.2 L176 1020.3 L175 1020.3 L174 1020.3 L173 1020.3 L172 1020.3 L171 1020.4 L170 1020.4 L169 1020.4 L168 1020.4 L167 1020.4 L166 1020.4 L165 1020.5 L164 1020.5 L163 1020.5 L162 1020.5 L161 1020.5 L160 1020.5 L159 1020.6 L158 1020.6 L157 1020.6 L156 1020.6 L155 1020.6 L154 1020.7 L153 1020.7 L152 1020.7 L151 1020.7 L150 1020.7 L149 1020.7 L148 1020.8 L147 1020.8 L146 1020.8 L145 1020.8 L144 1020.8 L143 1020.8 L142 1020.9 L141 1020.9 L140 1020.9 L139 1020.9 L138 1020.9 L137 1021 L136 1021 L135 1021 L134 1021 L133 1021 L132 1021 L131 1021.1 L130 1021.1 L129 1021.1 L128 1021.1 L127 1021.1 L126 1021.2 L125 1021.2 L124 1021.2 L123 1021.2 L122 1021.2 L121 1021.2 L120 1021.3 L119 1021.3 L118 1021.3 L117 1021.3 L116 1021.3 L115 1021.3 L114 1021.4 L113 1021.4 L112 1021.4 L111 1021.4 Z" fill="#1f6fdc" stroke="none" stroke-width="0"/>
<path d="M50 1023.5 L51 1022.8 L52 1022.5 L53 1021.8 L54 1022 L55 1023.2 L56 1021.6 L57 1022.4 L58 1022.6 L59 1022 L60 1022.8 L61 1023 L62 1022.9 L63 1022.6 L64 1021.4 L65 1021 L66 1021.6 L67 1021.2 L68 1020.7 L69 1021.8 L70 1020.2 L71 1021 L72 1020.7 L73 1018.5 L74 1019.4 L75 1017.5 L76 1016.1 L77 1014.9 L78 1013.3 L79 1012.8 L80 1010.9 L81 1009.9 L82 1007.9 L83 1004.1 L84 1002.5 L85 1000 L86 997 L87 994.6 L88 992 L89 990.3 L90 987.1 L91 984.3 L92 982.4 L93 980.9 L94 979.6 L95 977.7 L96 977.7 L97 976.2 L98 977 L99 977.2 L100 977 L101 979.3 L102 980 L103 982 L104 984.1 L105 986.4 L106 988.5 L107 990.2 L108 994.2 L109 996.9 L110 998.7 L111 1001.3 L112 1003 L113 1006.5 L114 1008.1 L115 1009 L116 1011.8 L117 1013.5 L118 1013.4 L119 1015.7 L120 1015.5 L121 1015.4 L122 1016.8 L123 1016.2 L124 1017 L125 1016.4 L126 1015 L127 1015.1 L128 1014.9 L129 1013.1 L130 1011.9 L131 1011.1 L132 1008.7 L133 1007 L134 1005.3 L135 1003.7 L136 1000.4 L137 998.1 L138 997.4 L139 995 L140 992.6 L141 992 L142 990.5 L143 988.5 L144 988.4 L145 987.4 L146 986.8 L147 985.9 L148 985.7 L149 987.7 L150 988.7 L151 989.2 L152 991 L153 992.9 L154 994.1 L155 997 L156 998.8 L157 1000.5 L158 1002 L159 1004.9 L160 1006.3 L161 1008.9 L162 1009.5 L163 1011.4 L164 1012.4 L165 1014 L166 1015.4 L167 1015.4 L168 1016 L169 1017.6 L170 1017.5 L171 1018.6 L172 1018.2 L173 1018.4 L174 1019.5 L175 1020.4 L176 1020.4 L177 1019.8 L178 1019.6 L179 1018.9 L180 1019.4 L181 1019.4 L182 1020.7 L183 1019 L184 1020.6 L185 1019.6 L186 1019.4 L187 1019 L188 1020.4 L189 1018.7 L190 1019.4 L191 1019.2 L192 1018.5 L193 1018.4 L194 1019.9 L195 1019.4 L196 1019.1 L197 1019.4 L198 1017.6 L199 1018.7 L200 1018.7 L201 1017.6 L202 1017.9 L203 1018.8 L204 1017.4 L205 1018.2 L206 1016.8 L207 1017.7 L208 1016.8 L209 1017.2 L210 1016.8 L211 1017.7 L212 1017.4 L213 1016.8 L214 1017.1 L215 1016.5 L216 1017.2 L217 1016.1 L218 1016.6 L219 1016.7 L220 1016.3 L221 1015.6 L222 1015.8 L223 1016.8 L224 1015.9 L225 1017 L226 1016.5 L227 1017.5 L228 1017.3 L229 1017.1 L230 1016.5 L231 1015.9 L232 1017 L233 1017.4 L234 1017.9 L235 1016.5 L236 1016.5 L237 1018.2 L238 1017.8 L239 1017.4 L240 1018 L241 1016.9 L242 1017.8 L243 1018.1 L244 1018 L245 1017.2 L246 1017.2 L247 1018.3 L248 1018.9 L249 1017.4 L250 1017.2 L251 1017.4 L252 1018.9 L253 1018.1 L254 1018.3 L255 1019.4 L256 1018.7 L257 1018 L258 1018.9 L259 1017.5 L260 1018.1 L261 1018.9 L262 1017.9 L263 1017.6 L264 1018.6 L265 1018.2 L266 1019.5 L267 1017.8 L268 1019.1 L269 1018.3 L270 1019.1 L271 1018.4 L272 1018.8 L273 1018.2 L274 1017.9 L275 1018.4 L276 1019.1 L277 1018.1 L278 1017.9 L279 1018.3 L280 1017.6 L281 1018" fill="none" stroke="#000" stroke-width="2.4" stroke-linejoin="round"/>
<path d="M333 1013.6 L334 1013.6 L335 1013.6 L336 1013.5 L337 1013.4 L338 1013.3 L339 1013.1 L340 1012.9 L341 1012.6 L342 1012.3 L343 1011.8 L344 1011.3 L345 1010.6 L346 1009.8 L347 1008.8 L348 1007.7 L349 1006.4 L350 1004.9 L351 1003.3 L352 1001.5 L353 999.7 L354 997.8 L355 995.8 L356 993.9 L357 992.1 L358 990.5 L359 989.1 L360 987.9 L361 987.1 L362 986.6 L363 986.5 L364 986.8 L365 987.4 L366 988.3 L367 989.6 L368 991.1 L369 992.8 L370 994.6 L371 996.5 L372 998.4 L373 1000.3 L374 1002.1 L375 1003.8 L376 1005.3 L377 1006.7 L378 1007.9 L379 1009 L380 1009.9 L381 1010.6 L382 1011.3 L383 1011.8 L384 1012.1 L385 1012.5 L386 1012.7 L387 1012.9 L388 1013 L389 1013.1 L390 1013.2 L391 1013.2 L392 1013.2 L393 1013.2 L393 1013.3 L392 1013.3 L391 1013.3 L390 1013.3 L389 1013.3 L388 1013.3 L387 1013.3 L386 1013.3 L385 1013.3 L384 1013.4 L383 1013.4 L382 1013.4 L381 1013.4 L380 1013.4 L379 1013.4 L378 1013.4 L377 1013.4 L376 1013.4 L375 1013.4 L374 1013.4 L373 1013.4 L372 1013.4 L371 1013.4 L370 1013.4 L369 1013.5 L368 1013.5 L367 1013.5 L366 1013.5 L365 1013.5 L364 1013.5 L363 1013.5 L362 1013.5 L361 1013.5 L360 1013.5 L359 1013.5 L358 1013.5 L357 1013.5 L356 1013.5 L355 1013.6 L354 1013.6 L353 1013.6 L352 1013.6 L351 1013.6 L350 1013.6 L349 1013.6 L348 1013.6 L347 1013.6 L346 1013.6 L345 1013.6 L344 1013.6 L343 1013.6 L342 1013.6 L341 1013.6 L340 1013.7 L339 1013.7 L338 1013.7 L337 1013.7 L336 1013.7 L335 1013.7 L334 1013.7 L333 1013.7 Z" fill="#3cb371" stroke="none" stroke-width="0"/>
<path d="M355 1013.5 L356 1013.5 L357 1013.5 L358 1013.4 L359 1013.4 L360 1013.3 L361 1013.2 L362 1013.1 L363 1012.9 L364 1012.7 L365 1012.4 L366 1012.1 L367 1011.7 L368 1011.2 L369 1010.6 L370 1009.9 L371 1009.1 L372 1008.1 L373 1007.1 L374 1006 L375 1004.8 L376 1003.5 L377 1002.2 L378 1000.9 L379 999.7 L380 998.6 L381 997.5 L382 996.7 L383 996 L384 995.6 L385 995.4 L386 995.4 L387 995.7 L388 996.2 L389 996.9 L390 997.9 L391 998.9 L392 1000.1 L393 1001.4 L394 1002.6 L395 1003.9 L396 1005.1 L397 1006.3 L398 1007.4 L399 1008.3 L400 1009.2 L401 1010 L402 1010.6 L403 1011.2 L404 1011.6 L405 1012 L406 1012.3 L407 1012.5 L408 1012.7 L409 1012.8 L410 1012.9 L411 1013 L412 1013 L413 1013.1 L414 1013.1 L415 1013.1 L415 1013.1 L414 1013.1 L413 1013.2 L412 1013.2 L411 1013.2 L410 1013.2 L409 1013.2 L408 1013.2 L407 1013.2 L406 1013.2 L405 1013.2 L404 1013.2 L403 1013.2 L402 1013.2 L401 1013.2 L400 1013.2 L399 1013.3 L398 1013.3 L397 1013.3 L396 1013.3 L395 1013.3 L394 1013.3 L393 1013.3 L392 1013.3 L391 1013.3 L390 1013.3 L389 1013.3 L388 1013.3 L387 1013.3 L386 1013.3 L385 1013.3 L384 1013.4 L383 1013.4 L382 1013.4 L381 1013.4 L380 1013.4 L379 1013.4 L378 1013.4 L377 1013.4 L376 1013.4 L375 1013.4 L374 1013.4 L373 1013.4 L372 1013.4 L371 1013.4 L370 1013.4 L369 1013.5 L368 1013.5 L367 1013.5 L366 1013.5 L365 1013.5 L364 1013.5 L363 1013.5 L362 1013.5 L361 1013.5 L360 1013.5 L359 1013.5 L358 1013.5 L357 1013.5 L356 1013.5 L355 1013.6 Z" fill="#fb6a06" stroke="none" stroke-width="0"/>
<path d="M289 1014.1 L290 1014.1 L291 1014.2 L292 1013.6 L293 1013 L294 1013 L295 1013.6 L296 1013.3 L297 1014.1 L298 1013.5 L299 1014.5 L300 1014.1 L301 1014.2 L302 1014.4 L303 1013.9 L304 1013.8 L305 1013.5 L306 1013 L307 1014.5 L308 1013.9 L309 1013.1 L310 1014.7 L311 1014 L312 1014.1 L313 1013.7 L314 1013.1 L315 1014.8 L316 1013.2 L317 1013.5 L318 1014.8 L319 1013 L320 1013.8 L321 1013.7 L322 1013.3 L323 1014.6 L324 1013.6 L325 1012.8 L326 1013.7 L327 1012.7 L328 1014.1 L329 1014.5 L330 1014.5 L331 1012.8 L332 1014 L333 1013.3 L334 1013.6 L335 1013.2 L336 1013.1 L337 1012.7 L338 1013.5 L339 1012.3 L340 1013.8 L341 1011.7 L342 1013.2 L343 1011.2 L344 1010.5 L345 1011.1 L346 1009.8 L347 1009.3 L348 1007.7 L349 1006.6 L350 1004.1 L351 1003.6 L352 1001.5 L353 1000.6 L354 996.8 L355 994.9 L356 994.2 L357 992.9 L358 990.2 L359 989.4 L360 987.8 L361 986.6 L362 986.1 L363 986.1 L364 985 L365 985.9 L366 987.4 L367 987.3 L368 988.7 L369 989.4 L370 990.7 L371 992.4 L372 993.6 L373 994.9 L374 994.6 L375 994.5 L376 995.1 L377 994.7 L378 995 L379 995.5 L380 995.3 L381 994.3 L382 993.9 L383 993.6 L384 993.7 L385 994.5 L386 994.3 L387 996 L388 996 L389 996.4 L390 997.6 L391 997.9 L392 1000.5 L393 1001.8 L394 1002.3 L395 1004.3 L396 1004.7 L397 1005.7 L398 1006.8 L399 1007.7 L400 1009.4 L401 1010.3 L402 1011.1 L403 1010.4 L404 1012.1 L405 1011.9 L406 1012 L407 1012.5 L408 1012.5 L409 1012.2 L410 1012.7 L411 1013.3 L412 1013.5 L413 1013.9 L414 1012.5 L415 1013.9 L416 1013.7 L417 1013.5 L418 1014.1 L419 1012.4 L420 1013.7 L421 1013.9 L422 1012.3 L423 1013.3 L424 1014 L425 1012.7 L426 1013.8 L427 1013.9 L428 1012.9 L429 1012.3 L430 1012.5 L431 1013.7 L432 1012.9 L433 1012.7 L434 1012.9 L435 1013.9 L436 1012.5" fill="none" stroke="#000" stroke-width="2.4" stroke-linejoin="round"/>
<path d="M123 1094.7 L124 1094.7 L125 1094.6 L126 1094.6 L127 1094.6 L128 1094.6 L129 1094.5 L130 1094.5 L131 1094.5 L132 1094.4 L133 1094.4 L134 1094.4 L135 1094.3 L136 1094.3 L137 1094.2 L138 1094.2 L139 1094.1 L140 1094.1 L141 1094 L142 1094 L143 1093.9 L144 1093.8 L145 1093.7 L146 1093.7 L147 1093.6 L148 1093.5 L149 1093.3 L150 1093.2 L151 1093.1 L152 1093 L153 1092.8 L154 1092.7 L155 1092.5 L156 1092.3 L157 1092.2 L158 1092 L159 1091.8 L160 1091.6 L161 1091.4 L162 1091.2 L163 1091 L164 1090.8 L165 1090.5 L166 1090.3 L167 1090.1 L168 1089.9 L169 1089.7 L170 1089.5 L171 1089.4 L172 1089.2 L173 1089 L174 1088.9 L175 1088.8 L176 1088.7 L177 1088.6 L178 1088.5 L179 1088.5 L180 1088.4 L181 1088.4 L182 1088.4 L183 1088.5 L184 1088.5 L185 1088.6 L186 1088.6 L187 1088.7 L188 1088.8 L189 1089 L190 1089.1 L191 1089.2 L192 1089.4 L193 1089.5 L194 1089.7 L195 1089.9 L196 1090 L197 1090.2 L198 1090.4 L199 1090.5 L200 1090.7 L201 1090.9 L202 1091 L203 1091.1 L204 1091.3 L205 1091.4 L206 1091.5 L207 1091.6 L208 1091.7 L209 1091.8 L210 1091.9 L211 1092 L212 1092 L213 1092.1 L214 1092.2 L215 1092.2 L216 1092.2 L217 1092.3 L218 1092.3 L219 1092.3 L220 1092.3 L221 1092.3 L222 1092.3 L223 1092.3 L224 1092.3 L225 1092.3 L226 1092.3 L227 1092.3 L228 1092.3 L229 1092.3 L230 1092.3 L231 1092.3 L232 1092.3 L233 1092.2 L234 1092.2 L235 1092.2 L236 1092.2 L237 1092.2 L237 1092.2 L236 1092.2 L235 1092.2 L234 1092.2 L233 1092.3 L232 1092.3 L231 1092.3 L230 1092.3 L229 1092.3 L228 1092.4 L227 1092.4 L226 1092.4 L225 1092.4 L224 1092.5 L223 1092.5 L222 1092.5 L221 1092.5 L220 1092.5 L219 1092.6 L218 1092.6 L217 1092.6 L216 1092.6 L215 1092.7 L214 1092.7 L213 1092.7 L212 1092.7 L211 1092.7 L210 1092.8 L209 1092.8 L208 1092.8 L207 1092.8 L206 1092.9 L205 1092.9 L204 1092.9 L203 1092.9 L202 1092.9 L201 1093 L200 1093 L199 1093 L198 1093 L197 1093.1 L196 1093.1 L195 1093.1 L194 1093.1 L193 1093.1 L192 1093.2 L191 1093.2 L190 1093.2 L189 1093.2 L188 1093.3 L187 1093.3 L186 1093.3 L185 1093.3 L184 1093.3 L183 1093.4 L182 1093.4 L181 1093.4 L180 1093.4 L179 1093.5 L178 1093.5 L177 1093.5 L176 1093.5 L175 1093.5 L174 1093.6 L173 1093.6 L172 1093.6 L171 1093.6 L170 1093.7 L169 1093.7 L168 1093.7 L167 1093.7 L166 1093.7 L165 1093.8 L164 1093.8 L163 1093.8 L162 1093.8 L161 1093.8 L160 1093.9 L159 1093.9 L158 1093.9 L157 1093.9 L156 1094 L155 1094 L154 1094 L153 1094 L152 1094 L151 1094.1 L150 1094.1 L149 1094.1 L148 1094.1 L147 1094.2 L146 1094.2 L145 1094.2 L144 1094.2 L143 1094.2 L142 1094.3 L141 1094.3 L140 1094.3 L139 1094.3 L138 1094.4 L137 1094.4 L136 1094.4 L135 1094.4 L134 1094.4 L133 1094.5 L132 1094.5 L131 1094.5 L130 1094.5 L129 1094.6 L128 1094.6 L127 1094.6 L126 1094.6 L125 1094.6 L124 1094.7 L123 1094.7 Z" fill="#d4a017" stroke="none" stroke-width="0"/>
<path d="M179 1093.4 L180 1093.4 L181 1093.4 L182 1093.4 L183 1093.3 L184 1093.3 L185 1093.3 L186 1093.2 L187 1093.2 L188 1093.2 L189 1093.1 L190 1093.1 L191 1093 L192 1093 L193 1092.9 L194 1092.8 L195 1092.7 L196 1092.7 L197 1092.6 L198 1092.5 L199 1092.3 L200 1092.2 L201 1092.1 L202 1091.9 L203 1091.7 L204 1091.5 L205 1091.3 L206 1091.1 L207 1090.9 L208 1090.7 L209 1090.4 L210 1090.2 L211 1089.9 L212 1089.7 L213 1089.4 L214 1089.2 L215 1088.9 L216 1088.7 L217 1088.5 L218 1088.3 L219 1088.1 L220 1087.9 L221 1087.8 L222 1087.6 L223 1087.5 L224 1087.5 L225 1087.4 L226 1087.4 L227 1087.5 L228 1087.5 L229 1087.6 L230 1087.7 L231 1087.8 L232 1088 L233 1088.1 L234 1088.3 L235 1088.5 L236 1088.7 L237 1088.9 L238 1089.1 L239 1089.3 L240 1089.5 L241 1089.7 L242 1089.9 L243 1090.1 L244 1090.3 L245 1090.5 L246 1090.6 L247 1090.8 L248 1090.9 L249 1091 L250 1091.1 L251 1091.2 L252 1091.3 L253 1091.3 L254 1091.4 L255 1091.4 L256 1091.5 L257 1091.5 L258 1091.5 L259 1091.5 L260 1091.5 L261 1091.5 L262 1091.5 L263 1091.5 L264 1091.5 L265 1091.5 L266 1091.5 L267 1091.5 L268 1091.5 L269 1091.4 L270 1091.4 L271 1091.4 L271 1091.4 L270 1091.4 L269 1091.5 L268 1091.5 L267 1091.5 L266 1091.5 L265 1091.6 L264 1091.6 L263 1091.6 L262 1091.6 L261 1091.6 L260 1091.7 L259 1091.7 L258 1091.7 L257 1091.7 L256 1091.8 L255 1091.8 L254 1091.8 L253 1091.8 L252 1091.8 L251 1091.9 L250 1091.9 L249 1091.9 L248 1091.9 L247 1092 L246 1092 L245 1092 L244 1092 L243 1092 L242 1092.1 L241 1092.1 L240 1092.1 L239 1092.1 L238 1092.1 L237 1092.2 L236 1092.2 L235 1092.2 L234 1092.2 L233 1092.3 L232 1092.3 L231 1092.3 L230 1092.3 L229 1092.3 L228 1092.4 L227 1092.4 L226 1092.4 L225 1092.4 L224 1092.5 L223 1092.5 L222 1092.5 L221 1092.5 L220 1092.5 L219 1092.6 L218 1092.6 L217 1092.6 L216 1092.6 L215 1092.7 L214 1092.7 L213 1092.7 L212 1092.7 L211 1092.7 L210 1092.8 L209 1092.8 L208 1092.8 L207 1092.8 L206 1092.9 L205 1092.9 L204 1092.9 L203 1092.9 L202 1092.9 L201 1093 L200 1093 L199 1093 L198 1093 L197 1093.1 L196 1093.1 L195 1093.1 L194 1093.1 L193 1093.1 L192 1093.2 L191 1093.2 L190 1093.2 L189 1093.2 L188 1093.3 L187 1093.3 L186 1093.3 L185 1093.3 L184 1093.3 L183 1093.4 L182 1093.4 L181 1093.4 L180 1093.4 L179 1093.5 Z" fill="#a066dd" stroke="none" stroke-width="0"/>
<path d="M76 1095.6 L77 1095.5 L78 1095.4 L79 1095.2 L80 1094.9 L81 1094.6 L82 1094.2 L83 1093.5 L84 1092.7 L85 1091.7 L86 1090.4 L87 1088.7 L88 1086.6 L89 1084.2 L90 1081.2 L91 1077.9 L92 1074.1 L93 1069.9 L94 1065.3 L95 1060.6 L96 1055.8 L97 1051 L98 1046.5 L99 1042.3 L100 1038.8 L101 1036 L102 1034.1 L103 1033.2 L104 1033.3 L105 1034.4 L106 1036.4 L107 1039.3 L108 1042.9 L109 1047.1 L110 1051.6 L111 1056.4 L112 1061.2 L113 1065.8 L114 1070.3 L115 1074.3 L116 1078 L117 1081.3 L118 1084 L119 1086.4 L120 1088.3 L121 1089.9 L122 1091.1 L123 1092.1 L124 1092.8 L125 1093.3 L126 1093.7 L127 1094 L128 1094.1 L129 1094.3 L130 1094.3 L131 1094.4 L131 1094.5 L130 1094.5 L129 1094.6 L128 1094.6 L127 1094.6 L126 1094.6 L125 1094.6 L124 1094.7 L123 1094.7 L122 1094.7 L121 1094.7 L120 1094.8 L119 1094.8 L118 1094.8 L117 1094.8 L116 1094.8 L115 1094.9 L114 1094.9 L113 1094.9 L112 1094.9 L111 1095 L110 1095 L109 1095 L108 1095 L107 1095 L106 1095.1 L105 1095.1 L104 1095.1 L103 1095.1 L102 1095.2 L101 1095.2 L100 1095.2 L99 1095.2 L98 1095.2 L97 1095.3 L96 1095.3 L95 1095.3 L94 1095.3 L93 1095.4 L92 1095.4 L91 1095.4 L90 1095.4 L89 1095.4 L88 1095.5 L87 1095.5 L86 1095.5 L85 1095.5 L84 1095.5 L83 1095.6 L82 1095.6 L81 1095.6 L80 1095.6 L79 1095.7 L78 1095.7 L77 1095.7 L76 1095.7 Z" fill="#ef4242" stroke="none" stroke-width="0"/>
<path d="M124 1094.6 L125 1094.5 L126 1094.4 L127 1094.3 L128 1094.1 L129 1093.9 L130 1093.6 L131 1093.1 L132 1092.6 L133 1091.8 L134 1090.9 L135 1089.7 L136 1088.2 L137 1086.4 L138 1084.3 L139 1081.8 L140 1079.1 L141 1075.9 L142 1072.6 L143 1069 L144 1065.4 L145 1061.7 L146 1058.2 L147 1055 L148 1052.1 L149 1049.8 L150 1048.2 L151 1047.3 L152 1047.1 L153 1047.7 L154 1049 L155 1051 L156 1053.6 L157 1056.6 L158 1060 L159 1063.6 L160 1067.2 L161 1070.8 L162 1074.2 L163 1077.3 L164 1080.2 L165 1082.8 L166 1085 L167 1086.9 L168 1088.4 L169 1089.7 L170 1090.7 L171 1091.4 L172 1092 L173 1092.5 L174 1092.8 L175 1093 L176 1093.2 L177 1093.3 L178 1093.3 L179 1093.3 L179 1093.5 L178 1093.5 L177 1093.5 L176 1093.5 L175 1093.5 L174 1093.6 L173 1093.6 L172 1093.6 L171 1093.6 L170 1093.7 L169 1093.7 L168 1093.7 L167 1093.7 L166 1093.7 L165 1093.8 L164 1093.8 L163 1093.8 L162 1093.8 L161 1093.8 L160 1093.9 L159 1093.9 L158 1093.9 L157 1093.9 L156 1094 L155 1094 L154 1094 L153 1094 L152 1094 L151 1094.1 L150 1094.1 L149 1094.1 L148 1094.1 L147 1094.2 L146 1094.2 L145 1094.2 L144 1094.2 L143 1094.2 L142 1094.3 L141 1094.3 L140 1094.3 L139 1094.3 L138 1094.4 L137 1094.4 L136 1094.4 L135 1094.4 L134 1094.4 L133 1094.5 L132 1094.5 L131 1094.5 L130 1094.5 L129 1094.6 L128 1094.6 L127 1094.6 L126 1094.6 L125 1094.6 L124 1094.7 Z" fill="#1f6fdc" stroke="none" stroke-width="0"/>
<path d="M50 1095.9 L51 1096.6 L52 1096.1 L53 1096.1 L54 1096.6 L55 1096 L56 1095.8 L57 1096.5 L58 1095.9 L59 1095.9 L60 1096.4 L61 1095.8 L62 1096.4 L63 1095.9 L64 1095.8 L65 1095.7 L66 1096 L67 1096 L68 1095.8 L69 1095.9 L70 1095.7 L71 1096.1 L72 1096.1 L73 1096 L74 1096 L75 1095.3 L76 1095.4 L77 1095.3 L78 1095.1 L79 1095.6 L80 1095.3 L81 1094.9 L82 1094.2 L83 1093.2 L84 1092.7 L85 1091.3 L86 1090.7 L87 1088.5 L88 1086.5 L89 1084.5 L90 1081 L91 1078.2 L92 1073.9 L93 1070 L94 1065 L95 1060.9 L96 1055.7 L97 1050.9 L98 1046.6 L99 1042.4 L100 1038.6 L101 1035.7 L102 1034.2 L103 1032.8 L104 1033.6 L105 1034.3 L106 1036.1 L107 1039.2 L108 1042.6 L109 1046.9 L110 1051.7 L111 1056.3 L112 1061 L113 1065.7 L114 1070.3 L115 1074.6 L116 1078 L117 1081.5 L118 1084 L119 1086.1 L120 1088 L121 1090.1 L122 1091 L123 1091.9 L124 1092.7 L125 1093.4 L126 1093.4 L127 1093.5 L128 1093.6 L129 1093.2 L130 1093.4 L131 1092.9 L132 1092.4 L133 1091.7 L134 1090.7 L135 1089.7 L136 1087.8 L137 1086.7 L138 1083.8 L139 1082 L140 1078.6 L141 1075.9 L142 1072.1 L143 1068.3 L144 1065 L145 1061.5 L146 1057.9 L147 1054.7 L148 1051.8 L149 1048.7 L150 1047.2 L151 1046 L152 1046.2 L153 1046.4 L154 1047.9 L155 1049.8 L156 1052.4 L157 1055 L158 1058.4 L159 1061.5 L160 1064.6 L161 1068.6 L162 1071.2 L163 1074.2 L164 1077.5 L165 1079.4 L166 1081.7 L167 1082.9 L168 1084.4 L169 1085.9 L170 1086.2 L171 1087.2 L172 1088 L173 1087.7 L174 1088.3 L175 1088.4 L176 1088.4 L177 1088.5 L178 1088.5 L179 1088 L180 1088.1 L181 1088.4 L182 1088.8 L183 1088.2 L184 1088.5 L185 1088.2 L186 1088.9 L187 1088.6 L188 1088.8 L189 1089 L190 1088.7 L191 1089.3 L192 1089.4 L193 1089.6 L194 1089.2 L195 1089.3 L196 1089.4 L197 1090 L198 1089.7 L199 1089.8 L200 1089.9 L201 1090.1 L202 1089.8 L203 1089.8 L204 1090.1 L205 1090.1 L206 1089.6 L207 1089.4 L208 1089.9 L209 1089.7 L210 1089.4 L211 1089.1 L212 1089.4 L213 1088.8 L214 1088.4 L215 1088.2 L216 1088.2 L217 1088.2 L218 1087.9 L219 1088.2 L220 1087.8 L221 1087.5 L222 1087.6 L223 1087.5 L224 1087.5 L225 1087.3 L226 1087.4 L227 1087.4 L228 1087.7 L229 1087.3 L230 1087.9 L231 1087.6 L232 1088.2 L233 1087.8 L234 1088.3 L235 1088.4 L236 1088.9 L237 1088.7 L238 1088.9 L239 1089 L240 1089.6 L241 1089.8 L242 1089.5 L243 1089.9 L244 1090.1 L245 1090.8 L246 1090.6 L247 1090.8 L248 1090.7 L249 1091.1 L250 1091.3 L251 1091.3 L252 1090.9 L253 1091.3 L254 1091.4 L255 1091.1 L256 1091.7 L257 1091.3 L258 1091.3 L259 1091.6 L260 1091.6 L261 1091.5 L262 1091.8 L263 1091.5 L264 1091.4 L265 1091.2 L266 1091.5 L267 1091.4 L268 1091.5 L269 1091.3 L270 1091 L271 1091 L272 1091.1 L273 1091 L274 1091.6 L275 1091.4 L276 1091.1 L277 1091.5 L278 1091.4 L279 1090.9 L280 1091.4 L281 1091" fill="none" stroke="#000" stroke-width="2.4" stroke-linejoin="round"/>
<path d="M335 1091 L336 1090.9 L337 1090.9 L338 1090.8 L339 1090.7 L340 1090.5 L341 1090.3 L342 1090.1 L343 1089.8 L344 1089.3 L345 1088.8 L346 1088.2 L347 1087.4 L348 1086.4 L349 1085.3 L350 1084 L351 1082.5 L352 1080.9 L353 1079.1 L354 1077.1 L355 1075.1 L356 1073 L357 1071 L358 1069 L359 1067.2 L360 1065.6 L361 1064.3 L362 1063.3 L363 1062.7 L364 1062.5 L365 1062.7 L366 1063.2 L367 1064.2 L368 1065.5 L369 1067 L370 1068.8 L371 1070.7 L372 1072.7 L373 1074.7 L374 1076.7 L375 1078.6 L376 1080.4 L377 1082 L378 1083.4 L379 1084.7 L380 1085.8 L381 1086.7 L382 1087.4 L383 1088 L384 1088.5 L385 1088.9 L386 1089.2 L387 1089.4 L388 1089.6 L389 1089.7 L390 1089.7 L391 1089.8 L392 1089.8 L393 1089.8 L393 1089.9 L392 1089.9 L391 1089.9 L390 1089.9 L389 1090 L388 1090 L387 1090 L386 1090 L385 1090 L384 1090.1 L383 1090.1 L382 1090.1 L381 1090.1 L380 1090.1 L379 1090.2 L378 1090.2 L377 1090.2 L376 1090.2 L375 1090.2 L374 1090.3 L373 1090.3 L372 1090.3 L371 1090.3 L370 1090.3 L369 1090.4 L368 1090.4 L367 1090.4 L366 1090.4 L365 1090.4 L364 1090.5 L363 1090.5 L362 1090.5 L361 1090.5 L360 1090.6 L359 1090.6 L358 1090.6 L357 1090.6 L356 1090.6 L355 1090.7 L354 1090.7 L353 1090.7 L352 1090.7 L351 1090.7 L350 1090.8 L349 1090.8 L348 1090.8 L347 1090.8 L346 1090.8 L345 1090.9 L344 1090.9 L343 1090.9 L342 1090.9 L341 1090.9 L340 1091 L339 1091 L338 1091 L337 1091 L336 1091 L335 1091.1 Z" fill="#3cb371" stroke="none" stroke-width="0"/>
<path d="M353 1090.7 L354 1090.6 L355 1090.6 L356 1090.5 L357 1090.4 L358 1090.3 L359 1090.2 L360 1090 L361 1089.8 L362 1089.6 L363 1089.2 L364 1088.8 L365 1088.3 L366 1087.7 L367 1087 L368 1086.2 L369 1085.2 L370 1084.1 L371 1082.9 L372 1081.6 L373 1080.3 L374 1078.8 L375 1077.4 L376 1076 L377 1074.6 L378 1073.4 L379 1072.3 L380 1071.4 L381 1070.7 L382 1070.2 L383 1070.1 L384 1070.2 L385 1070.6 L386 1071.2 L387 1072.1 L388 1073.2 L389 1074.4 L390 1075.7 L391 1077.1 L392 1078.5 L393 1079.9 L394 1081.2 L395 1082.5 L396 1083.6 L397 1084.6 L398 1085.6 L399 1086.4 L400 1087 L401 1087.6 L402 1088 L403 1088.4 L404 1088.7 L405 1088.9 L406 1089.1 L407 1089.2 L408 1089.3 L409 1089.4 L410 1089.4 L411 1089.4 L412 1089.4 L413 1089.4 L413 1089.5 L412 1089.5 L411 1089.5 L410 1089.5 L409 1089.6 L408 1089.6 L407 1089.6 L406 1089.6 L405 1089.6 L404 1089.7 L403 1089.7 L402 1089.7 L401 1089.7 L400 1089.7 L399 1089.8 L398 1089.8 L397 1089.8 L396 1089.8 L395 1089.8 L394 1089.9 L393 1089.9 L392 1089.9 L391 1089.9 L390 1089.9 L389 1090 L388 1090 L387 1090 L386 1090 L385 1090 L384 1090.1 L383 1090.1 L382 1090.1 L381 1090.1 L380 1090.1 L379 1090.2 L378 1090.2 L377 1090.2 L376 1090.2 L375 1090.2 L374 1090.3 L373 1090.3 L372 1090.3 L371 1090.3 L370 1090.3 L369 1090.4 L368 1090.4 L367 1090.4 L366 1090.4 L365 1090.4 L364 1090.5 L363 1090.5 L362 1090.5 L361 1090.5 L360 1090.6 L359 1090.6 L358 1090.6 L357 1090.6 L356 1090.6 L355 1090.7 L354 1090.7 L353 1090.7 Z" fill="#fb6a06" stroke="none" stroke-width="0"/>
<path d="M289 1092.4 L290 1091.7 L291 1091.8 L292 1091.7 L293 1092.2 L294 1092.2 L295 1091.9 L296 1091.6 L297 1091.8 L298 1092 L299 1091.4 L300 1092.1 L301 1092 L302 1092.1 L303 1091.9 L304 1091.8 L305 1092.1 L306 1091.5 L307 1091.5 L308 1091.3 L309 1091.3 L310 1091.8 L311 1091.2 L312 1091.7 L313 1091.4 L314 1091.8 L315 1091.7 L316 1091.6 L317 1091.7 L318 1091 L319 1091.2 L320 1091.3 L321 1091.3 L322 1091.5 L323 1091.6 L324 1091.5 L325 1091.6 L326 1091.4 L327 1091.1 L328 1091.2 L329 1091.4 L330 1091.4 L331 1091 L332 1091 L333 1091.2 L334 1090.8 L335 1091.3 L336 1090.5 L337 1091 L338 1090.8 L339 1090.4 L340 1090.6 L341 1090.3 L342 1090.5 L343 1090.1 L344 1089.4 L345 1089.1 L346 1088.5 L347 1087.1 L348 1086.7 L349 1085.6 L350 1084.4 L351 1082.7 L352 1080.8 L353 1078.8 L354 1077.2 L355 1074.8 L356 1073.1 L357 1070.9 L358 1069 L359 1066.7 L360 1064.9 L361 1063.9 L362 1062.5 L363 1061.3 L364 1060.9 L365 1060.5 L366 1060.6 L367 1060.8 L368 1061.1 L369 1062.2 L370 1062.9 L371 1063.5 L372 1063.9 L373 1064.5 L374 1065.5 L375 1066 L376 1066.3 L377 1066.2 L378 1066.8 L379 1066.8 L380 1066.9 L381 1067.3 L382 1067.5 L383 1068.2 L384 1068.9 L385 1069.8 L386 1070.1 L387 1071.6 L388 1073.1 L389 1074.2 L390 1075.5 L391 1077.2 L392 1078 L393 1080 L394 1081.3 L395 1082.5 L396 1083.4 L397 1084.7 L398 1085.3 L399 1086.4 L400 1086.8 L401 1087.9 L402 1088.3 L403 1088.4 L404 1088.9 L405 1088.8 L406 1089.1 L407 1088.9 L408 1089.6 L409 1089.6 L410 1089.6 L411 1089.1 L412 1089.7 L413 1089 L414 1089.5 L415 1089.4 L416 1089 L417 1089.3 L418 1089.7 L419 1089.4 L420 1089.2 L421 1089.6 L422 1089.2 L423 1089.6 L424 1089.2 L425 1088.9 L426 1089.6 L427 1088.8 L428 1089 L429 1089.4 L430 1088.8 L431 1089.1 L432 1089.4 L433 1089.1 L434 1088.9 L435 1089.2 L436 1089.3" fill="none" stroke="#000" stroke-width="2.4" stroke-linejoin="round"/>
<line x1="49" y1="655" x2="437" y2="655" stroke="#000" stroke-width="2.2"/>
<line x1="49" y1="654" x2="49" y2="1105.8" stroke="#000" stroke-width="2.2"/>
<line x1="437" y1="654" x2="437" y2="1105.8" stroke="#000" stroke-width="2.2"/>
<line x1="48" y1="1104.8" x2="281" y2="1104.8" stroke="#000" stroke-width="2.4"/>
<line x1="290" y1="1104.8" x2="438" y2="1104.8" stroke="#000" stroke-width="2.4"/>
<rect x="279" y="1094" width="12" height="20" fill="#fff" stroke="none" stroke-width="0"/>
<line x1="274.2" y1="1112.9" x2="289.2" y2="1097.6" stroke="#000" stroke-width="2"/>
<line x1="281.1" y1="1112.9" x2="296" y2="1097.6" stroke="#000" stroke-width="2"/>
<line x1="93.7" y1="1104.8" x2="93.7" y2="1099.8" stroke="#000" stroke-width="2"/>
<line x1="138" y1="1104.8" x2="138" y2="1096.8" stroke="#000" stroke-width="2"/>
<line x1="182.3" y1="1104.8" x2="182.3" y2="1099.8" stroke="#000" stroke-width="2"/>
<line x1="226.6" y1="1104.8" x2="226.6" y2="1096.8" stroke="#000" stroke-width="2"/>
<line x1="270.9" y1="1104.8" x2="270.9" y2="1099.8" stroke="#000" stroke-width="2"/>
<line x1="304.1" y1="1104.8" x2="304.1" y2="1096.8" stroke="#000" stroke-width="2"/>
<line x1="337.4" y1="1104.8" x2="337.4" y2="1099.8" stroke="#000" stroke-width="2"/>
<line x1="370.8" y1="1104.8" x2="370.8" y2="1096.8" stroke="#000" stroke-width="2"/>
<line x1="404.1" y1="1104.8" x2="404.1" y2="1099.8" stroke="#000" stroke-width="2"/>
<text x="49.4" y="1139" font-size="33" fill="#000" text-anchor="middle">30</text>
<text x="138" y="1139" font-size="33" fill="#000" text-anchor="middle">34</text>
<text x="226.6" y="1139" font-size="33" fill="#000" text-anchor="middle">38</text>
<text x="304.1" y="1139" font-size="33" fill="#000" text-anchor="middle">52</text>
<text x="370.8" y="1139" font-size="33" fill="#000" text-anchor="middle">55</text>
<text x="437.5" y="1139" font-size="33" fill="#000" text-anchor="middle">58</text>
<line x1="49" y1="688.6" x2="57" y2="688.6" stroke="#000" stroke-width="2"/>
<line x1="49" y1="722.7" x2="53" y2="722.7" stroke="#000" stroke-width="2"/>
<line x1="49" y1="756.8" x2="57" y2="756.8" stroke="#000" stroke-width="2"/>
<line x1="49" y1="791.4" x2="53" y2="791.4" stroke="#000" stroke-width="2"/>
<line x1="49" y1="825.6" x2="57" y2="825.6" stroke="#000" stroke-width="2"/>
<line x1="49" y1="859.4" x2="53" y2="859.4" stroke="#000" stroke-width="2"/>
<line x1="49" y1="894" x2="57" y2="894" stroke="#000" stroke-width="2"/>
<line x1="49" y1="928" x2="53" y2="928" stroke="#000" stroke-width="2"/>
<line x1="49" y1="995.8" x2="57" y2="995.8" stroke="#000" stroke-width="2"/>
<line x1="49" y1="1030.2" x2="57" y2="1030.2" stroke="#000" stroke-width="2"/>
<line x1="49" y1="1064.3" x2="53" y2="1064.3" stroke="#000" stroke-width="2"/>
<line x1="49" y1="1097.9" x2="57" y2="1097.9" stroke="#000" stroke-width="2"/>
<text x="243" y="1174.6" font-size="33" fill="#000" text-anchor="middle">Binding energy (eV)</text>
<text x="27" y="864" font-size="33" fill="#000" text-anchor="middle" transform="rotate(-90 27 864)">Intensity (arb. units)</text>
<text x="113" y="739.4" font-size="25" fill="#ec4040" text-anchor="start" transform="rotate(-90 113 739.4)">W 4<tspan font-style="italic">f</tspan><tspan font-size="17" dy="6">7/2</tspan></text>
<text x="157.5" y="752" font-size="25" fill="#1f6fe0" text-anchor="start" transform="rotate(-90 157.5 752)">W 4<tspan font-style="italic">f</tspan><tspan font-size="17" dy="6">5/2</tspan></text>
<text x="193.5" y="793.6" font-size="25" fill="#cc9a06" text-anchor="start" transform="rotate(-90 193.5 793.6)">W 4<tspan font-style="italic">f</tspan>-loss</text>
<text x="230" y="776.5" font-size="25" fill="#7c35c8" text-anchor="start" transform="rotate(-90 230 776.5)">W 5<tspan font-style="italic">p</tspan><tspan font-size="17" dy="6">3/2</tspan></text>
<text x="286" y="732" font-size="25" fill="#555" text-anchor="start" transform="rotate(-90 286 732)">Size</text>
<line x1="299.4" y1="749.3" x2="299.4" y2="679" stroke="#555" stroke-width="2.2"/>
<path d="M293 680.6 L305.8 680.6 L299.4 667.2 Z" fill="#555" stroke="none" stroke-width="0"/>
<text x="366" y="763.8" font-size="25" fill="#3cb371" text-anchor="start" transform="rotate(-90 366 763.8)">Se 3<tspan font-style="italic">d</tspan><tspan font-size="17" dy="6">5/2</tspan></text>
<text x="396" y="773.7" font-size="25" fill="#fb6a06" text-anchor="start" transform="rotate(-90 396 773.7)">Se 3<tspan font-style="italic">d</tspan><tspan font-size="17" dy="6">3/2</tspan></text>
<text x="337.5" y="798" font-size="25" fill="#000" text-anchor="end">~ 18.0 <tspan font-family="Liberation Serif">μ</tspan>m</text>
<text x="327.5" y="874.4" font-size="25" fill="#000" text-anchor="end">~ 8.6 <tspan font-family="Liberation Serif">μ</tspan>m</text>
<text x="325.6" y="941" font-size="25" fill="#000" text-anchor="end">~ 4.7 <tspan font-family="Liberation Serif">μ</tspan>m</text>
<text x="326.6" y="1001.2" font-size="25" fill="#000" text-anchor="end">~ 1.7 <tspan font-family="Liberation Serif">μ</tspan>m</text>
<text x="323.4" y="1078" font-size="25" fill="#000" text-anchor="end">Powder</text>
<rect x="588.4" y="654.5" width="187.9" height="456" fill="none" stroke="#222" stroke-width="2"/>
<line x1="603.4" y1="1110.5" x2="603.4" y2="1106.5" stroke="#222" stroke-width="2"/>
<line x1="642.6" y1="1110.5" x2="642.6" y2="1106.5" stroke="#222" stroke-width="2"/>
<line x1="681.9" y1="1110.5" x2="681.9" y2="1106.5" stroke="#222" stroke-width="2"/>
<line x1="721.1" y1="1110.5" x2="721.1" y2="1106.5" stroke="#222" stroke-width="2"/>
<line x1="760.4" y1="1110.5" x2="760.4" y2="1106.5" stroke="#222" stroke-width="2"/>
<text x="603.4" y="1141.4" font-size="30.5" fill="#000" text-anchor="middle">-0.1</text>
<text x="681.9" y="1141.4" font-size="30.5" fill="#000" text-anchor="middle">0.0</text>
<text x="760.4" y="1141.4" font-size="30.5" fill="#000" text-anchor="middle">0.1</text>
<text x="583.5" y="1119.3" font-size="30.5" fill="#000" text-anchor="end">0</text>
<text x="583.5" y="1010.9" font-size="30.5" fill="#000" text-anchor="end">5</text>
<text x="583.5" y="902.5" font-size="30.5" fill="#000" text-anchor="end">10</text>
<text x="583.5" y="794.1" font-size="30.5" fill="#000" text-anchor="end">15</text>
<text x="583.5" y="685.7" font-size="30.5" fill="#000" text-anchor="end">20</text>
<line x1="697.3" y1="657" x2="697.3" y2="1109.5" stroke="#000" stroke-width="2.8" stroke-dasharray="5.4 3"/>
<path d="M650.1 1073.2 C653.6 1048.3 658.4 1031 662.3 1008.4 C667 978.9 675.6 952.9 677.3 924.7 C678.8 881.4 678.5 805.5 678.5 719.6" fill="none" stroke="#000" stroke-width="2.6"/>
<line x1="660.3" y1="719.7" x2="695.6" y2="719.7" stroke="#ef4040" stroke-width="3.6"/>
<line x1="677.8" y1="703" x2="677.8" y2="736.7" stroke="#ef4040" stroke-width="3.6"/>
<circle cx="677.8" cy="719.7" r="8.2" fill="#ef4040"/>
<line x1="661" y1="924.4" x2="694.7" y2="924.4" stroke="#ef4040" stroke-width="3.6"/>
<line x1="677.4" y1="912.6" x2="677.4" y2="936" stroke="#ef4040" stroke-width="3.6"/>
<circle cx="677.4" cy="924.4" r="8.2" fill="#ef4040"/>
<line x1="644.5" y1="1008.4" x2="679.7" y2="1008.4" stroke="#ef4040" stroke-width="3.6"/>
<line x1="661.9" y1="997" x2="661.9" y2="1021" stroke="#ef4040" stroke-width="3.6"/>
<circle cx="661.9" cy="1008.4" r="8.2" fill="#ef4040"/>
<line x1="625.3" y1="1073.2" x2="676" y2="1073.2" stroke="#ef4040" stroke-width="3.6"/>
<line x1="650.1" y1="1063" x2="650.1" y2="1084" stroke="#ef4040" stroke-width="3.6"/>
<circle cx="650.1" cy="1073.2" r="8.2" fill="#ef4040"/>
<text x="681.8" y="1179.5" font-size="30.3" fill="#000" text-anchor="middle"><tspan font-family="Liberation Serif">δ</tspan> value</text>
<text x="532" y="882.6" font-size="29.8" fill="#000" text-anchor="middle" transform="rotate(-90 532 882.6)">Average perimeter (<tspan font-family="Liberation Serif">μ</tspan>m)</text>
<text x="738.5" y="977.4" font-size="26.5" fill="#000" text-anchor="start" transform="rotate(-90 738.5 977.4)">W<tspan font-size="18" dy="5.5">1.02</tspan><tspan dy="-5.5">Se</tspan><tspan font-size="18" dy="5.5">2</tspan><tspan dy="-5.5"> (powder)</tspan></text>
<path d="M889 1107.5 L891.2 1108.3 L894.3 1109.2 L897 1107.5 L898.6 1101.8 L899.8 1093.7 L901 1085 L902.4 1075 L903.7 1064.4 L905 1057.8 L906 1058 L907 1062.2 L908 1066 L909.3 1068.4 L910.6 1070.5 L912 1071 L913.3 1069.1 L914.7 1065.6 L916 1062 L917.3 1058.9 L918.6 1055.7 L920 1052 L921.6 1047.4 L923.3 1042.3 L925 1037 L926.8 1031.4 L928.7 1025.8 L930.5 1021 L932 1017.6 L933.5 1015.1 L935 1013 L936.9 1011.6 L938.9 1010.6 L940.6 1009 L941.7 1006.4 L942.4 1003.3 L943 1000 L943.5 996.4 L943.9 992.7 L944.6 990 L945.9 989.5 L947.4 990 L948.7 989 L949.5 985.4 L950 980.4 L950.5 975 L951 968.2 L951.5 961.1 L952 957.8 L952.5 961.3 L953 968.6 L953.5 975 L954 979.1 L954.4 982.3 L955 984 L955.8 983.2 L956.8 980.8 L957.8 979 L958.7 978.2 L959.7 978 L960.8 979 L962.1 982.4 L963.5 987 L964.8 990 L965.9 989.7 L967 987.8 L968 986 L968.9 984.9 L969.9 983.9 L971 983 L972.5 982.2 L974.3 981.5 L976 981 L977.7 980.9 L979.3 980.9 L981 981 L982.7 981 L984.4 981 L986 981 L987.4 980.9 L988.8 980.7 L990 981 L991 982.4 L992 984.2 L993 985 L994.3 983.6 L995.6 981.3 L997 980 L998.3 980.9 L999.7 983 L1001 985 L1002.3 987.1 L1003.6 989.2 L1005 990 L1006.6 988.1 L1008.4 984.9 L1010 983 L1011.4 983.9 L1012.8 986 L1014 988 L1015.1 989.5 L1016 990.7 L1017 991 L1018 989.1 L1018.9 986.2 L1020 985 L1021.3 987.3 L1022.6 991.2 L1024 994 L1025.4 994.4 L1026.7 993.8 L1028 993 L1029.3 992.6 L1030.5 992.1 L1031.5 991 L1032.3 988.7 L1032.9 985.8 L1033.5 983 L1034 980.1 L1034.5 977.3 L1035 976 L1035.5 977.2 L1036 979.9 L1036.5 983 L1036.9 986.1 L1037.2 989.6 L1037.6 993 L1038.2 996.3 L1038.8 999.7 L1039.5 1003 L1040.2 1007.1 L1040.9 1011.1 L1041.6 1013 L1042.1 1011.2 L1042.5 1007.1 L1043 1003 L1043.5 998.5 L1044 993.9 L1044.6 992 L1045.2 994.6 L1045.9 999.9 L1046.5 1005 L1047 1010 L1047.5 1015 L1048 1017 L1048.6 1014.1 L1049.3 1008.4 L1050 1003 L1050.6 998.6 L1051.1 994.4 L1051.7 992 L1052.4 992.1 L1053.1 993.9 L1054 996 L1055.2 998.6 L1056.6 1001.4 L1057.8 1003 L1058.5 1002.3 L1059 1000.2 L1059.5 998 L1059.9 996.9 L1060.4 995.6 L1060.8 992 L1061.4 984.5 L1061.9 974.6 L1062.5 965 L1063 954.7 L1063.4 944.7 L1063.8 940.6 L1064.3 946 L1064.8 957.4 L1065.3 970 L1065.7 983.2 L1066 997.5 L1066.5 1010 L1067.2 1019.8 L1068.1 1027.8 L1068.9 1033.5 L1069.6 1036 L1070.2 1036.2 L1071 1036 L1071.9 1035.8 L1073 1035.3 L1074 1035.6 L1075 1037.5 L1076 1040.3 L1077 1043 L1078 1045.6 L1079 1048.1 L1080 1049.7 L1081.1 1050.6 L1082.1 1050.6 L1083 1047.7 L1083.6 1043.8 L1084 1037 L1084.3 1020 L1084.6 987.6 L1084.9 944.9 L1085.2 900 L1085.4 851.4 L1085.7 800.6 L1085.9 760 L1086.1 733.6 L1086.4 717.5 L1086.6 712 L1086.9 717.5 L1087.1 733.6 L1087.4 760 L1087.6 801.9 L1087.9 854 L1088.2 900 L1088.6 934.2 L1089 962.3 L1089.5 985 L1089.9 1000.5 L1090.4 1010.6 L1091 1021 L1091.9 1034.4 L1093 1048.1 L1094 1060 L1094.7 1069 L1095.4 1076.2 L1096 1082 L1096.7 1086.6 L1097.3 1089.9 L1098 1092 L1098.7 1092.6 L1099.3 1091.9 L1100 1091 L1100.7 1090.7 L1101.3 1090.2 L1102 1088 L1102.7 1083.5 L1103.3 1077.3 L1104 1070 L1104.7 1062.2 L1105.4 1053.2 L1106 1041.6 L1106.5 1026.4 L1107 1008.7 L1107.5 990 L1108 966 L1108.5 941 L1109 929.5 L1109.4 940.7 L1109.8 965.4 L1110.2 990 L1110.5 1012.5 L1110.7 1035 L1111 1049.7 L1111.4 1051.6 L1112 1045.7 L1112.5 1040 L1113 1036.3 L1113.5 1032.7 L1114 1031.5 L1114.4 1034.6 L1114.7 1040.2 L1115 1045 L1115.3 1048.4 L1115.7 1051.1 L1116 1051.7 L1116.3 1049 L1116.7 1044.2 L1117 1040 L1117.3 1036.6 L1117.7 1033.8 L1118 1033.5 L1118.3 1037.5 L1118.7 1044 L1119 1050 L1119.3 1056 L1119.7 1061.4 L1120 1062 L1120.3 1054.5 L1120.7 1042.1 L1121 1030 L1121.3 1017.6 L1121.6 1005.5 L1122 1001 L1122.4 1008.7 L1122.9 1024 L1123.5 1040 L1124.4 1057 L1125.5 1074.9 L1126.5 1086 L1127.2 1085.8 L1127.9 1078.9 L1128.5 1072 L1129.1 1066.8 L1129.8 1061.6 L1130.5 1057.8 L1131.3 1056.4 L1132.2 1056.3 L1133 1056 L1133.7 1053.9 L1134.4 1051.6 L1135 1051.7 L1135.7 1056.4 L1136.4 1063.5 L1137 1070 L1137.6 1075.9 L1138.1 1081.1 L1138.6 1082 L1139.2 1076.1 L1139.8 1066 L1140.5 1055 L1141.2 1044.8 L1141.9 1033.9 L1142.6 1021 L1143.3 1004.4 L1143.9 985.9 L1144.5 970 L1145 956.9 L1145.3 946.4 L1145.7 942.6 L1146.1 949.3 L1146.5 962.6 L1146.8 975 L1147.1 986 L1147.4 996 L1147.7 999 L1148.2 990.7 L1148.7 975.3 L1149.2 960 L1149.7 943.1 L1150.2 926.3 L1150.7 921.4 L1151.3 936.7 L1151.9 963.8 L1152.5 990 L1153.2 1012.9 L1154 1034.9 L1154.7 1049.7 L1155.3 1052.9 L1155.9 1049 L1156.5 1045 L1157.1 1042.4 L1157.7 1039.7 L1158.4 1039.6 L1159.1 1044.1 L1159.8 1051.3 L1160.5 1058 L1161.2 1063.3 L1162 1068.1 L1162.8 1072 L1163.8 1074.8 L1164.9 1076.7 L1166 1078 L1167 1079 L1168 1079.4 L1169 1079 L1169.9 1077.1 L1170.7 1074.3 L1171.5 1072 L1172.3 1070.4 L1173.2 1069.2 L1174 1069 L1174.8 1070.4 L1175.7 1072.9 L1176.5 1075 L1177.3 1076.6 L1178.1 1077.8 L1179 1078 L1179.9 1076.9 L1180.9 1074.8 L1182 1072 L1183.3 1067.7 L1184.7 1062.8 L1186 1060 L1187 1060.9 L1187.8 1064 L1188.5 1067 L1189.1 1069.6 L1189.6 1072.2 L1190 1074" fill="none" stroke="#1f6fdc" stroke-width="3" stroke-linejoin="round"/>
<path d="M898 1109 L898.7 1104 L899.8 1096.8 L901 1090 L902.3 1083.7 L903.7 1077.7 L905 1074 L905.9 1073.9 L906.7 1076.1 L907.5 1078 L908.3 1078.9 L909.1 1079.6 L910 1080 L911 1079.9 L912 1079.4 L913 1079 L914 1079.3 L914.9 1079.5 L916 1078 L917.2 1073.6 L918.6 1067.4 L920 1061 L921.4 1054.8 L922.9 1048.3 L924.4 1041.6 L925.9 1034.5 L927.5 1027.1 L929 1020 L930.5 1012.8 L932.1 1005.8 L933.5 1001 L934.7 999.6 L935.9 1000.2 L937 1001 L938.3 1001.2 L939.5 1001.5 L940.6 1002 L941.4 1002.9 L941.9 1004 L942.5 1005 L943.1 1005.9 L943.8 1006.7 L944.6 1007 L945.7 1006.3 L946.9 1005 L948 1004 L948.8 1003.6 L949.4 1003.5 L950 1003 L950.6 1001.4 L951.2 999.5 L951.7 999 L952.1 1001 L952.6 1004.5 L953 1008 L953.5 1011.4 L954 1014.9 L954.7 1017 L955.5 1016.9 L956.5 1015.4 L957.5 1014 L958.6 1013 L959.8 1012 L960.8 1012 L961.5 1013.5 L961.9 1015.9 L962.5 1018 L963.2 1019.1 L963.9 1019.8 L964.8 1021 L966.1 1023 L967.5 1025.5 L969 1028 L970.3 1030.3 L971.6 1032.8 L973 1035.6 L974.6 1039.1 L976.3 1043.1 L978 1047 L979.6 1051 L981.3 1054.9 L983 1057.8 L984.9 1058.9 L987 1059 L989 1059 L991.1 1059.2 L993.1 1059.4 L995 1060 L996.5 1061.4 L997.7 1063.2 L999 1065 L1000.3 1066.6 L1001.6 1068.2 L1003 1070 L1004.6 1072.2 L1006.3 1074.6 L1008 1077 L1009.6 1079.4 L1011.2 1081.7 L1013 1084 L1015.2 1086.1 L1017.6 1088.2 L1020 1090 L1022.5 1091.6 L1025.1 1093 L1027.5 1094 L1029.7 1094.6 L1031.8 1094.8 L1034 1095 L1036.6 1095.6 L1039.3 1096.2 L1041.6 1096 L1043.1 1094.9 L1044.1 1092.9 L1045 1090 L1046 1085.6 L1047.1 1080.1 L1048 1075 L1048.9 1070.5 L1049.7 1066.4 L1050.5 1063 L1051.3 1060.2 L1052 1058.2 L1052.7 1057.8 L1053.4 1059.6 L1054.2 1063 L1055 1067 L1055.9 1071.7 L1056.8 1077.1 L1057.8 1082 L1058.9 1086.2 L1059.9 1089.9 L1061 1093 L1061.9 1095.1 L1062.8 1096.5 L1063.8 1098 L1065 1100 L1066.4 1102.1 L1068 1104 L1069.9 1105.6 L1071.9 1107 L1074 1108 L1076.1 1108.4 L1078.1 1108.4 L1080 1108 L1081.6 1106.9 L1082.9 1105.4 L1084 1104 L1084.8 1102.7 L1085.4 1101.4 L1086 1101 L1086.6 1101.8 L1087.2 1103.4 L1088 1105 L1089.3 1106.3 L1090.9 1107.6 L1092 1108.5 L1092 1109.3 L898 1109.3 Z" fill="#5cbd86" fill-opacity="0.9" stroke="#4cb97a" stroke-width="2"/>
<path d="M889 982 L889.3 977.1 L889.7 970 L890.3 962.2 L891 955 L892 948.6 L893.3 942.3 L894.6 936.3 L895.8 930.7 L896.8 925.5 L897.8 920.7 L898.8 916.2 L900 912 L901.4 908.1 L902.9 904.5 L904.5 901.2 L906 898 L907.5 894.9 L909.1 892 L910.6 889.3 L912 887 L913.3 885.2 L914.6 883.9 L915.8 882.6 L917 881 L918.1 879.1 L919.1 877.2 L920.1 874.8 L921 872 L921.8 868.5 L922.6 864.5 L923.3 860.1 L924 855.5 L924.8 850.6 L925.6 845.3 L926.3 840 L927 835 L927.5 830.6 L927.9 826.7 L928.3 822.6 L928.7 818 L929.1 812.7 L929.6 806.9 L930 801 L930.5 795 L931 788.8 L931.5 782.4 L931.9 776.3 L932.4 771 L932.8 766.6 L933.2 762.8 L933.6 759.6 L934 757 L934.3 755.1 L934.6 753.9 L934.9 753.2 L935.2 753 L935.5 753 L935.8 753.3 L936.1 754.5 L936.5 757 L937 761.2 L937.6 766.8 L938.3 773.2 L939 780 L939.7 787.4 L940.5 795.6 L941.2 804 L942 812 L942.7 819.5 L943.5 826.7 L944.2 833.8 L945 841 L945.9 848.6 L946.9 856.4 L947.9 863.7 L948.7 870 L949.3 874.8 L949.9 878.7 L950.4 881.9 L951 885 L951.8 888.2 L952.7 891.2 L953.7 893.7 L954.5 895.4 L955.2 896.2 L955.8 896.3 L956.4 895.8 L957 895 L957.7 893.6 L958.4 891.6 L959.2 889.6 L960 888 L960.9 887 L961.8 886.3 L962.7 886 L963.5 886 L964.2 886.3 L964.8 887 L965.4 888.2 L966 890 L966.7 892.6 L967.5 895.9 L968.3 899.8 L969 904 L969.7 908.6 L970.3 913.8 L970.9 919.3 L971.5 925 L972.1 931.2 L972.7 938 L973.3 944.6 L974 950.7 L974.7 956.1 L975.4 961 L976.2 965.6 L977 970 L977.9 974.2 L978.9 978.3 L980 981.9 L981 985 L982 987.4 L983 989.2 L984 990.6 L985 992 L986 993.4 L987.1 994.7 L988.1 995.6 L989 996 L989.8 995.5 L990.6 994.4 L991.3 993 L992 992 L992.7 991.2 L993.3 990.5 L993.9 990 L994.5 990 L995.1 990.5 L995.7 991.4 L996.3 992.6 L997 994 L997.9 995.3 L998.9 996.6 L1000 998.3 L1001 1001 L1002 1004.8 L1003 1009.6 L1004 1014.8 L1005 1020 L1006 1025.5 L1007 1031.4 L1008 1037 L1009 1041.6 L1010 1044.9 L1011 1047.2 L1012 1049.1 L1013 1051 L1014 1052.9 L1014.9 1054.5 L1015.9 1056.1 L1017 1057.8 L1018.2 1059.6 L1019.4 1061.4 L1020.7 1063.3 L1022 1065 L1023.2 1066.6 L1024.4 1068.1 L1025.6 1069.5 L1027 1071 L1028.6 1072.7 L1030.3 1074.5 L1032 1076.1 L1033.5 1077 L1034.8 1077.2 L1035.9 1076.8 L1037 1076 L1038 1075 L1039 1074 L1039.9 1072.8 L1040.7 1071 L1041.6 1068 L1042.5 1063.9 L1043.3 1058.8 L1044.1 1052.6 L1045 1045 L1045.9 1034.8 L1046.9 1022.6 L1047.9 1010.6 L1048.7 1001 L1049.4 994.6 L1050 990.1 L1050.5 986.8 L1051 984 L1051.5 981.7 L1051.9 980.1 L1052.3 979.3 L1052.7 979 L1053.1 979.3 L1053.6 980.1 L1054 981.7 L1054.5 984 L1055 987 L1055.6 990.7 L1056.2 995.3 L1056.8 1001 L1057.5 1008.5 L1058.4 1017.4 L1059.2 1026.6 L1060 1035 L1060.7 1042.4 L1061.4 1049.3 L1062.1 1055.7 L1062.8 1061.8 L1063.6 1067.5 L1064.4 1072.8 L1065.2 1077.7 L1066 1082 L1066.7 1085.8 L1067.4 1089 L1068.1 1091.8 L1068.9 1094 L1069.8 1095.6 L1070.8 1096.6 L1071.9 1097.3 L1073 1098 L1074.1 1098.6 L1075.3 1099.1 L1076.6 1099.5 L1078 1100 L1079.6 1100.7 L1081.4 1101.5 L1083.2 1102.3 L1085 1103 L1086.5 1103.6 L1087.8 1104.1 L1089.5 1104.6 L1092 1105 L1095.2 1105.3 L1098.9 1105.6 L1103.7 1105.8 L1110 1106 L1118.5 1106.1 L1128.7 1106.1 L1139.6 1106.1 L1150 1106 L1160.7 1105.9 L1172 1105.8 L1182 1105.6 L1189 1105.5" fill="none" stroke="#e8413f" stroke-width="3" stroke-linejoin="round"/>
<line x1="887" y1="653.7" x2="1192" y2="653.7" stroke="#222" stroke-width="2.2"/>
<line x1="888" y1="1109.3" x2="1191" y2="1109.3" stroke="#222" stroke-width="2.6"/>
<line x1="888" y1="653.7" x2="888" y2="1109.3" stroke="#e8413f" stroke-width="2"/>
<line x1="1191" y1="653.7" x2="1191" y2="1109.3" stroke="#1f6fdc" stroke-width="2"/>
<line x1="888" y1="684.2" x2="894" y2="684.2" stroke="#e8413f" stroke-width="2"/>
<line x1="888" y1="714.5" x2="891" y2="714.5" stroke="#e8413f" stroke-width="2"/>
<line x1="888" y1="744.8" x2="894" y2="744.8" stroke="#e8413f" stroke-width="2"/>
<line x1="888" y1="775.1" x2="891" y2="775.1" stroke="#e8413f" stroke-width="2"/>
<line x1="888" y1="805.4" x2="894" y2="805.4" stroke="#e8413f" stroke-width="2"/>
<line x1="888" y1="835.7" x2="891" y2="835.7" stroke="#e8413f" stroke-width="2"/>
<line x1="888" y1="866" x2="894" y2="866" stroke="#e8413f" stroke-width="2"/>
<line x1="888" y1="896.3" x2="891" y2="896.3" stroke="#e8413f" stroke-width="2"/>
<line x1="888" y1="926.6" x2="894" y2="926.6" stroke="#e8413f" stroke-width="2"/>
<line x1="888" y1="956.9" x2="891" y2="956.9" stroke="#e8413f" stroke-width="2"/>
<line x1="888" y1="987.2" x2="894" y2="987.2" stroke="#e8413f" stroke-width="2"/>
<line x1="888" y1="1017.5" x2="891" y2="1017.5" stroke="#e8413f" stroke-width="2"/>
<line x1="888" y1="1047.8" x2="894" y2="1047.8" stroke="#e8413f" stroke-width="2"/>
<line x1="888" y1="1078.1" x2="891" y2="1078.1" stroke="#e8413f" stroke-width="2"/>
<line x1="1191" y1="688.6" x2="1186" y2="688.6" stroke="#1f6fdc" stroke-width="2"/>
<line x1="1191" y1="723.6" x2="1188.5" y2="723.6" stroke="#1f6fdc" stroke-width="2"/>
<line x1="1191" y1="758.6" x2="1186" y2="758.6" stroke="#1f6fdc" stroke-width="2"/>
<line x1="1191" y1="793.6" x2="1188.5" y2="793.6" stroke="#1f6fdc" stroke-width="2"/>
<line x1="1191" y1="828.6" x2="1186" y2="828.6" stroke="#1f6fdc" stroke-width="2"/>
<line x1="1191" y1="863.6" x2="1188.5" y2="863.6" stroke="#1f6fdc" stroke-width="2"/>
<line x1="1191" y1="898.6" x2="1186" y2="898.6" stroke="#1f6fdc" stroke-width="2"/>
<line x1="1191" y1="933.6" x2="1188.5" y2="933.6" stroke="#1f6fdc" stroke-width="2"/>
<line x1="1191" y1="968.6" x2="1186" y2="968.6" stroke="#1f6fdc" stroke-width="2"/>
<line x1="1191" y1="1003.6" x2="1188.5" y2="1003.6" stroke="#1f6fdc" stroke-width="2"/>
<line x1="1191" y1="1038.6" x2="1186" y2="1038.6" stroke="#1f6fdc" stroke-width="2"/>
<line x1="1191" y1="1073.6" x2="1188.5" y2="1073.6" stroke="#1f6fdc" stroke-width="2"/>
<line x1="925.5" y1="1109.3" x2="925.5" y2="1104.3" stroke="#222" stroke-width="2"/>
<line x1="963.3" y1="1109.3" x2="963.3" y2="1104.3" stroke="#222" stroke-width="2"/>
<line x1="1001.1" y1="1109.3" x2="1001.1" y2="1104.3" stroke="#222" stroke-width="2"/>
<line x1="1038.9" y1="1109.3" x2="1038.9" y2="1104.3" stroke="#222" stroke-width="2"/>
<line x1="1076.7" y1="1109.3" x2="1076.7" y2="1104.3" stroke="#222" stroke-width="2"/>
<line x1="1114.5" y1="1109.3" x2="1114.5" y2="1104.3" stroke="#222" stroke-width="2"/>
<line x1="1152.3" y1="1109.3" x2="1152.3" y2="1104.3" stroke="#222" stroke-width="2"/>
<text x="887.7" y="1142.5" font-size="30.5" fill="#000" text-anchor="middle">300</text>
<text x="963.3" y="1142.5" font-size="30.5" fill="#000" text-anchor="middle">500</text>
<text x="1038.9" y="1142.5" font-size="30.5" fill="#000" text-anchor="middle">700</text>
<text x="1114.5" y="1142.5" font-size="30.5" fill="#000" text-anchor="middle">900</text>
<text x="1190.1" y="1142.5" font-size="30.5" fill="#000" text-anchor="middle">1100</text>
<text x="1040" y="1178.5" font-size="30.5" fill="#000" text-anchor="middle">Wavelength (nm)</text>
<text x="866" y="881" font-size="30.5" fill="#e8413f" text-anchor="middle" transform="rotate(-90 866 881)">1-Transmission</text>
<text x="1226" y="881" font-size="30.5" fill="#1f6fdc" text-anchor="middle" transform="rotate(-90 1226 881)">Irradiance of lamp (arb. units.)</text>
<line x1="904.3" y1="663.6" x2="904.3" y2="694.3" stroke="#e8413f" stroke-width="1.6"/>
<line x1="901" y1="663.6" x2="907.6" y2="663.6" stroke="#e8413f" stroke-width="1.6"/>
<line x1="901" y1="694.3" x2="907.6" y2="694.3" stroke="#e8413f" stroke-width="1.6"/>
<text x="918.5" y="687.4" font-size="27" fill="#e8413f" text-anchor="start">0.1 %</text>
<line x1="935" y1="730" x2="935" y2="837" stroke="#111" stroke-width="2" stroke-dasharray="4.5 3"/>
<text x="935" y="722.4" font-size="23" fill="#000" text-anchor="middle">D</text>
<line x1="963.6" y1="827" x2="963.6" y2="935" stroke="#111" stroke-width="2" stroke-dasharray="4.5 3"/>
<text x="963.6" y="820" font-size="23" fill="#000" text-anchor="middle">C</text>
<line x1="995.6" y1="876.6" x2="995.6" y2="1015" stroke="#111" stroke-width="2" stroke-dasharray="4.5 3"/>
<text x="995.6" y="868" font-size="23" fill="#000" text-anchor="middle">B</text>
<line x1="1052.3" y1="898.7" x2="1052.3" y2="1036" stroke="#111" stroke-width="2" stroke-dasharray="4.5 3"/>
<text x="1052.3" y="892" font-size="23" fill="#000" text-anchor="middle">A</text>
<line x1="929" y1="787.5" x2="905" y2="787.5" stroke="#e8413f" stroke-width="2"/>
<path d="M898 787.5 L908.5 782.5 L908.5 792.5 Z" fill="#e8413f" stroke="none" stroke-width="0"/>
<line x1="1088" y1="758.8" x2="1120" y2="758.8" stroke="#1f6fdc" stroke-width="2"/>
<path d="M1128 758.8 L1117.5 754 L1117.5 763.6 Z" fill="#1f6fdc" stroke="none" stroke-width="0"/>
<text x="922" y="1057" font-size="23" fill="#000" text-anchor="start">×100</text>
<line x1="977.5" y1="1049.2" x2="999" y2="1049.2" stroke="#3cb371" stroke-width="2"/>
<path d="M1006 1049.2 L995 1044.5 L995 1053.9 Z" fill="#3cb371" stroke="none" stroke-width="0"/>
<path d="M1344.5 813.6 L1346.5 813.5 L1348.5 813.4 L1350.5 813.2 L1352.5 812.9 L1354.5 812.5 L1356.5 812 L1358.5 811.4 L1360.5 810.5 L1362.5 809.4 L1364.5 808.1 L1366.5 806.3 L1368.5 804.2 L1370.5 801.7 L1372.5 798.7 L1374.5 795.2 L1376.5 791.1 L1378.5 786.5 L1380.5 781.5 L1382.5 776 L1384.5 770.1 L1386.5 764 L1388.5 757.7 L1390.5 751.5 L1392.5 745.5 L1394.5 739.9 L1396.5 734.8 L1398.5 730.5 L1400.5 727.2 L1402.5 724.8 L1404.5 723.6 L1406.5 723.5 L1408.5 724.6 L1410.5 726.9 L1412.5 730.2 L1414.5 734.4 L1416.5 739.3 L1418.5 744.9 L1420.5 750.9 L1422.5 757.1 L1424.5 763.3 L1426.5 769.5 L1428.5 775.4 L1430.5 780.9 L1432.5 786.1 L1434.5 790.7 L1436.5 794.8 L1438.5 798.4 L1440.5 801.4 L1442.5 804 L1444.5 806.2 L1446.5 807.9 L1448.5 809.3 L1450.5 810.4 L1452.5 811.3 L1454.5 812 L1456.5 812.5 L1458.5 812.9 L1460.5 813.1 L1462.5 813.3 L1464.5 813.5 L1466.5 813.6 L1466.5 813.8 L1344.5 813.8 Z" fill="rgba(0,0,255,0.5)"/>
<path d="M1344.5 813.6 L1346.5 813.5 L1348.5 813.4 L1350.5 813.2 L1352.5 812.9 L1354.5 812.5 L1356.5 812 L1358.5 811.4 L1360.5 810.5 L1362.5 809.4 L1364.5 808.1 L1366.5 806.3 L1368.5 804.2 L1370.5 801.7 L1372.5 798.7 L1374.5 795.2 L1376.5 791.1 L1378.5 786.5 L1380.5 781.5 L1382.5 776 L1384.5 770.1 L1386.5 764 L1388.5 757.7 L1390.5 751.5 L1392.5 745.5 L1394.5 739.9 L1396.5 734.8 L1398.5 730.5 L1400.5 727.2 L1402.5 724.8 L1404.5 723.6 L1406.5 723.5 L1408.5 724.6 L1410.5 726.9 L1412.5 730.2 L1414.5 734.4 L1416.5 739.3 L1418.5 744.9 L1420.5 750.9 L1422.5 757.1 L1424.5 763.3 L1426.5 769.5 L1428.5 775.4 L1430.5 780.9 L1432.5 786.1 L1434.5 790.7 L1436.5 794.8 L1438.5 798.4 L1440.5 801.4 L1442.5 804 L1444.5 806.2 L1446.5 807.9 L1448.5 809.3 L1450.5 810.4 L1452.5 811.3 L1454.5 812 L1456.5 812.5 L1458.5 812.9 L1460.5 813.1 L1462.5 813.3 L1464.5 813.5 L1466.5 813.6" fill="none" stroke="#0000ff" stroke-width="2"/>
<path d="M1318.5 813.2 L1320.5 813.2 L1322.5 813.1 L1324.5 813 L1326.5 812.9 L1328.5 812.7 L1330.5 812.6 L1332.5 812.4 L1334.5 812.2 L1336.5 812 L1338.5 811.8 L1340.5 811.6 L1342.5 811.3 L1344.5 811 L1346.5 810.7 L1348.5 810.4 L1350.5 810 L1352.5 809.6 L1354.5 809.2 L1356.5 808.7 L1358.5 808.2 L1360.5 807.7 L1362.5 807.2 L1364.5 806.6 L1366.5 806 L1368.5 805.3 L1370.5 804.6 L1372.5 803.9 L1374.5 803.2 L1376.5 802.4 L1378.5 801.6 L1380.5 800.8 L1382.5 800 L1384.5 799.1 L1386.5 798.3 L1388.5 797.4 L1390.5 796.6 L1392.5 795.7 L1394.5 794.8 L1396.5 793.9 L1398.5 793.1 L1400.5 792.3 L1402.5 791.5 L1404.5 790.7 L1406.5 789.9 L1408.5 789.2 L1410.5 788.5 L1412.5 787.9 L1414.5 787.3 L1416.5 786.8 L1418.5 786.4 L1420.5 786 L1422.5 785.6 L1424.5 785.4 L1426.5 785.2 L1428.5 785.1 L1430.5 785 L1432.5 785 L1434.5 785.1 L1436.5 785.3 L1438.5 785.5 L1440.5 785.8 L1442.5 786.2 L1444.5 786.6 L1446.5 787.1 L1448.5 787.6 L1450.5 788.2 L1452.5 788.9 L1454.5 789.6 L1456.5 790.3 L1458.5 791.1 L1460.5 791.9 L1462.5 792.7 L1464.5 793.5 L1466.5 794.4 L1468.5 795.2 L1470.5 796.1 L1472.5 797 L1474.5 797.9 L1476.5 798.7 L1478.5 799.6 L1480.5 800.4 L1482.5 801.2 L1484.5 802 L1486.5 802.8 L1488.5 803.6 L1490.5 804.3 L1492.5 805 L1494.5 805.6 L1496.5 806.3 L1498.5 806.9 L1500.5 807.4 L1502.5 808 L1504.5 808.5 L1506.5 808.9 L1508.5 809.4 L1510.5 809.8 L1512.5 810.2 L1514.5 810.5 L1516.5 810.9 L1518.5 811.2 L1520.5 811.4 L1522.5 811.7 L1524.5 811.9 L1526.5 812.1 L1528.5 812.3 L1530.5 812.5 L1532.5 812.6 L1534.5 812.8 L1536.5 812.9 L1538.5 813 L1540.5 813.1 L1542.5 813.2 L1544.5 813.3 L1546.5 813.4 L1548.5 813.4 L1550.5 813.5 L1552.5 813.5 L1554.5 813.6 L1556.5 813.6 L1556.5 813.8 L1318.5 813.8 Z" fill="rgba(255,0,0,0.5)"/>
<path d="M1318.5 813.2 L1320.5 813.2 L1322.5 813.1 L1324.5 813 L1326.5 812.9 L1328.5 812.7 L1330.5 812.6 L1332.5 812.4 L1334.5 812.2 L1336.5 812 L1338.5 811.8 L1340.5 811.6 L1342.5 811.3 L1344.5 811 L1346.5 810.7 L1348.5 810.4 L1350.5 810 L1352.5 809.6 L1354.5 809.2 L1356.5 808.7 L1358.5 808.2 L1360.5 807.7 L1362.5 807.2 L1364.5 806.6 L1366.5 806 L1368.5 805.3 L1370.5 804.6 L1372.5 803.9 L1374.5 803.2 L1376.5 802.4 L1378.5 801.6 L1380.5 800.8 L1382.5 800 L1384.5 799.1 L1386.5 798.3 L1388.5 797.4 L1390.5 796.6 L1392.5 795.7 L1394.5 794.8 L1396.5 793.9 L1398.5 793.1 L1400.5 792.3 L1402.5 791.5 L1404.5 790.7 L1406.5 789.9 L1408.5 789.2 L1410.5 788.5 L1412.5 787.9 L1414.5 787.3 L1416.5 786.8 L1418.5 786.4 L1420.5 786 L1422.5 785.6 L1424.5 785.4 L1426.5 785.2 L1428.5 785.1 L1430.5 785 L1432.5 785 L1434.5 785.1 L1436.5 785.3 L1438.5 785.5 L1440.5 785.8 L1442.5 786.2 L1444.5 786.6 L1446.5 787.1 L1448.5 787.6 L1450.5 788.2 L1452.5 788.9 L1454.5 789.6 L1456.5 790.3 L1458.5 791.1 L1460.5 791.9 L1462.5 792.7 L1464.5 793.5 L1466.5 794.4 L1468.5 795.2 L1470.5 796.1 L1472.5 797 L1474.5 797.9 L1476.5 798.7 L1478.5 799.6 L1480.5 800.4 L1482.5 801.2 L1484.5 802 L1486.5 802.8 L1488.5 803.6 L1490.5 804.3 L1492.5 805 L1494.5 805.6 L1496.5 806.3 L1498.5 806.9 L1500.5 807.4 L1502.5 808 L1504.5 808.5 L1506.5 808.9 L1508.5 809.4 L1510.5 809.8 L1512.5 810.2 L1514.5 810.5 L1516.5 810.9 L1518.5 811.2 L1520.5 811.4 L1522.5 811.7 L1524.5 811.9 L1526.5 812.1 L1528.5 812.3 L1530.5 812.5 L1532.5 812.6 L1534.5 812.8 L1536.5 812.9 L1538.5 813 L1540.5 813.1 L1542.5 813.2 L1544.5 813.3 L1546.5 813.4 L1548.5 813.4 L1550.5 813.5 L1552.5 813.5 L1554.5 813.6 L1556.5 813.6" fill="none" stroke="#ff0000" stroke-width="2"/>
<path d="M1380.5 813.6 L1382.5 813.6 L1384.5 813.5 L1386.5 813.5 L1388.5 813.4 L1390.5 813.4 L1392.5 813.3 L1394.5 813.3 L1396.5 813.2 L1398.5 813.1 L1400.5 813.1 L1402.5 813 L1404.5 812.9 L1406.5 812.8 L1408.5 812.7 L1410.5 812.6 L1412.5 812.4 L1414.5 812.3 L1416.5 812.1 L1418.5 812 L1420.5 811.8 L1422.5 811.6 L1424.5 811.4 L1426.5 811.2 L1428.5 811 L1430.5 810.8 L1432.5 810.6 L1434.5 810.4 L1436.5 810.1 L1438.5 809.9 L1440.5 809.6 L1442.5 809.4 L1444.5 809.1 L1446.5 808.8 L1448.5 808.5 L1450.5 808.3 L1452.5 808 L1454.5 807.7 L1456.5 807.5 L1458.5 807.2 L1460.5 806.9 L1462.5 806.7 L1464.5 806.5 L1466.5 806.2 L1468.5 806 L1470.5 805.8 L1472.5 805.6 L1474.5 805.5 L1476.5 805.3 L1478.5 805.2 L1480.5 805.1 L1482.5 805 L1484.5 804.9 L1486.5 804.8 L1488.5 804.8 L1490.5 804.8 L1492.5 804.8 L1494.5 804.9 L1496.5 804.9 L1498.5 805 L1500.5 805.1 L1502.5 805.2 L1504.5 805.4 L1506.5 805.5 L1508.5 805.7 L1510.5 805.9 L1512.5 806.1 L1514.5 806.3 L1516.5 806.6 L1518.5 806.8 L1520.5 807.1 L1522.5 807.3 L1524.5 807.6 L1526.5 807.9 L1528.5 808.1 L1530.5 808.4 L1532.5 808.7 L1534.5 809 L1536.5 809.2 L1538.5 809.5 L1540.5 809.7 L1542.5 810 L1544.5 810.2 L1546.5 810.5 L1548.5 810.7 L1550.5 810.9 L1552.5 811.1 L1554.5 811.3 L1556.5 811.5 L1558.5 811.7 L1560.5 811.9 L1562.5 812.1 L1564.5 812.2 L1566.5 812.4 L1568.5 812.5 L1570.5 812.6 L1572.5 812.7 L1574.5 812.8 L1576.5 812.9 L1578.5 813 L1580.5 813.1 L1582.5 813.2 L1584.5 813.2 L1586.5 813.3 L1588.5 813.4 L1588.5 813.8 L1380.5 813.8 Z" fill="rgba(0,128,0,0.5)"/>
<path d="M1380.5 813.6 L1382.5 813.6 L1384.5 813.5 L1386.5 813.5 L1388.5 813.4 L1390.5 813.4 L1392.5 813.3 L1394.5 813.3 L1396.5 813.2 L1398.5 813.1 L1400.5 813.1 L1402.5 813 L1404.5 812.9 L1406.5 812.8 L1408.5 812.7 L1410.5 812.6 L1412.5 812.4 L1414.5 812.3 L1416.5 812.1 L1418.5 812 L1420.5 811.8 L1422.5 811.6 L1424.5 811.4 L1426.5 811.2 L1428.5 811 L1430.5 810.8 L1432.5 810.6 L1434.5 810.4 L1436.5 810.1 L1438.5 809.9 L1440.5 809.6 L1442.5 809.4 L1444.5 809.1 L1446.5 808.8 L1448.5 808.5 L1450.5 808.3 L1452.5 808 L1454.5 807.7 L1456.5 807.5 L1458.5 807.2 L1460.5 806.9 L1462.5 806.7 L1464.5 806.5 L1466.5 806.2 L1468.5 806 L1470.5 805.8 L1472.5 805.6 L1474.5 805.5 L1476.5 805.3 L1478.5 805.2 L1480.5 805.1 L1482.5 805 L1484.5 804.9 L1486.5 804.8 L1488.5 804.8 L1490.5 804.8 L1492.5 804.8 L1494.5 804.9 L1496.5 804.9 L1498.5 805 L1500.5 805.1 L1502.5 805.2 L1504.5 805.4 L1506.5 805.5 L1508.5 805.7 L1510.5 805.9 L1512.5 806.1 L1514.5 806.3 L1516.5 806.6 L1518.5 806.8 L1520.5 807.1 L1522.5 807.3 L1524.5 807.6 L1526.5 807.9 L1528.5 808.1 L1530.5 808.4 L1532.5 808.7 L1534.5 809 L1536.5 809.2 L1538.5 809.5 L1540.5 809.7 L1542.5 810 L1544.5 810.2 L1546.5 810.5 L1548.5 810.7 L1550.5 810.9 L1552.5 811.1 L1554.5 811.3 L1556.5 811.5 L1558.5 811.7 L1560.5 811.9 L1562.5 812.1 L1564.5 812.2 L1566.5 812.4 L1568.5 812.5 L1570.5 812.6 L1572.5 812.7 L1574.5 812.8 L1576.5 812.9 L1578.5 813 L1580.5 813.1 L1582.5 813.2 L1584.5 813.2 L1586.5 813.3 L1588.5 813.4" fill="none" stroke="#008000" stroke-width="2"/>
<path d="M1318.5 813 L1320.5 813.5 L1322.5 815.4 L1324.5 812.8 L1326.5 812.9 L1328.5 813.2 L1330.5 810.8 L1332.5 812.5 L1334.5 812.9 L1336.5 813.6 L1338.5 809.5 L1340.5 810.4 L1342.5 808.9 L1344.5 812.5 L1346.5 811.5 L1348.5 807.3 L1350.5 812 L1352.5 811.3 L1354.5 808.7 L1356.5 807.6 L1358.5 803.9 L1360.5 801.7 L1362.5 802.9 L1364.5 798.3 L1366.5 796.7 L1368.5 794.2 L1370.5 789.8 L1372.5 788.5 L1374.5 784.1 L1376.5 781.5 L1378.5 774.3 L1380.5 769.1 L1382.5 761.9 L1384.5 756.1 L1386.5 747.9 L1388.5 739.7 L1390.5 736.6 L1392.5 729.7 L1394.5 722.3 L1396.5 715.6 L1398.5 708.1 L1400.5 703.4 L1402.5 700.5 L1404.5 697.1 L1406.5 700.1 L1408.5 698.4 L1410.5 702.3 L1412.5 702.3 L1414.5 709 L1416.5 712.7 L1418.5 712.9 L1420.5 719.4 L1422.5 729.1 L1424.5 732.4 L1426.5 741 L1428.5 743.3 L1430.5 746.8 L1432.5 754.8 L1434.5 760.1 L1436.5 761.3 L1438.5 763.8 L1440.5 768.3 L1442.5 774.5 L1444.5 775.7 L1446.5 774.1 L1448.5 776.5 L1450.5 777.1 L1452.5 778.1 L1454.5 783.3 L1456.5 780.8 L1458.5 783.9 L1460.5 784 L1462.5 783.4 L1464.5 787.2 L1466.5 784.5 L1468.5 788.1 L1470.5 785.9 L1472.5 788.3 L1474.5 787.9 L1476.5 788.9 L1478.5 793.6 L1480.5 793.3 L1482.5 791.3 L1484.5 795.3 L1486.5 792.2 L1488.5 794 L1490.5 797.3 L1492.5 796.8 L1494.5 794.4 L1496.5 800.1 L1498.5 796.5 L1500.5 797.4 L1502.5 800.9 L1504.5 799.1 L1506.5 799.5 L1508.5 798.9 L1510.5 799.6 L1512.5 803 L1514.5 801.6 L1516.5 804.2 L1518.5 803.5 L1520.5 804.5 L1522.5 807.8 L1524.5 805.6 L1526.5 806.6 L1528.5 808.7 L1530.5 805.3 L1532.5 805.6 L1534.5 810.2 L1536.5 810.1 L1538.5 807.3 L1540.5 807.3 L1542.5 810.7 L1544.5 812.2 L1546.5 808.3 L1548.5 812.8 L1550.5 812.7 L1552.5 811.4 L1554.5 810.7 L1556.5 809.1 L1558.5 809 L1560.5 814.3 L1562.5 810.5 L1564.5 813.2 L1566.5 810.9 L1568.5 814.2 L1570.5 813.1 L1572.5 811.5 L1574.5 811 L1576.5 814.1 L1578.5 810.6 L1580.5 811.6 L1582.5 813.5 L1584.5 815.2 L1586.5 813.9 L1588.5 812.1" fill="none" stroke="#111" stroke-width="1.6" stroke-dasharray="2 2"/>
<path d="M1318.5 813.2 L1320.5 813.2 L1322.5 813.1 L1324.5 813 L1326.5 812.8 L1328.5 812.7 L1330.5 812.6 L1332.5 812.4 L1334.5 812.2 L1336.5 812 L1338.5 811.7 L1340.5 811.5 L1342.5 811.2 L1344.5 810.8 L1346.5 810.4 L1348.5 809.9 L1350.5 809.3 L1352.5 808.7 L1354.5 807.9 L1356.5 806.9 L1358.5 805.8 L1360.5 804.4 L1362.5 802.7 L1364.5 800.8 L1366.5 798.4 L1368.5 795.7 L1370.5 792.4 L1372.5 788.7 L1374.5 784.4 L1376.5 779.6 L1378.5 774.2 L1380.5 768.3 L1382.5 761.9 L1384.5 755.2 L1386.5 748.1 L1388.5 741 L1390.5 733.8 L1392.5 726.9 L1394.5 720.4 L1396.5 714.4 L1398.5 709.2 L1400.5 704.9 L1402.5 701.6 L1404.5 699.5 L1406.5 698.6 L1408.5 698.9 L1410.5 700.4 L1412.5 702.9 L1414.5 706.4 L1416.5 710.7 L1418.5 715.7 L1420.5 721.1 L1422.5 726.8 L1424.5 732.6 L1426.5 738.3 L1428.5 743.9 L1430.5 749.2 L1432.5 754.1 L1434.5 758.6 L1436.5 762.6 L1438.5 766.1 L1440.5 769.2 L1442.5 771.9 L1444.5 774.2 L1446.5 776.2 L1448.5 777.9 L1450.5 779.3 L1452.5 780.6 L1454.5 781.7 L1456.5 782.6 L1458.5 783.5 L1460.5 784.3 L1462.5 785.1 L1464.5 785.9 L1466.5 786.6 L1468.5 787.3 L1470.5 788 L1472.5 788.7 L1474.5 789.5 L1476.5 790.2 L1478.5 790.9 L1480.5 791.6 L1482.5 792.4 L1484.5 793.1 L1486.5 793.8 L1488.5 794.6 L1490.5 795.3 L1492.5 796 L1494.5 796.7 L1496.5 797.4 L1498.5 798.1 L1500.5 798.7 L1502.5 799.4 L1504.5 800 L1506.5 800.7 L1508.5 801.3 L1510.5 801.9 L1512.5 802.5 L1514.5 803.1 L1516.5 803.6 L1518.5 804.2 L1520.5 804.7 L1522.5 805.2 L1524.5 805.7 L1526.5 806.2 L1528.5 806.7 L1530.5 807.1 L1532.5 807.5 L1534.5 807.9 L1536.5 808.3 L1538.5 808.7 L1540.5 809.1 L1542.5 809.4 L1544.5 809.7 L1546.5 810 L1548.5 810.3 L1550.5 810.6 L1552.5 810.9 L1554.5 811.1 L1556.5 811.3 L1558.5 811.5 L1560.5 811.7 L1562.5 811.9 L1564.5 812.1 L1566.5 812.3 L1568.5 812.4 L1570.5 812.5 L1572.5 812.7 L1574.5 812.8 L1576.5 812.9 L1578.5 813 L1580.5 813.1 L1582.5 813.2 L1584.5 813.2 L1586.5 813.3 L1588.5 813.4" fill="none" stroke="#3cb371" stroke-width="4.5" stroke-linejoin="round"/>
<line x1="1317.5" y1="814.3" x2="1589.6" y2="814.3" stroke="#222" stroke-width="1.2"/>
<path d="M1318.5 947.9 L1320.5 947.7 L1322.5 947.4 L1324.5 947 L1326.5 946.5 L1328.5 945.8 L1330.5 945 L1332.5 944 L1334.5 942.8 L1336.5 941.3 L1338.5 939.5 L1340.5 937.4 L1342.5 935 L1344.5 932.2 L1346.5 929.1 L1348.5 925.5 L1350.5 921.6 L1352.5 917.4 L1354.5 912.8 L1356.5 908 L1358.5 902.9 L1360.5 897.8 L1362.5 892.7 L1364.5 887.6 L1366.5 882.8 L1368.5 878.2 L1370.5 874.2 L1372.5 870.6 L1374.5 867.7 L1376.5 865.5 L1378.5 864.2 L1380.5 863.6 L1382.5 863.9 L1384.5 865 L1386.5 867 L1388.5 869.7 L1390.5 873 L1392.5 877 L1394.5 881.4 L1396.5 886.1 L1398.5 891.1 L1400.5 896.3 L1402.5 901.4 L1404.5 906.5 L1406.5 911.4 L1408.5 916 L1410.5 920.4 L1412.5 924.4 L1414.5 928 L1416.5 931.3 L1418.5 934.2 L1420.5 936.7 L1422.5 938.9 L1424.5 940.8 L1426.5 942.4 L1428.5 943.7 L1430.5 944.7 L1432.5 945.6 L1434.5 946.3 L1436.5 946.8 L1438.5 947.3 L1440.5 947.6 L1442.5 947.9 L1444.5 948.1 L1446.5 948.2 L1448.5 948.3 L1448.5 948.6 L1318.5 948.6 Z" fill="rgba(0,0,255,0.5)"/>
<path d="M1318.5 947.9 L1320.5 947.7 L1322.5 947.4 L1324.5 947 L1326.5 946.5 L1328.5 945.8 L1330.5 945 L1332.5 944 L1334.5 942.8 L1336.5 941.3 L1338.5 939.5 L1340.5 937.4 L1342.5 935 L1344.5 932.2 L1346.5 929.1 L1348.5 925.5 L1350.5 921.6 L1352.5 917.4 L1354.5 912.8 L1356.5 908 L1358.5 902.9 L1360.5 897.8 L1362.5 892.7 L1364.5 887.6 L1366.5 882.8 L1368.5 878.2 L1370.5 874.2 L1372.5 870.6 L1374.5 867.7 L1376.5 865.5 L1378.5 864.2 L1380.5 863.6 L1382.5 863.9 L1384.5 865 L1386.5 867 L1388.5 869.7 L1390.5 873 L1392.5 877 L1394.5 881.4 L1396.5 886.1 L1398.5 891.1 L1400.5 896.3 L1402.5 901.4 L1404.5 906.5 L1406.5 911.4 L1408.5 916 L1410.5 920.4 L1412.5 924.4 L1414.5 928 L1416.5 931.3 L1418.5 934.2 L1420.5 936.7 L1422.5 938.9 L1424.5 940.8 L1426.5 942.4 L1428.5 943.7 L1430.5 944.7 L1432.5 945.6 L1434.5 946.3 L1436.5 946.8 L1438.5 947.3 L1440.5 947.6 L1442.5 947.9 L1444.5 948.1 L1446.5 948.2 L1448.5 948.3" fill="none" stroke="#0000ff" stroke-width="2"/>
<path d="M1318.5 947 L1320.5 946.8 L1322.5 946.5 L1324.5 946.2 L1326.5 945.9 L1328.5 945.5 L1330.5 945.1 L1332.5 944.7 L1334.5 944.2 L1336.5 943.6 L1338.5 943 L1340.5 942.3 L1342.5 941.6 L1344.5 940.9 L1346.5 940 L1348.5 939.1 L1350.5 938.2 L1352.5 937.2 L1354.5 936.1 L1356.5 935 L1358.5 933.8 L1360.5 932.6 L1362.5 931.3 L1364.5 930 L1366.5 928.7 L1368.5 927.3 L1370.5 925.9 L1372.5 924.5 L1374.5 923 L1376.5 921.6 L1378.5 920.2 L1380.5 918.7 L1382.5 917.4 L1384.5 916 L1386.5 914.7 L1388.5 913.5 L1390.5 912.3 L1392.5 911.2 L1394.5 910.2 L1396.5 909.3 L1398.5 908.5 L1400.5 907.9 L1402.5 907.3 L1404.5 906.9 L1406.5 906.5 L1408.5 906.4 L1410.5 906.3 L1412.5 906.4 L1414.5 906.6 L1416.5 906.9 L1418.5 907.4 L1420.5 908 L1422.5 908.7 L1424.5 909.5 L1426.5 910.4 L1428.5 911.5 L1430.5 912.6 L1432.5 913.7 L1434.5 915 L1436.5 916.3 L1438.5 917.6 L1440.5 919 L1442.5 920.4 L1444.5 921.9 L1446.5 923.3 L1448.5 924.7 L1450.5 926.2 L1452.5 927.6 L1454.5 928.9 L1456.5 930.3 L1458.5 931.6 L1460.5 932.9 L1462.5 934.1 L1464.5 935.2 L1466.5 936.3 L1468.5 937.4 L1470.5 938.4 L1472.5 939.3 L1474.5 940.2 L1476.5 941 L1478.5 941.8 L1480.5 942.5 L1482.5 943.1 L1484.5 943.7 L1486.5 944.3 L1488.5 944.8 L1490.5 945.2 L1492.5 945.6 L1494.5 946 L1496.5 946.3 L1498.5 946.6 L1500.5 946.9 L1502.5 947.1 L1504.5 947.3 L1506.5 947.5 L1508.5 947.6 L1510.5 947.8 L1512.5 947.9 L1514.5 948 L1516.5 948.1 L1518.5 948.2 L1520.5 948.2 L1522.5 948.3 L1524.5 948.3 L1526.5 948.4 L1526.5 948.6 L1318.5 948.6 Z" fill="rgba(255,0,0,0.5)"/>
<path d="M1318.5 947 L1320.5 946.8 L1322.5 946.5 L1324.5 946.2 L1326.5 945.9 L1328.5 945.5 L1330.5 945.1 L1332.5 944.7 L1334.5 944.2 L1336.5 943.6 L1338.5 943 L1340.5 942.3 L1342.5 941.6 L1344.5 940.9 L1346.5 940 L1348.5 939.1 L1350.5 938.2 L1352.5 937.2 L1354.5 936.1 L1356.5 935 L1358.5 933.8 L1360.5 932.6 L1362.5 931.3 L1364.5 930 L1366.5 928.7 L1368.5 927.3 L1370.5 925.9 L1372.5 924.5 L1374.5 923 L1376.5 921.6 L1378.5 920.2 L1380.5 918.7 L1382.5 917.4 L1384.5 916 L1386.5 914.7 L1388.5 913.5 L1390.5 912.3 L1392.5 911.2 L1394.5 910.2 L1396.5 909.3 L1398.5 908.5 L1400.5 907.9 L1402.5 907.3 L1404.5 906.9 L1406.5 906.5 L1408.5 906.4 L1410.5 906.3 L1412.5 906.4 L1414.5 906.6 L1416.5 906.9 L1418.5 907.4 L1420.5 908 L1422.5 908.7 L1424.5 909.5 L1426.5 910.4 L1428.5 911.5 L1430.5 912.6 L1432.5 913.7 L1434.5 915 L1436.5 916.3 L1438.5 917.6 L1440.5 919 L1442.5 920.4 L1444.5 921.9 L1446.5 923.3 L1448.5 924.7 L1450.5 926.2 L1452.5 927.6 L1454.5 928.9 L1456.5 930.3 L1458.5 931.6 L1460.5 932.9 L1462.5 934.1 L1464.5 935.2 L1466.5 936.3 L1468.5 937.4 L1470.5 938.4 L1472.5 939.3 L1474.5 940.2 L1476.5 941 L1478.5 941.8 L1480.5 942.5 L1482.5 943.1 L1484.5 943.7 L1486.5 944.3 L1488.5 944.8 L1490.5 945.2 L1492.5 945.6 L1494.5 946 L1496.5 946.3 L1498.5 946.6 L1500.5 946.9 L1502.5 947.1 L1504.5 947.3 L1506.5 947.5 L1508.5 947.6 L1510.5 947.8 L1512.5 947.9 L1514.5 948 L1516.5 948.1 L1518.5 948.2 L1520.5 948.2 L1522.5 948.3 L1524.5 948.3 L1526.5 948.4" fill="none" stroke="#ff0000" stroke-width="2"/>
<path d="M1366.5 948.4 L1368.5 948.3 L1370.5 948.3 L1372.5 948.2 L1374.5 948.2 L1376.5 948.1 L1378.5 948 L1380.5 947.9 L1382.5 947.8 L1384.5 947.7 L1386.5 947.6 L1388.5 947.4 L1390.5 947.3 L1392.5 947.1 L1394.5 946.9 L1396.5 946.7 L1398.5 946.4 L1400.5 946.1 L1402.5 945.8 L1404.5 945.5 L1406.5 945.1 L1408.5 944.7 L1410.5 944.2 L1412.5 943.7 L1414.5 943.2 L1416.5 942.7 L1418.5 942.1 L1420.5 941.4 L1422.5 940.8 L1424.5 940 L1426.5 939.3 L1428.5 938.5 L1430.5 937.6 L1432.5 936.8 L1434.5 935.8 L1436.5 934.9 L1438.5 933.9 L1440.5 932.9 L1442.5 931.9 L1444.5 930.9 L1446.5 929.8 L1448.5 928.8 L1450.5 927.7 L1452.5 926.7 L1454.5 925.7 L1456.5 924.6 L1458.5 923.6 L1460.5 922.7 L1462.5 921.7 L1464.5 920.9 L1466.5 920 L1468.5 919.3 L1470.5 918.5 L1472.5 917.9 L1474.5 917.3 L1476.5 916.8 L1478.5 916.4 L1480.5 916.1 L1482.5 915.8 L1484.5 915.7 L1486.5 915.6 L1488.5 915.6 L1490.5 915.7 L1492.5 916 L1494.5 916.3 L1496.5 916.6 L1498.5 917.1 L1500.5 917.6 L1502.5 918.3 L1504.5 919 L1506.5 919.7 L1508.5 920.5 L1510.5 921.4 L1512.5 922.3 L1514.5 923.3 L1516.5 924.2 L1518.5 925.2 L1520.5 926.3 L1522.5 927.3 L1524.5 928.4 L1526.5 929.4 L1528.5 930.5 L1530.5 931.5 L1532.5 932.5 L1534.5 933.5 L1536.5 934.5 L1538.5 935.5 L1540.5 936.4 L1542.5 937.3 L1544.5 938.1 L1546.5 939 L1548.5 939.7 L1550.5 940.5 L1552.5 941.2 L1554.5 941.8 L1556.5 942.4 L1558.5 943 L1560.5 943.5 L1562.5 944 L1564.5 944.5 L1566.5 944.9 L1568.5 945.3 L1570.5 945.7 L1572.5 946 L1574.5 946.3 L1576.5 946.6 L1578.5 946.8 L1580.5 947 L1582.5 947.2 L1584.5 947.4 L1586.5 947.5 L1588.5 947.7 L1588.5 948.6 L1366.5 948.6 Z" fill="rgba(0,128,0,0.5)"/>
<path d="M1366.5 948.4 L1368.5 948.3 L1370.5 948.3 L1372.5 948.2 L1374.5 948.2 L1376.5 948.1 L1378.5 948 L1380.5 947.9 L1382.5 947.8 L1384.5 947.7 L1386.5 947.6 L1388.5 947.4 L1390.5 947.3 L1392.5 947.1 L1394.5 946.9 L1396.5 946.7 L1398.5 946.4 L1400.5 946.1 L1402.5 945.8 L1404.5 945.5 L1406.5 945.1 L1408.5 944.7 L1410.5 944.2 L1412.5 943.7 L1414.5 943.2 L1416.5 942.7 L1418.5 942.1 L1420.5 941.4 L1422.5 940.8 L1424.5 940 L1426.5 939.3 L1428.5 938.5 L1430.5 937.6 L1432.5 936.8 L1434.5 935.8 L1436.5 934.9 L1438.5 933.9 L1440.5 932.9 L1442.5 931.9 L1444.5 930.9 L1446.5 929.8 L1448.5 928.8 L1450.5 927.7 L1452.5 926.7 L1454.5 925.7 L1456.5 924.6 L1458.5 923.6 L1460.5 922.7 L1462.5 921.7 L1464.5 920.9 L1466.5 920 L1468.5 919.3 L1470.5 918.5 L1472.5 917.9 L1474.5 917.3 L1476.5 916.8 L1478.5 916.4 L1480.5 916.1 L1482.5 915.8 L1484.5 915.7 L1486.5 915.6 L1488.5 915.6 L1490.5 915.7 L1492.5 916 L1494.5 916.3 L1496.5 916.6 L1498.5 917.1 L1500.5 917.6 L1502.5 918.3 L1504.5 919 L1506.5 919.7 L1508.5 920.5 L1510.5 921.4 L1512.5 922.3 L1514.5 923.3 L1516.5 924.2 L1518.5 925.2 L1520.5 926.3 L1522.5 927.3 L1524.5 928.4 L1526.5 929.4 L1528.5 930.5 L1530.5 931.5 L1532.5 932.5 L1534.5 933.5 L1536.5 934.5 L1538.5 935.5 L1540.5 936.4 L1542.5 937.3 L1544.5 938.1 L1546.5 939 L1548.5 939.7 L1550.5 940.5 L1552.5 941.2 L1554.5 941.8 L1556.5 942.4 L1558.5 943 L1560.5 943.5 L1562.5 944 L1564.5 944.5 L1566.5 944.9 L1568.5 945.3 L1570.5 945.7 L1572.5 946 L1574.5 946.3 L1576.5 946.6 L1578.5 946.8 L1580.5 947 L1582.5 947.2 L1584.5 947.4 L1586.5 947.5 L1588.5 947.7" fill="none" stroke="#008000" stroke-width="2"/>
<path d="M1318.5 948.7 L1320.5 944.2 L1322.5 942.6 L1324.5 943.3 L1326.5 943.5 L1328.5 940.3 L1330.5 939.7 L1332.5 939.3 L1334.5 938.7 L1336.5 934.2 L1338.5 933.1 L1340.5 933.4 L1342.5 930.7 L1344.5 925.3 L1346.5 921.5 L1348.5 916.5 L1350.5 909.2 L1352.5 903.3 L1354.5 897.6 L1356.5 896.6 L1358.5 889.2 L1360.5 884.3 L1362.5 872.6 L1364.5 869.6 L1366.5 862.5 L1368.5 858 L1370.5 850.1 L1372.5 848.9 L1374.5 839.3 L1376.5 838.3 L1378.5 836.5 L1380.5 835.3 L1382.5 833.2 L1384.5 832.7 L1386.5 833.7 L1388.5 835.7 L1390.5 834.6 L1392.5 839.1 L1394.5 843.6 L1396.5 847 L1398.5 848.4 L1400.5 854.7 L1402.5 859.3 L1404.5 862 L1406.5 866.5 L1408.5 869.2 L1410.5 874.2 L1412.5 877.9 L1414.5 878.3 L1416.5 884.5 L1418.5 889.3 L1420.5 891.1 L1422.5 892.5 L1424.5 892.5 L1426.5 896.2 L1428.5 896.8 L1430.5 897.4 L1432.5 900.8 L1434.5 897.6 L1436.5 902.2 L1438.5 899 L1440.5 902.9 L1442.5 902.9 L1444.5 902.1 L1446.5 905.3 L1448.5 904.6 L1450.5 905.7 L1452.5 907.9 L1454.5 904.5 L1456.5 903.5 L1458.5 905.5 L1460.5 907.9 L1462.5 905.5 L1464.5 905.6 L1466.5 910 L1468.5 908.9 L1470.5 908 L1472.5 910.8 L1474.5 907.9 L1476.5 910.2 L1478.5 907.9 L1480.5 909.6 L1482.5 912.1 L1484.5 913.1 L1486.5 913.4 L1488.5 911.1 L1490.5 912.8 L1492.5 911.9 L1494.5 911.6 L1496.5 914.3 L1498.5 917 L1500.5 917.9 L1502.5 917.9 L1504.5 920.2 L1506.5 917.3 L1508.5 917.7 L1510.5 920.3 L1512.5 920.3 L1514.5 921.1 L1516.5 923.2 L1518.5 925.5 L1520.5 925.9 L1522.5 926 L1524.5 930 L1526.5 931.9 L1528.5 930 L1530.5 929 L1532.5 929.8 L1534.5 935.5 L1536.5 931.9 L1538.5 936.6 L1540.5 936.7 L1542.5 936.2 L1544.5 939.7 L1546.5 936.2 L1548.5 937.7 L1550.5 940.2 L1552.5 938.5 L1554.5 943.7 L1556.5 941 L1558.5 941 L1560.5 941 L1562.5 944.8 L1564.5 944.2 L1566.5 945.6 L1568.5 946.2 L1570.5 947.4 L1572.5 948.6 L1574.5 947.3 L1576.5 944.9 L1578.5 946.7 L1580.5 945.2 L1582.5 944.5 L1584.5 947.2 L1586.5 948.7 L1588.5 945.9" fill="none" stroke="#111" stroke-width="1.6" stroke-dasharray="2 2"/>
<path d="M1318.5 946.4 L1320.5 945.9 L1322.5 945.3 L1324.5 944.6 L1326.5 943.8 L1328.5 942.7 L1330.5 941.5 L1332.5 940.1 L1334.5 938.3 L1336.5 936.3 L1338.5 933.9 L1340.5 931.2 L1342.5 928 L1344.5 924.5 L1346.5 920.5 L1348.5 916 L1350.5 911.2 L1352.5 905.9 L1354.5 900.3 L1356.5 894.3 L1358.5 888.1 L1360.5 881.7 L1362.5 875.3 L1364.5 868.9 L1366.5 862.6 L1368.5 856.7 L1370.5 851.1 L1372.5 846.1 L1374.5 841.7 L1376.5 838 L1378.5 835.1 L1380.5 833.1 L1382.5 831.9 L1384.5 831.6 L1386.5 832.1 L1388.5 833.4 L1390.5 835.4 L1392.5 838.1 L1394.5 841.3 L1396.5 844.9 L1398.5 848.9 L1400.5 853 L1402.5 857.3 L1404.5 861.6 L1406.5 865.8 L1408.5 869.9 L1410.5 873.7 L1412.5 877.3 L1414.5 880.7 L1416.5 883.7 L1418.5 886.5 L1420.5 889 L1422.5 891.2 L1424.5 893.1 L1426.5 894.9 L1428.5 896.4 L1430.5 897.7 L1432.5 898.9 L1434.5 899.9 L1436.5 900.8 L1438.5 901.6 L1440.5 902.4 L1442.5 903 L1444.5 903.6 L1446.5 904.2 L1448.5 904.7 L1450.5 905.1 L1452.5 905.5 L1454.5 905.9 L1456.5 906.3 L1458.5 906.6 L1460.5 906.9 L1462.5 907.2 L1464.5 907.5 L1466.5 907.8 L1468.5 908 L1470.5 908.3 L1472.5 908.6 L1474.5 908.9 L1476.5 909.2 L1478.5 909.6 L1480.5 909.9 L1482.5 910.3 L1484.5 910.8 L1486.5 911.3 L1488.5 911.8 L1490.5 912.4 L1492.5 913 L1494.5 913.6 L1496.5 914.3 L1498.5 915.1 L1500.5 915.9 L1502.5 916.8 L1504.5 917.7 L1506.5 918.6 L1508.5 919.6 L1510.5 920.6 L1512.5 921.6 L1514.5 922.7 L1516.5 923.7 L1518.5 924.8 L1520.5 925.9 L1522.5 927 L1524.5 928.1 L1526.5 929.2 L1528.5 930.3 L1530.5 931.4 L1532.5 932.4 L1534.5 933.4 L1536.5 934.4 L1538.5 935.4 L1540.5 936.3 L1542.5 937.2 L1544.5 938.1 L1546.5 938.9 L1548.5 939.7 L1550.5 940.4 L1552.5 941.1 L1554.5 941.8 L1556.5 942.4 L1558.5 943 L1560.5 943.5 L1562.5 944 L1564.5 944.5 L1566.5 944.9 L1568.5 945.3 L1570.5 945.7 L1572.5 946 L1574.5 946.3 L1576.5 946.6 L1578.5 946.8 L1580.5 947 L1582.5 947.2 L1584.5 947.4 L1586.5 947.5 L1588.5 947.7" fill="none" stroke="#1f6fdc" stroke-width="4.5" stroke-linejoin="round"/>
<line x1="1317.5" y1="949.1" x2="1589.6" y2="949.1" stroke="#222" stroke-width="1.2"/>
<path d="M1318.5 1083 L1320.5 1082.7 L1322.5 1082.3 L1324.5 1081.7 L1326.5 1081 L1328.5 1080.2 L1330.5 1079.2 L1332.5 1078 L1334.5 1076.5 L1336.5 1074.8 L1338.5 1072.7 L1340.5 1070.4 L1342.5 1067.7 L1344.5 1064.7 L1346.5 1061.3 L1348.5 1057.7 L1350.5 1053.7 L1352.5 1049.4 L1354.5 1045 L1356.5 1040.4 L1358.5 1035.7 L1360.5 1031 L1362.5 1026.5 L1364.5 1022.1 L1366.5 1018.1 L1368.5 1014.5 L1370.5 1011.4 L1372.5 1008.9 L1374.5 1007 L1376.5 1005.9 L1378.5 1005.5 L1380.5 1005.9 L1382.5 1007 L1384.5 1008.9 L1386.5 1011.4 L1388.5 1014.5 L1390.5 1018.1 L1392.5 1022.1 L1394.5 1026.5 L1396.5 1031 L1398.5 1035.7 L1400.5 1040.4 L1402.5 1045 L1404.5 1049.4 L1406.5 1053.7 L1408.5 1057.7 L1410.5 1061.3 L1412.5 1064.7 L1414.5 1067.7 L1416.5 1070.4 L1418.5 1072.7 L1420.5 1074.8 L1422.5 1076.5 L1424.5 1078 L1426.5 1079.2 L1428.5 1080.2 L1430.5 1081 L1432.5 1081.7 L1434.5 1082.3 L1436.5 1082.7 L1438.5 1083 L1440.5 1083.3 L1442.5 1083.5 L1444.5 1083.6 L1446.5 1083.7 L1448.5 1083.8 L1448.5 1084 L1318.5 1084 Z" fill="rgba(0,0,255,0.5)"/>
<path d="M1318.5 1083 L1320.5 1082.7 L1322.5 1082.3 L1324.5 1081.7 L1326.5 1081 L1328.5 1080.2 L1330.5 1079.2 L1332.5 1078 L1334.5 1076.5 L1336.5 1074.8 L1338.5 1072.7 L1340.5 1070.4 L1342.5 1067.7 L1344.5 1064.7 L1346.5 1061.3 L1348.5 1057.7 L1350.5 1053.7 L1352.5 1049.4 L1354.5 1045 L1356.5 1040.4 L1358.5 1035.7 L1360.5 1031 L1362.5 1026.5 L1364.5 1022.1 L1366.5 1018.1 L1368.5 1014.5 L1370.5 1011.4 L1372.5 1008.9 L1374.5 1007 L1376.5 1005.9 L1378.5 1005.5 L1380.5 1005.9 L1382.5 1007 L1384.5 1008.9 L1386.5 1011.4 L1388.5 1014.5 L1390.5 1018.1 L1392.5 1022.1 L1394.5 1026.5 L1396.5 1031 L1398.5 1035.7 L1400.5 1040.4 L1402.5 1045 L1404.5 1049.4 L1406.5 1053.7 L1408.5 1057.7 L1410.5 1061.3 L1412.5 1064.7 L1414.5 1067.7 L1416.5 1070.4 L1418.5 1072.7 L1420.5 1074.8 L1422.5 1076.5 L1424.5 1078 L1426.5 1079.2 L1428.5 1080.2 L1430.5 1081 L1432.5 1081.7 L1434.5 1082.3 L1436.5 1082.7 L1438.5 1083 L1440.5 1083.3 L1442.5 1083.5 L1444.5 1083.6 L1446.5 1083.7 L1448.5 1083.8" fill="none" stroke="#0000ff" stroke-width="2"/>
<path d="M1318.5 1080 L1320.5 1079.5 L1322.5 1079 L1324.5 1078.5 L1326.5 1077.9 L1328.5 1077.2 L1330.5 1076.5 L1332.5 1075.8 L1334.5 1075 L1336.5 1074.1 L1338.5 1073.2 L1340.5 1072.3 L1342.5 1071.3 L1344.5 1070.2 L1346.5 1069.1 L1348.5 1067.9 L1350.5 1066.7 L1352.5 1065.4 L1354.5 1064.1 L1356.5 1062.8 L1358.5 1061.4 L1360.5 1060 L1362.5 1058.5 L1364.5 1057.1 L1366.5 1055.6 L1368.5 1054.1 L1370.5 1052.7 L1372.5 1051.2 L1374.5 1049.8 L1376.5 1048.4 L1378.5 1047 L1380.5 1045.6 L1382.5 1044.4 L1384.5 1043.1 L1386.5 1042 L1388.5 1040.9 L1390.5 1039.9 L1392.5 1039 L1394.5 1038.1 L1396.5 1037.4 L1398.5 1036.8 L1400.5 1036.3 L1402.5 1035.9 L1404.5 1035.7 L1406.5 1035.5 L1408.5 1035.5 L1410.5 1035.6 L1412.5 1035.8 L1414.5 1036.2 L1416.5 1036.6 L1418.5 1037.2 L1420.5 1037.8 L1422.5 1038.6 L1424.5 1039.5 L1426.5 1040.5 L1428.5 1041.5 L1430.5 1042.7 L1432.5 1043.9 L1434.5 1045.1 L1436.5 1046.4 L1438.5 1047.8 L1440.5 1049.2 L1442.5 1050.6 L1444.5 1052.1 L1446.5 1053.6 L1448.5 1055 L1450.5 1056.5 L1452.5 1058 L1454.5 1059.4 L1456.5 1060.8 L1458.5 1062.2 L1460.5 1063.6 L1462.5 1064.9 L1464.5 1066.2 L1466.5 1067.4 L1468.5 1068.6 L1470.5 1069.7 L1472.5 1070.8 L1474.5 1071.9 L1476.5 1072.9 L1478.5 1073.8 L1480.5 1074.7 L1482.5 1075.5 L1484.5 1076.2 L1486.5 1077 L1488.5 1077.6 L1490.5 1078.2 L1492.5 1078.8 L1494.5 1079.3 L1496.5 1079.8 L1498.5 1080.3 L1500.5 1080.7 L1502.5 1081 L1504.5 1081.4 L1506.5 1081.7 L1508.5 1081.9 L1510.5 1082.2 L1512.5 1082.4 L1514.5 1082.6 L1516.5 1082.8 L1518.5 1082.9 L1520.5 1083.1 L1522.5 1083.2 L1524.5 1083.3 L1526.5 1083.4 L1528.5 1083.5 L1530.5 1083.6 L1532.5 1083.6 L1534.5 1083.7 L1536.5 1083.7 L1538.5 1083.8 L1538.5 1084 L1318.5 1084 Z" fill="rgba(255,0,0,0.5)"/>
<path d="M1318.5 1080 L1320.5 1079.5 L1322.5 1079 L1324.5 1078.5 L1326.5 1077.9 L1328.5 1077.2 L1330.5 1076.5 L1332.5 1075.8 L1334.5 1075 L1336.5 1074.1 L1338.5 1073.2 L1340.5 1072.3 L1342.5 1071.3 L1344.5 1070.2 L1346.5 1069.1 L1348.5 1067.9 L1350.5 1066.7 L1352.5 1065.4 L1354.5 1064.1 L1356.5 1062.8 L1358.5 1061.4 L1360.5 1060 L1362.5 1058.5 L1364.5 1057.1 L1366.5 1055.6 L1368.5 1054.1 L1370.5 1052.7 L1372.5 1051.2 L1374.5 1049.8 L1376.5 1048.4 L1378.5 1047 L1380.5 1045.6 L1382.5 1044.4 L1384.5 1043.1 L1386.5 1042 L1388.5 1040.9 L1390.5 1039.9 L1392.5 1039 L1394.5 1038.1 L1396.5 1037.4 L1398.5 1036.8 L1400.5 1036.3 L1402.5 1035.9 L1404.5 1035.7 L1406.5 1035.5 L1408.5 1035.5 L1410.5 1035.6 L1412.5 1035.8 L1414.5 1036.2 L1416.5 1036.6 L1418.5 1037.2 L1420.5 1037.8 L1422.5 1038.6 L1424.5 1039.5 L1426.5 1040.5 L1428.5 1041.5 L1430.5 1042.7 L1432.5 1043.9 L1434.5 1045.1 L1436.5 1046.4 L1438.5 1047.8 L1440.5 1049.2 L1442.5 1050.6 L1444.5 1052.1 L1446.5 1053.6 L1448.5 1055 L1450.5 1056.5 L1452.5 1058 L1454.5 1059.4 L1456.5 1060.8 L1458.5 1062.2 L1460.5 1063.6 L1462.5 1064.9 L1464.5 1066.2 L1466.5 1067.4 L1468.5 1068.6 L1470.5 1069.7 L1472.5 1070.8 L1474.5 1071.9 L1476.5 1072.9 L1478.5 1073.8 L1480.5 1074.7 L1482.5 1075.5 L1484.5 1076.2 L1486.5 1077 L1488.5 1077.6 L1490.5 1078.2 L1492.5 1078.8 L1494.5 1079.3 L1496.5 1079.8 L1498.5 1080.3 L1500.5 1080.7 L1502.5 1081 L1504.5 1081.4 L1506.5 1081.7 L1508.5 1081.9 L1510.5 1082.2 L1512.5 1082.4 L1514.5 1082.6 L1516.5 1082.8 L1518.5 1082.9 L1520.5 1083.1 L1522.5 1083.2 L1524.5 1083.3 L1526.5 1083.4 L1528.5 1083.5 L1530.5 1083.6 L1532.5 1083.6 L1534.5 1083.7 L1536.5 1083.7 L1538.5 1083.8" fill="none" stroke="#ff0000" stroke-width="2"/>
<path d="M1366.5 1083.8 L1368.5 1083.8 L1370.5 1083.7 L1372.5 1083.7 L1374.5 1083.6 L1376.5 1083.5 L1378.5 1083.4 L1380.5 1083.3 L1382.5 1083.2 L1384.5 1083.1 L1386.5 1082.9 L1388.5 1082.8 L1390.5 1082.6 L1392.5 1082.4 L1394.5 1082.1 L1396.5 1081.9 L1398.5 1081.6 L1400.5 1081.2 L1402.5 1080.8 L1404.5 1080.4 L1406.5 1080 L1408.5 1079.5 L1410.5 1078.9 L1412.5 1078.3 L1414.5 1077.6 L1416.5 1076.9 L1418.5 1076.2 L1420.5 1075.3 L1422.5 1074.4 L1424.5 1073.5 L1426.5 1072.5 L1428.5 1071.4 L1430.5 1070.3 L1432.5 1069.1 L1434.5 1067.9 L1436.5 1066.6 L1438.5 1065.3 L1440.5 1063.9 L1442.5 1062.5 L1444.5 1061.1 L1446.5 1059.6 L1448.5 1058.2 L1450.5 1056.7 L1452.5 1055.2 L1454.5 1053.7 L1456.5 1052.3 L1458.5 1050.9 L1460.5 1049.5 L1462.5 1048.1 L1464.5 1046.9 L1466.5 1045.7 L1468.5 1044.5 L1470.5 1043.5 L1472.5 1042.6 L1474.5 1041.7 L1476.5 1041 L1478.5 1040.4 L1480.5 1039.9 L1482.5 1039.5 L1484.5 1039.3 L1486.5 1039.2 L1488.5 1039.2 L1490.5 1039.4 L1492.5 1039.7 L1494.5 1040.1 L1496.5 1040.7 L1498.5 1041.3 L1500.5 1042.1 L1502.5 1043 L1504.5 1044 L1506.5 1045.1 L1508.5 1046.3 L1510.5 1047.5 L1512.5 1048.8 L1514.5 1050.2 L1516.5 1051.6 L1518.5 1053 L1520.5 1054.5 L1522.5 1055.9 L1524.5 1057.4 L1526.5 1058.9 L1528.5 1060.4 L1530.5 1061.8 L1532.5 1063.2 L1534.5 1064.6 L1536.5 1066 L1538.5 1067.3 L1540.5 1068.5 L1542.5 1069.7 L1544.5 1070.9 L1546.5 1072 L1548.5 1073 L1550.5 1074 L1552.5 1074.9 L1554.5 1075.7 L1556.5 1076.5 L1558.5 1077.3 L1560.5 1078 L1562.5 1078.6 L1564.5 1079.2 L1566.5 1079.7 L1568.5 1080.2 L1570.5 1080.6 L1572.5 1081 L1574.5 1081.4 L1576.5 1081.7 L1578.5 1082 L1580.5 1082.3 L1582.5 1082.5 L1584.5 1082.7 L1586.5 1082.9 L1588.5 1083 L1588.5 1084 L1366.5 1084 Z" fill="rgba(0,128,0,0.5)"/>
<path d="M1366.5 1083.8 L1368.5 1083.8 L1370.5 1083.7 L1372.5 1083.7 L1374.5 1083.6 L1376.5 1083.5 L1378.5 1083.4 L1380.5 1083.3 L1382.5 1083.2 L1384.5 1083.1 L1386.5 1082.9 L1388.5 1082.8 L1390.5 1082.6 L1392.5 1082.4 L1394.5 1082.1 L1396.5 1081.9 L1398.5 1081.6 L1400.5 1081.2 L1402.5 1080.8 L1404.5 1080.4 L1406.5 1080 L1408.5 1079.5 L1410.5 1078.9 L1412.5 1078.3 L1414.5 1077.6 L1416.5 1076.9 L1418.5 1076.2 L1420.5 1075.3 L1422.5 1074.4 L1424.5 1073.5 L1426.5 1072.5 L1428.5 1071.4 L1430.5 1070.3 L1432.5 1069.1 L1434.5 1067.9 L1436.5 1066.6 L1438.5 1065.3 L1440.5 1063.9 L1442.5 1062.5 L1444.5 1061.1 L1446.5 1059.6 L1448.5 1058.2 L1450.5 1056.7 L1452.5 1055.2 L1454.5 1053.7 L1456.5 1052.3 L1458.5 1050.9 L1460.5 1049.5 L1462.5 1048.1 L1464.5 1046.9 L1466.5 1045.7 L1468.5 1044.5 L1470.5 1043.5 L1472.5 1042.6 L1474.5 1041.7 L1476.5 1041 L1478.5 1040.4 L1480.5 1039.9 L1482.5 1039.5 L1484.5 1039.3 L1486.5 1039.2 L1488.5 1039.2 L1490.5 1039.4 L1492.5 1039.7 L1494.5 1040.1 L1496.5 1040.7 L1498.5 1041.3 L1500.5 1042.1 L1502.5 1043 L1504.5 1044 L1506.5 1045.1 L1508.5 1046.3 L1510.5 1047.5 L1512.5 1048.8 L1514.5 1050.2 L1516.5 1051.6 L1518.5 1053 L1520.5 1054.5 L1522.5 1055.9 L1524.5 1057.4 L1526.5 1058.9 L1528.5 1060.4 L1530.5 1061.8 L1532.5 1063.2 L1534.5 1064.6 L1536.5 1066 L1538.5 1067.3 L1540.5 1068.5 L1542.5 1069.7 L1544.5 1070.9 L1546.5 1072 L1548.5 1073 L1550.5 1074 L1552.5 1074.9 L1554.5 1075.7 L1556.5 1076.5 L1558.5 1077.3 L1560.5 1078 L1562.5 1078.6 L1564.5 1079.2 L1566.5 1079.7 L1568.5 1080.2 L1570.5 1080.6 L1572.5 1081 L1574.5 1081.4 L1576.5 1081.7 L1578.5 1082 L1580.5 1082.3 L1582.5 1082.5 L1584.5 1082.7 L1586.5 1082.9 L1588.5 1083" fill="none" stroke="#008000" stroke-width="2"/>
<path d="M1318.5 1077.7 L1320.5 1077.4 L1322.5 1078.4 L1324.5 1076.3 L1326.5 1075.6 L1328.5 1074.9 L1330.5 1071.1 L1332.5 1071.4 L1334.5 1069.8 L1336.5 1062.6 L1338.5 1064.4 L1340.5 1059.9 L1342.5 1052.9 L1344.5 1050.6 L1346.5 1047.1 L1348.5 1043.8 L1350.5 1035.6 L1352.5 1031.2 L1354.5 1027.1 L1356.5 1020.7 L1358.5 1015.5 L1360.5 1006.7 L1362.5 1001.7 L1364.5 993.4 L1366.5 990.7 L1368.5 986.2 L1370.5 980.5 L1372.5 976.9 L1374.5 970.8 L1376.5 972 L1378.5 970.6 L1380.5 969.5 L1382.5 966.8 L1384.5 968.7 L1386.5 967.3 L1388.5 972.4 L1390.5 974.5 L1392.5 974.6 L1394.5 976.4 L1396.5 982 L1398.5 986.3 L1400.5 991.4 L1402.5 993.7 L1404.5 994.9 L1406.5 1002.9 L1408.5 1002.2 L1410.5 1009.5 L1412.5 1009 L1414.5 1012.6 L1416.5 1017.5 L1418.5 1016 L1420.5 1018 L1422.5 1021.7 L1424.5 1024.2 L1426.5 1026.1 L1428.5 1026.2 L1430.5 1028.5 L1432.5 1026.7 L1434.5 1029.8 L1436.5 1025.4 L1438.5 1026.5 L1440.5 1028.5 L1442.5 1027.4 L1444.5 1030.1 L1446.5 1029.7 L1448.5 1029.1 L1450.5 1031 L1452.5 1029.4 L1454.5 1028 L1456.5 1028.4 L1458.5 1031 L1460.5 1031.3 L1462.5 1027.4 L1464.5 1031 L1466.5 1031.7 L1468.5 1029.3 L1470.5 1029.7 L1472.5 1027.7 L1474.5 1029.8 L1476.5 1029.9 L1478.5 1030.8 L1480.5 1027.9 L1482.5 1033.6 L1484.5 1031.6 L1486.5 1031.6 L1488.5 1034.6 L1490.5 1034 L1492.5 1034.5 L1494.5 1036.5 L1496.5 1034.1 L1498.5 1037.8 L1500.5 1038.3 L1502.5 1042.6 L1504.5 1043.8 L1506.5 1041.5 L1508.5 1044.1 L1510.5 1043.6 L1512.5 1046.8 L1514.5 1050.5 L1516.5 1052.6 L1518.5 1051.8 L1520.5 1052.5 L1522.5 1053.4 L1524.5 1057.4 L1526.5 1060.7 L1528.5 1057.8 L1530.5 1062.9 L1532.5 1060.2 L1534.5 1062.6 L1536.5 1064.2 L1538.5 1068.1 L1540.5 1067.3 L1542.5 1068.7 L1544.5 1071.4 L1546.5 1069.6 L1548.5 1074.2 L1550.5 1071.8 L1552.5 1074.9 L1554.5 1074.3 L1556.5 1074.8 L1558.5 1077.4 L1560.5 1077.6 L1562.5 1077.9 L1564.5 1078.7 L1566.5 1079.9 L1568.5 1078.3 L1570.5 1079 L1572.5 1081.8 L1574.5 1082.2 L1576.5 1081.9 L1578.5 1084 L1580.5 1082.9 L1582.5 1084.5 L1584.5 1081.2 L1586.5 1084.2 L1588.5 1084.8" fill="none" stroke="#111" stroke-width="1.6" stroke-dasharray="2 2"/>
<path d="M1318.5 1079 L1320.5 1078.2 L1322.5 1077.3 L1324.5 1076.2 L1326.5 1074.9 L1328.5 1073.5 L1330.5 1071.7 L1332.5 1069.8 L1334.5 1067.5 L1336.5 1064.9 L1338.5 1062 L1340.5 1058.6 L1342.5 1054.9 L1344.5 1050.9 L1346.5 1046.4 L1348.5 1041.5 L1350.5 1036.3 L1352.5 1030.8 L1354.5 1025 L1356.5 1019 L1358.5 1013 L1360.5 1006.9 L1362.5 1000.8 L1364.5 995 L1366.5 989.5 L1368.5 984.4 L1370.5 979.7 L1372.5 975.7 L1374.5 972.4 L1376.5 969.8 L1378.5 967.9 L1380.5 966.9 L1382.5 966.6 L1384.5 967.1 L1386.5 968.3 L1388.5 970.1 L1390.5 972.6 L1392.5 975.5 L1394.5 978.7 L1396.5 982.3 L1398.5 986.1 L1400.5 989.9 L1402.5 993.8 L1404.5 997.5 L1406.5 1001.2 L1408.5 1004.6 L1410.5 1007.8 L1412.5 1010.8 L1414.5 1013.5 L1416.5 1015.9 L1418.5 1018.1 L1420.5 1019.9 L1422.5 1021.6 L1424.5 1023 L1426.5 1024.2 L1428.5 1025.2 L1430.5 1026 L1432.5 1026.7 L1434.5 1027.3 L1436.5 1027.7 L1438.5 1028.1 L1440.5 1028.4 L1442.5 1028.6 L1444.5 1028.8 L1446.5 1028.9 L1448.5 1029 L1450.5 1029 L1452.5 1029.1 L1454.5 1029.1 L1456.5 1029 L1458.5 1029 L1460.5 1029 L1462.5 1029 L1464.5 1029 L1466.5 1029.1 L1468.5 1029.1 L1470.5 1029.3 L1472.5 1029.4 L1474.5 1029.6 L1476.5 1029.9 L1478.5 1030.2 L1480.5 1030.6 L1482.5 1031 L1484.5 1031.6 L1486.5 1032.2 L1488.5 1032.9 L1490.5 1033.7 L1492.5 1034.5 L1494.5 1035.5 L1496.5 1036.5 L1498.5 1037.6 L1500.5 1038.8 L1502.5 1040.1 L1504.5 1041.4 L1506.5 1042.8 L1508.5 1044.2 L1510.5 1045.7 L1512.5 1047.2 L1514.5 1048.8 L1516.5 1050.4 L1518.5 1051.9 L1520.5 1053.5 L1522.5 1055.1 L1524.5 1056.7 L1526.5 1058.3 L1528.5 1059.8 L1530.5 1061.4 L1532.5 1062.8 L1534.5 1064.3 L1536.5 1065.7 L1538.5 1067 L1540.5 1068.3 L1542.5 1069.6 L1544.5 1070.7 L1546.5 1071.8 L1548.5 1072.9 L1550.5 1073.9 L1552.5 1074.8 L1554.5 1075.7 L1556.5 1076.5 L1558.5 1077.2 L1560.5 1077.9 L1562.5 1078.6 L1564.5 1079.2 L1566.5 1079.7 L1568.5 1080.2 L1570.5 1080.6 L1572.5 1081 L1574.5 1081.4 L1576.5 1081.7 L1578.5 1082 L1580.5 1082.3 L1582.5 1082.5 L1584.5 1082.7 L1586.5 1082.9 L1588.5 1083" fill="none" stroke="#e84545" stroke-width="4.5" stroke-linejoin="round"/>
<line x1="1317.5" y1="1084.5" x2="1589.6" y2="1084.5" stroke="#222" stroke-width="1.2"/>
<rect x="1317.5" y="654" width="272.1" height="455.4" fill="none" stroke="#111" stroke-width="2.2"/>
<line x1="1317.5" y1="684.8" x2="1324.5" y2="684.8" stroke="#111" stroke-width="2"/>
<line x1="1317.5" y1="715.2" x2="1321.5" y2="715.2" stroke="#111" stroke-width="2"/>
<line x1="1317.5" y1="746" x2="1324.5" y2="746" stroke="#111" stroke-width="2"/>
<line x1="1317.5" y1="777" x2="1321.5" y2="777" stroke="#111" stroke-width="2"/>
<line x1="1317.5" y1="808.8" x2="1324.5" y2="808.8" stroke="#111" stroke-width="2"/>
<line x1="1317.5" y1="838.7" x2="1324.5" y2="838.7" stroke="#111" stroke-width="2"/>
<line x1="1317.5" y1="869" x2="1321.5" y2="869" stroke="#111" stroke-width="2"/>
<line x1="1317.5" y1="899.8" x2="1324.5" y2="899.8" stroke="#111" stroke-width="2"/>
<line x1="1317.5" y1="930.5" x2="1321.5" y2="930.5" stroke="#111" stroke-width="2"/>
<line x1="1317.5" y1="961.7" x2="1324.5" y2="961.7" stroke="#111" stroke-width="2"/>
<line x1="1317.5" y1="992.6" x2="1321.5" y2="992.6" stroke="#111" stroke-width="2"/>
<line x1="1317.5" y1="1023.3" x2="1324.5" y2="1023.3" stroke="#111" stroke-width="2"/>
<line x1="1317.5" y1="1054.4" x2="1321.5" y2="1054.4" stroke="#111" stroke-width="2"/>
<line x1="1362.9" y1="1109.4" x2="1362.9" y2="1104.4" stroke="#111" stroke-width="2"/>
<line x1="1408.2" y1="1109.4" x2="1408.2" y2="1102.4" stroke="#111" stroke-width="2"/>
<line x1="1453.6" y1="1109.4" x2="1453.6" y2="1104.4" stroke="#111" stroke-width="2"/>
<line x1="1498.9" y1="1109.4" x2="1498.9" y2="1102.4" stroke="#111" stroke-width="2"/>
<line x1="1544.2" y1="1109.4" x2="1544.2" y2="1104.4" stroke="#111" stroke-width="2"/>
<text x="1317.6" y="1145" font-size="30.5" fill="#000" text-anchor="middle">690</text>
<text x="1408.2" y="1145" font-size="30.5" fill="#000" text-anchor="middle">730</text>
<text x="1498.9" y="1145" font-size="30.5" fill="#000" text-anchor="middle">770</text>
<text x="1589.5" y="1145" font-size="30.5" fill="#000" text-anchor="middle">810</text>
<text x="1452" y="1178.5" font-size="30.5" fill="#000" text-anchor="middle">Wavelength (nm)</text>
<text x="1296" y="867" font-size="30.5" fill="#000" text-anchor="middle" transform="rotate(-90 1296 867)">Intensity (arb. units)</text>
<text x="1398" y="685" font-size="25" fill="#0000ff" text-anchor="start">X<tspan font-size="17" dy="-9">0</tspan></text>
<text x="1441.5" y="741.6" font-size="25" fill="#ff0000" text-anchor="start">X<tspan font-size="20" dy="-10">-</tspan></text>
<text x="1482" y="779.4" font-size="25" fill="#008000" text-anchor="start">D</text>
<text x="1572.6" y="798.4" font-size="24" fill="#3cb371" text-anchor="start" transform="rotate(-90 1572.6 798.4)">L ~ 4.2 <tspan font-family="Liberation Serif">μ</tspan>m</text>
<text x="1572.6" y="935" font-size="24" fill="#1f6fdc" text-anchor="start" transform="rotate(-90 1572.6 935)">L ~ 1.8 <tspan font-family="Liberation Serif">μ</tspan>m</text>
<text x="1572.6" y="1076" font-size="24" fill="#e84545" text-anchor="start" transform="rotate(-90 1572.6 1076)">L ~ 0.7 <tspan font-family="Liberation Serif">μ</tspan>m</text>
<g clip-path="url(#cgm)"><g filter="url(#vbl)"><rect x="1695.5" y="634.4" width="272.9" height="18.6" fill="url(#gr0)"/><rect x="1695.5" y="652" width="272.9" height="18.6" fill="url(#gr1)"/><rect x="1695.5" y="669.6" width="272.9" height="18.6" fill="url(#gr2)"/><rect x="1695.5" y="687.2" width="272.9" height="18.6" fill="url(#gr3)"/><rect x="1695.5" y="704.8" width="272.9" height="18.6" fill="url(#gr4)"/><rect x="1695.5" y="722.4" width="272.9" height="18.6" fill="url(#gr5)"/><rect x="1695.5" y="740" width="272.9" height="18.6" fill="url(#gr6)"/><rect x="1695.5" y="757.6" width="272.9" height="18.6" fill="url(#gr7)"/><rect x="1695.5" y="775.2" width="272.9" height="18.6" fill="url(#gr8)"/><rect x="1695.5" y="792.8" width="272.9" height="18.6" fill="url(#gr9)"/><rect x="1695.5" y="810.4" width="272.9" height="18.6" fill="url(#gr10)"/><rect x="1695.5" y="828" width="272.9" height="18.6" fill="url(#gr11)"/><rect x="1695.5" y="845.6" width="272.9" height="18.6" fill="url(#gr12)"/><rect x="1695.5" y="863.2" width="272.9" height="18.6" fill="url(#gr13)"/><rect x="1695.5" y="880.8" width="272.9" height="18.6" fill="url(#gr14)"/><rect x="1695.5" y="898.3" width="272.9" height="18.6" fill="url(#gr15)"/><rect x="1695.5" y="915.9" width="272.9" height="18.6" fill="url(#gr16)"/><rect x="1695.5" y="933.5" width="272.9" height="18.6" fill="url(#gr17)"/><rect x="1695.5" y="951.1" width="272.9" height="18.6" fill="url(#gr18)"/><rect x="1695.5" y="968.7" width="272.9" height="18.6" fill="url(#gr19)"/><rect x="1695.5" y="986.3" width="272.9" height="18.6" fill="url(#gr20)"/><rect x="1695.5" y="1003.9" width="272.9" height="18.6" fill="url(#gr21)"/><rect x="1695.5" y="1021.5" width="272.9" height="18.6" fill="url(#gr22)"/><rect x="1695.5" y="1039.1" width="272.9" height="18.6" fill="url(#gr23)"/><rect x="1695.5" y="1056.7" width="272.9" height="18.6" fill="url(#gr24)"/><rect x="1695.5" y="1074.3" width="272.9" height="18.6" fill="url(#gr25)"/><rect x="1695.5" y="1091.9" width="272.9" height="18.6" fill="url(#gr26)"/><rect x="1695.5" y="1109.5" width="272.9" height="18.6" fill="url(#gr27)"/></g></g>
<rect x="1695.5" y="652.5" width="272.9" height="457.5" fill="none" stroke="#333" stroke-width="2"/>
<line x1="1695.5" y1="704.6" x2="1700.5" y2="704.6" stroke="#222" stroke-width="1.6"/>
<line x1="1695.5" y1="757" x2="1700.5" y2="757" stroke="#222" stroke-width="1.6"/>
<line x1="1695.5" y1="809.2" x2="1700.5" y2="809.2" stroke="#222" stroke-width="1.6"/>
<line x1="1695.5" y1="861" x2="1700.5" y2="861" stroke="#222" stroke-width="1.6"/>
<line x1="1695.5" y1="913.2" x2="1700.5" y2="913.2" stroke="#222" stroke-width="1.6"/>
<line x1="1695.5" y1="965.4" x2="1700.5" y2="965.4" stroke="#222" stroke-width="1.6"/>
<line x1="1695.5" y1="1017.6" x2="1700.5" y2="1017.6" stroke="#222" stroke-width="1.6"/>
<line x1="1695.5" y1="1069.8" x2="1700.5" y2="1069.8" stroke="#222" stroke-width="1.6"/>
<line x1="1718.2" y1="1110" x2="1718.2" y2="1107" stroke="#222" stroke-width="1.6"/>
<line x1="1741" y1="1110" x2="1741" y2="1105" stroke="#222" stroke-width="1.6"/>
<line x1="1763.7" y1="1110" x2="1763.7" y2="1107" stroke="#222" stroke-width="1.6"/>
<line x1="1786.5" y1="1110" x2="1786.5" y2="1105" stroke="#222" stroke-width="1.6"/>
<line x1="1809.2" y1="1110" x2="1809.2" y2="1107" stroke="#222" stroke-width="1.6"/>
<line x1="1832" y1="1110" x2="1832" y2="1105" stroke="#222" stroke-width="1.6"/>
<line x1="1854.7" y1="1110" x2="1854.7" y2="1107" stroke="#222" stroke-width="1.6"/>
<line x1="1877.4" y1="1110" x2="1877.4" y2="1105" stroke="#222" stroke-width="1.6"/>
<line x1="1900.2" y1="1110" x2="1900.2" y2="1107" stroke="#222" stroke-width="1.6"/>
<line x1="1922.9" y1="1110" x2="1922.9" y2="1105" stroke="#222" stroke-width="1.6"/>
<line x1="1945.7" y1="1110" x2="1945.7" y2="1107" stroke="#222" stroke-width="1.6"/>
<text x="1695.5" y="1145" font-size="30.5" fill="#000" text-anchor="middle">690</text>
<text x="1786.5" y="1145" font-size="30.5" fill="#000" text-anchor="middle">730</text>
<text x="1877.4" y="1145" font-size="30.5" fill="#000" text-anchor="middle">770</text>
<text x="1968.4" y="1145" font-size="30.5" fill="#000" text-anchor="middle">810</text>
<text x="1831" y="1178.5" font-size="30.5" fill="#000" text-anchor="middle">Wavelength (nm)</text>
<text x="1676" y="884" font-size="30.5" fill="#000" text-anchor="middle" transform="rotate(-90 1676 884)">Temperature (K)</text>
<rect x="1932" y="889.8" width="17.5" height="60.5" fill="url(#cbar)" stroke="none" stroke-width="0"/>
<text x="1948" y="879" font-size="24.5" fill="#fff" text-anchor="start" transform="rotate(-90 1948 879)">Intensity (arb. units)</text>
<text x="1729" y="821.7" font-size="24.5" fill="#fff" text-anchor="start" transform="rotate(-90 1729 821.7)" word-spacing="1.8">80 K <tspan font-family="DejaVu Sans" font-size="27">→</tspan> 300 K</text>
<line x1="1796.7" y1="665.2" x2="1754.7" y2="1083.1" stroke="#000" stroke-width="1.8" stroke-dasharray="4 2.6"/>
<path d="M1753.5 1095 L1750.2 1082.6 L1759.2 1083.5 Z" fill="#000" stroke="none" stroke-width="0"/>
<line x1="1831.9" y1="667.6" x2="1784.8" y2="1085.1" stroke="#000" stroke-width="1.8" stroke-dasharray="4 2.6"/>
<path d="M1783.5 1097 L1780.4 1084.6 L1789.3 1085.6 Z" fill="#000" stroke="none" stroke-width="0"/>
<line x1="1885.9" y1="876.5" x2="1863.7" y2="1082.9" stroke="#000" stroke-width="1.8" stroke-dasharray="4 2.6"/>
<path d="M1862.4 1094.8 L1859.2 1082.4 L1868.2 1083.4 Z" fill="#000" stroke="none" stroke-width="0"/>
<text x="1720" y="1052" font-size="25" fill="#000" text-anchor="start">X<tspan font-size="17" dy="-9">0</tspan></text>
<text x="1797" y="1052" font-size="25" fill="#000" text-anchor="start">X<tspan font-size="20" dy="-10">-</tspan></text>
<text x="1838.5" y="1052" font-size="25" fill="#000" text-anchor="start">D</text>
</svg>
</body></html>
